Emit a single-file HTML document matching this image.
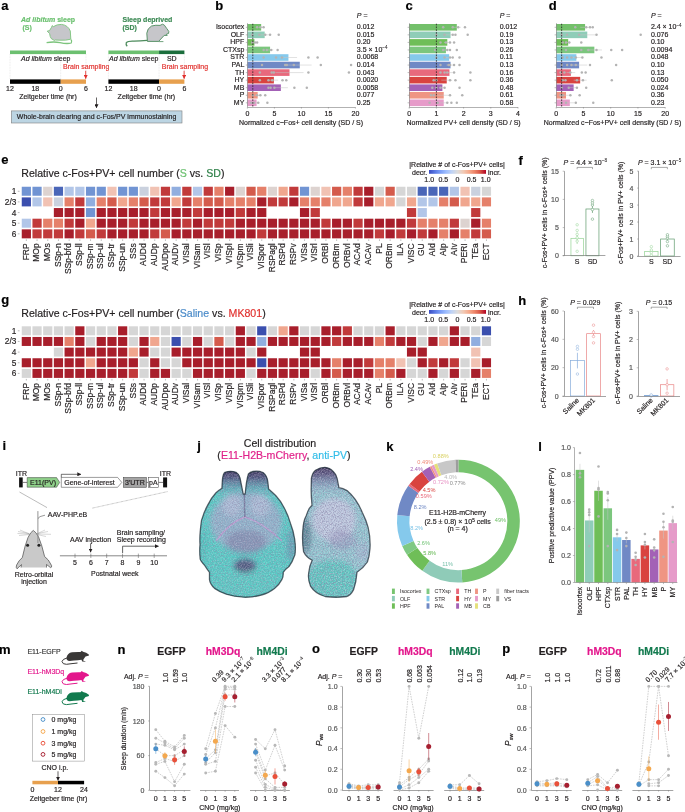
<!DOCTYPE html>
<html><head><meta charset="utf-8"><title>Figure</title>
<style>
html,body{margin:0;padding:0;background:#fff;}
body{width:685px;height:812px;overflow:hidden;}
svg{display:block;font-family:"Liberation Sans", sans-serif;font-size:7px;fill:#231f20;will-change:transform;}
text{stroke-width:0.18px;}
</style></head><body>
<svg width="685" height="812" viewBox="0 0 685 812">
<defs>
<marker id="arr" viewBox="0 0 6 6" refX="5.5" refY="3" markerUnits="userSpaceOnUse" markerWidth="4" markerHeight="4" orient="auto"><path d="M0,0 L6,3 L0,6 z" fill="#231f20"/></marker>
<marker id="arrR" viewBox="0 0 6 6" refX="5.5" refY="3" markerUnits="userSpaceOnUse" markerWidth="4" markerHeight="4" orient="auto"><path d="M0,0 L6,3 L0,6 z" fill="#e1312e"/></marker>
<linearGradient id="cw" x1="0" x2="1" y1="0" y2="0"><stop offset="0.00" stop-color="#3a4cc0"/><stop offset="0.10" stop-color="#5876e2"/><stop offset="0.20" stop-color="#7b9ef8"/><stop offset="0.30" stop-color="#9dbdfe"/><stop offset="0.40" stop-color="#c0d3f5"/><stop offset="0.50" stop-color="#dddcdb"/><stop offset="0.60" stop-color="#f1cab6"/><stop offset="0.70" stop-color="#f6ab8d"/><stop offset="0.80" stop-color="#ed8467"/><stop offset="0.90" stop-color="#d65243"/><stop offset="1.00" stop-color="#b30326"/></linearGradient>
<clipPath id="cb1"><path d="M221.9,488.4 L222.4,480 Q223,473.5 225,472.3 Q230.7,470.3 236,472.3 Q239,474 240,478 L243.2,494 L245.2,494 Q246.4,480 248.4,474 Q250,472.3 253,471.5 Q258.4,470.5 263,472.5 Q267.5,476 267.9,482.5 L268.6,489 Q272,492 275.9,495.7 Q281,501 284.7,508.8 Q288,515 290.5,523.4 Q293.5,531 294.6,538.8 Q296,548 294.9,554.8 Q292.5,562 289,566.5 Q285,569.5 283.2,572.3 Q283.6,576 281.8,579.6 Q279,585 274.5,588.4 Q268,593.5 261.3,595 Q252,597.5 243.8,597.2 Q234,596.5 226.3,594.2 Q219,591.5 214.6,588.4 Q210,584 209.5,579.6 L209.5,572.3 Q206.5,568.5 204.4,565 Q200.6,561 200.2,559.2 Q199.4,552 200,544.6 Q199.6,537 200.3,530.7 Q200.8,525 201.5,520.5 Q204,512 207.3,505.9 Q211,498 216,492.7 Q219,490 221.9,488.4 Z"/></clipPath>
<clipPath id="cb2"><path d="M311.4,478.4 Q312.5,472.5 315.5,470.2 Q320,467.3 324.9,467.3 Q330,467.8 333,471.3 Q336.4,474.5 337.1,478.4 L338.9,487.7 Q343,488.3 347,490.6 Q351.5,494.5 355.2,499.4 Q359.5,505.5 362.2,512.2 Q366,519.5 368.1,527.4 Q370.6,538 370,548.2 Q369.5,556 367.4,562 Q363,568.5 357,572.3 Q356.3,582 353.6,589.6 Q350.5,595.5 346.7,596.5 Q336,598 325.2,596.5 Q315,593.5 310.5,586.1 Q307.6,579 308.8,572.3 Q309.5,565.5 312.2,560.3 Q306,557 303.6,551.7 Q302,541 302.8,531 Q303.2,521 306.2,515.7 Q307.8,511 309.1,508.7 L312,505.2 Q311,495 311.2,488 Z"/></clipPath>
<filter id="spk" x="0" y="0" width="1" height="1"><feTurbulence type="fractalNoise" baseFrequency="0.75" numOctaves="2" seed="5"/><feColorMatrix values="0 0 0 0 0.80  0 0 0 0 0.78  0 0 0 0 0.90  0 0 0 2.2 -0.85"/><feGaussianBlur stdDeviation="0.35"/></filter>
<filter id="spd" x="0" y="0" width="1" height="1"><feTurbulence type="fractalNoise" baseFrequency="0.9" numOctaves="2" seed="11"/><feColorMatrix values="0 0 0 0 0.25  0 0 0 0 0.22  0 0 0 0 0.38  0 0 0 3.0 -1.3"/><feGaussianBlur stdDeviation="0.3"/></filter>
<filter id="bl2"><feGaussianBlur stdDeviation="2.4"/></filter>
<filter id="bl1"><feGaussianBlur stdDeviation="0.7"/></filter>
<linearGradient id="bulbg" x1="0" x2="0" y1="0" y2="1"><stop offset="0" stop-color="#33254a"/><stop offset="0.3" stop-color="#4a3c6c" stop-opacity="0.85"/><stop offset="0.75" stop-color="#7a78a8" stop-opacity="0.25"/><stop offset="1" stop-color="#8a8ab0" stop-opacity="0"/></linearGradient>
</defs>
<text x="1.3" y="10.4" font-weight="bold" fill="#000" stroke="#000" font-size="13">a</text>
<text x="21" y="22" font-weight="bold" fill="#6cc070" stroke="#6cc070"><tspan font-style="italic">Ad libitum</tspan> sleep</text>
<text x="22.5" y="29.5" font-weight="bold" fill="#6cc070" stroke="#6cc070">(S)</text>
<text x="122.5" y="22" font-weight="bold" fill="#3d8a55" stroke="#3d8a55">Sleep deprived</text>
<text x="122.5" y="29.5" font-weight="bold" fill="#3d8a55" stroke="#3d8a55">(SD)</text>
<path d="M47.2,31.2 L49.5,30.6 L51.6,27.2 L52.2,25.6 L53.4,26.6 Q57,24.2 61.5,24.4 Q68,25.2 70.3,31 L70.8,39.2 Q66,40.6 60,40.2 L55.2,40 Q54.2,41.2 53.3,39.8 Q50.8,39 50.2,36.5 L49.6,33.5 Z" fill="#c6c6ca" stroke="#7cc47c" stroke-width="0.9"/>
<path d="M46.6,42.6 Q54,41.4 60,42.6 Q67,44.2 71.2,43 Q72.2,41.6 71.2,39.6" fill="none" stroke="#7cc47c" stroke-width="1.3"/>
<path d="M147.4,41.4 L146.8,33.2 Q147.2,28.5 151.5,26 Q156,24.8 160,25.4 L162.6,24.2 L164.4,25.2 Q166.8,28.6 168.8,31.4 L168.6,33.4 L166.2,34.4 L167.2,35.4 L164.2,35.4 L158.6,41.4 Z" fill="#c6c6ca" stroke="#4c8b5c" stroke-width="0.9"/>
<line x1="158.6" y1="41.6" x2="163.4" y2="41.6" stroke="#4c8b5c" stroke-width="0.8"/>
<path d="M147.2,40.4 Q140,40.9 134,41.2 Q128,40.9 126.3,42.6 Q125.6,44.6 127.2,46.3" fill="none" stroke="#4c8b5c" stroke-width="1.3"/>
<rect x="10" y="50.5" width="76" height="3.6" fill="#6cc070"/>
<line x1="10" y1="54.1" x2="10" y2="79.4" stroke="#c8c8c8" stroke-width="0.4" stroke-dasharray="0.8,0.8"/>
<line x1="60.67" y1="54.1" x2="60.67" y2="79.4" stroke="#c8c8c8" stroke-width="0.4" stroke-dasharray="0.8,0.8"/>
<line x1="86" y1="54.1" x2="86" y2="79.4" stroke="#c8c8c8" stroke-width="0.4" stroke-dasharray="0.8,0.8"/>
<rect x="10" y="79.4" width="50.67" height="4.4" fill="#000"/>
<rect x="60.67" y="79.4" width="25.33" height="4.4" fill="#e7a04e"/>
<text stroke="#231f20" x="21" y="61.3"><tspan font-style="italic">Ad libitum</tspan> sleep</text>
<text x="63" y="69" fill="#e1312e" stroke="#e1312e">Brain sampling</text>
<line x1="85.7" y1="70.8" x2="85.7" y2="78.6" stroke="#e1312e" stroke-width="0.85" marker-end="url(#arrR)"/>
<text stroke="#231f20" x="10" y="91.3" text-anchor="middle">12</text>
<text stroke="#231f20" x="35.33" y="91.3" text-anchor="middle">18</text>
<text stroke="#231f20" x="60.67" y="91.3" text-anchor="middle">0</text>
<text stroke="#231f20" x="86" y="91.3" text-anchor="middle">6</text>
<text stroke="#231f20" x="48" y="99.3" text-anchor="middle">Zeitgeber time (hr)</text>
<rect x="108.4" y="50.5" width="50.67" height="3.6" fill="#6cc070"/>
<rect x="159.07" y="50.5" width="25.33" height="3.6" fill="#1b6e3c"/>
<line x1="108.4" y1="54.1" x2="108.4" y2="79.4" stroke="#c8c8c8" stroke-width="0.4" stroke-dasharray="0.8,0.8"/>
<line x1="159.07" y1="54.1" x2="159.07" y2="79.4" stroke="#c8c8c8" stroke-width="0.4" stroke-dasharray="0.8,0.8"/>
<line x1="184.4" y1="54.1" x2="184.4" y2="79.4" stroke="#c8c8c8" stroke-width="0.4" stroke-dasharray="0.8,0.8"/>
<rect x="108.4" y="79.4" width="50.67" height="4.4" fill="#000"/>
<rect x="159.07" y="79.4" width="25.33" height="4.4" fill="#e7a04e"/>
<text stroke="#231f20" x="109" y="61.3"><tspan font-style="italic">Ad libitum</tspan> sleep</text>
<text stroke="#231f20" x="171.77" y="61.3" text-anchor="middle">SD</text>
<text x="184.9" y="69" text-anchor="middle" fill="#e1312e" stroke="#e1312e">Brain sampling</text>
<line x1="184.1" y1="70.8" x2="184.1" y2="78.6" stroke="#e1312e" stroke-width="0.85" marker-end="url(#arrR)"/>
<text stroke="#231f20" x="108.4" y="91.3" text-anchor="middle">12</text>
<text stroke="#231f20" x="133.73" y="91.3" text-anchor="middle">18</text>
<text stroke="#231f20" x="159.07" y="91.3" text-anchor="middle">0</text>
<text stroke="#231f20" x="184.4" y="91.3" text-anchor="middle">6</text>
<text stroke="#231f20" x="146.4" y="99.3" text-anchor="middle">Zeitgeber time (hr)</text>
<line x1="96.5" y1="97.5" x2="96.5" y2="107.8" stroke="#231f20" stroke-width="0.7" marker-end="url(#arr)"/>
<rect x="11.3" y="110.9" width="170.7" height="12.1" fill="#bcd5e3" stroke="#7f7f7f" stroke-width="0.6"/>
<text stroke="#231f20" x="96.6" y="119.4" text-anchor="middle">Whole-brain clearing and c-Fos/PV immunostaining</text>
<text x="215.2" y="10.4" font-weight="bold" fill="#000" stroke="#000" font-size="13">b</text>
<rect x="247.4" y="24" width="13.77" height="6.6" fill="#73c06a"/>
<line x1="259.01" y1="27.3" x2="263.33" y2="27.3" stroke="#c4c4c4" stroke-width="0.5"/>
<circle cx="257.12" cy="27.3" r="1.25" fill="#b3b3b3"/>
<circle cx="260.36" cy="27.3" r="1.25" fill="#b3b3b3"/>
<circle cx="263.6" cy="27.3" r="1.25" fill="#b3b3b3"/>
<line x1="245.8" y1="27.3" x2="247.4" y2="27.3" stroke="#7d7d7d" stroke-width="0.5"/>
<text stroke="#231f20" x="244.3" y="29.2" text-anchor="end">Isocortex</text>
<text stroke="#231f20" x="356.8" y="29.2">0.012</text>
<rect x="247.4" y="31.55" width="17.28" height="6.6" fill="#8fcdb8"/>
<line x1="259.82" y1="34.85" x2="269.54" y2="34.85" stroke="#c4c4c4" stroke-width="0.5"/>
<circle cx="252.26" cy="34.85" r="1.25" fill="#b3b3b3"/>
<circle cx="259.28" cy="34.85" r="1.25" fill="#b3b3b3"/>
<circle cx="265.22" cy="34.85" r="1.25" fill="#b3b3b3"/>
<circle cx="270.08" cy="34.85" r="1.25" fill="#b3b3b3"/>
<circle cx="278.72" cy="34.85" r="1.25" fill="#b3b3b3"/>
<line x1="245.8" y1="34.85" x2="247.4" y2="34.85" stroke="#7d7d7d" stroke-width="0.5"/>
<text stroke="#231f20" x="244.3" y="36.75" text-anchor="end">OLF</text>
<text stroke="#231f20" x="356.8" y="36.75">0.015</text>
<rect x="247.4" y="39.1" width="7.02" height="6.6" fill="#6fbe58"/>
<line x1="252.8" y1="42.4" x2="256.04" y2="42.4" stroke="#c4c4c4" stroke-width="0.5"/>
<circle cx="252.26" cy="42.4" r="1.25" fill="#b3b3b3"/>
<circle cx="254.96" cy="42.4" r="1.25" fill="#b3b3b3"/>
<circle cx="257.12" cy="42.4" r="1.25" fill="#b3b3b3"/>
<line x1="245.8" y1="42.4" x2="247.4" y2="42.4" stroke="#7d7d7d" stroke-width="0.5"/>
<text stroke="#231f20" x="244.3" y="44.3" text-anchor="end">HPF</text>
<text stroke="#231f20" x="356.8" y="44.3">0.20</text>
<rect x="247.4" y="46.65" width="22.68" height="6.6" fill="#7cc67e"/>
<line x1="266.84" y1="49.95" x2="273.32" y2="49.95" stroke="#c4c4c4" stroke-width="0.5"/>
<circle cx="263.6" cy="49.95" r="1.25" fill="#b3b3b3"/>
<circle cx="266.84" cy="49.95" r="1.25" fill="#b3b3b3"/>
<circle cx="271.16" cy="49.95" r="1.25" fill="#b3b3b3"/>
<circle cx="277.64" cy="49.95" r="1.25" fill="#b3b3b3"/>
<line x1="245.8" y1="49.95" x2="247.4" y2="49.95" stroke="#7d7d7d" stroke-width="0.5"/>
<text stroke="#231f20" x="244.3" y="51.85" text-anchor="end">CTXsp</text>
<text stroke="#231f20" x="356.8" y="51.85">3.5 × 10<tspan dy="-2.6" font-size="4.6" style="stroke-width:0.06px">−4</tspan></text>
<rect x="247.4" y="54.2" width="41.04" height="6.6" fill="#85c9ec"/>
<line x1="279.8" y1="57.5" x2="297.08" y2="57.5" stroke="#c4c4c4" stroke-width="0.5"/>
<circle cx="263.6" cy="57.5" r="1.25" fill="#b3b3b3"/>
<circle cx="276.02" cy="57.5" r="1.25" fill="#b3b3b3"/>
<circle cx="281.96" cy="57.5" r="1.25" fill="#b3b3b3"/>
<circle cx="308.42" cy="57.5" r="1.25" fill="#b3b3b3"/>
<circle cx="317.6" cy="57.5" r="1.25" fill="#b3b3b3"/>
<line x1="245.8" y1="57.5" x2="247.4" y2="57.5" stroke="#7d7d7d" stroke-width="0.5"/>
<text stroke="#231f20" x="244.3" y="59.4" text-anchor="end">STR</text>
<text stroke="#231f20" x="356.8" y="59.4">0.0068</text>
<rect x="247.4" y="61.75" width="52.38" height="6.6" fill="#7089c5"/>
<line x1="287.9" y1="65.05" x2="311.66" y2="65.05" stroke="#c4c4c4" stroke-width="0.5"/>
<circle cx="261.98" cy="65.05" r="1.25" fill="#b3b3b3"/>
<circle cx="285.2" cy="65.05" r="1.25" fill="#b3b3b3"/>
<circle cx="286.82" cy="65.05" r="1.25" fill="#b3b3b3"/>
<circle cx="293.84" cy="65.05" r="1.25" fill="#b3b3b3"/>
<circle cx="320.84" cy="65.05" r="1.25" fill="#b3b3b3"/>
<circle cx="351.08" cy="65.05" r="1.25" fill="#b3b3b3"/>
<line x1="245.8" y1="65.05" x2="247.4" y2="65.05" stroke="#7d7d7d" stroke-width="0.5"/>
<text stroke="#231f20" x="244.3" y="66.95" text-anchor="end">PAL</text>
<text stroke="#231f20" x="356.8" y="66.95">0.014</text>
<rect x="247.4" y="69.3" width="42.12" height="6.6" fill="#e8697c"/>
<line x1="275.48" y1="72.6" x2="303.56" y2="72.6" stroke="#c4c4c4" stroke-width="0.5"/>
<circle cx="259.82" cy="72.6" r="1.25" fill="#b3b3b3"/>
<circle cx="271.7" cy="72.6" r="1.25" fill="#b3b3b3"/>
<circle cx="273.86" cy="72.6" r="1.25" fill="#b3b3b3"/>
<circle cx="308.42" cy="72.6" r="1.25" fill="#b3b3b3"/>
<circle cx="348.92" cy="72.6" r="1.25" fill="#b3b3b3"/>
<line x1="245.8" y1="72.6" x2="247.4" y2="72.6" stroke="#7d7d7d" stroke-width="0.5"/>
<text stroke="#231f20" x="244.3" y="74.5" text-anchor="end">TH</text>
<text stroke="#231f20" x="356.8" y="74.5">0.043</text>
<rect x="247.4" y="76.85" width="26.46" height="6.6" fill="#d9433f"/>
<line x1="269.54" y1="80.15" x2="278.18" y2="80.15" stroke="#c4c4c4" stroke-width="0.5"/>
<circle cx="259.82" cy="80.15" r="1.25" fill="#b3b3b3"/>
<circle cx="268.46" cy="80.15" r="1.25" fill="#b3b3b3"/>
<circle cx="272.24" cy="80.15" r="1.25" fill="#b3b3b3"/>
<circle cx="282.5" cy="80.15" r="1.25" fill="#b3b3b3"/>
<circle cx="286.28" cy="80.15" r="1.25" fill="#b3b3b3"/>
<line x1="245.8" y1="80.15" x2="247.4" y2="80.15" stroke="#7d7d7d" stroke-width="0.5"/>
<text stroke="#231f20" x="244.3" y="82.05" text-anchor="end">HY</text>
<text stroke="#231f20" x="356.8" y="82.05">0.0020</text>
<rect x="247.4" y="84.4" width="33.48" height="6.6" fill="#a361b6"/>
<line x1="273.86" y1="87.7" x2="287.9" y2="87.7" stroke="#c4c4c4" stroke-width="0.5"/>
<circle cx="268.46" cy="87.7" r="1.25" fill="#b3b3b3"/>
<circle cx="270.62" cy="87.7" r="1.25" fill="#b3b3b3"/>
<circle cx="274.4" cy="87.7" r="1.25" fill="#b3b3b3"/>
<circle cx="294.38" cy="87.7" r="1.25" fill="#b3b3b3"/>
<circle cx="306.8" cy="87.7" r="1.25" fill="#b3b3b3"/>
<line x1="245.8" y1="87.7" x2="247.4" y2="87.7" stroke="#7d7d7d" stroke-width="0.5"/>
<text stroke="#231f20" x="244.3" y="89.6" text-anchor="end">MB</text>
<text stroke="#231f20" x="356.8" y="89.6">0.0058</text>
<rect x="247.4" y="91.95" width="10.26" height="6.6" fill="#ef9583"/>
<line x1="254.96" y1="95.25" x2="260.36" y2="95.25" stroke="#c4c4c4" stroke-width="0.5"/>
<circle cx="252.8" cy="95.25" r="1.25" fill="#b3b3b3"/>
<circle cx="257.12" cy="95.25" r="1.25" fill="#b3b3b3"/>
<circle cx="260.36" cy="95.25" r="1.25" fill="#b3b3b3"/>
<circle cx="265.22" cy="95.25" r="1.25" fill="#b3b3b3"/>
<line x1="245.8" y1="95.25" x2="247.4" y2="95.25" stroke="#7d7d7d" stroke-width="0.5"/>
<text stroke="#231f20" x="244.3" y="97.15" text-anchor="end">P</text>
<text stroke="#231f20" x="356.8" y="97.15">0.077</text>
<rect x="247.4" y="99.5" width="9.18" height="6.6" fill="#e69bc9"/>
<line x1="253.34" y1="102.8" x2="259.82" y2="102.8" stroke="#c4c4c4" stroke-width="0.5"/>
<circle cx="251.18" cy="102.8" r="1.25" fill="#b3b3b3"/>
<circle cx="253.88" cy="102.8" r="1.25" fill="#b3b3b3"/>
<circle cx="258.2" cy="102.8" r="1.25" fill="#b3b3b3"/>
<circle cx="267.38" cy="102.8" r="1.25" fill="#b3b3b3"/>
<line x1="245.8" y1="102.8" x2="247.4" y2="102.8" stroke="#7d7d7d" stroke-width="0.5"/>
<text stroke="#231f20" x="244.3" y="104.7" text-anchor="end">MY</text>
<text stroke="#231f20" x="356.8" y="104.7">0.25</text>
<line x1="252.8" y1="23.73" x2="252.8" y2="107" stroke="#231f20" stroke-width="0.8" stroke-dasharray="1.6,1.2"/>
<line x1="247.5" y1="23.23" x2="247.5" y2="107" stroke="#7d7d7d" stroke-width="0.6"/>
<line x1="247.4" y1="107.5" x2="355.4" y2="107.5" stroke="#7d7d7d" stroke-width="0.6"/>
<line x1="247.4" y1="107" x2="247.4" y2="108.6" stroke="#7d7d7d" stroke-width="0.5"/>
<text stroke="#231f20" x="247.4" y="115.8" text-anchor="middle">0</text>
<line x1="274.4" y1="107" x2="274.4" y2="108.6" stroke="#7d7d7d" stroke-width="0.5"/>
<text stroke="#231f20" x="274.4" y="115.8" text-anchor="middle">5</text>
<line x1="301.4" y1="107" x2="301.4" y2="108.6" stroke="#7d7d7d" stroke-width="0.5"/>
<text stroke="#231f20" x="301.4" y="115.8" text-anchor="middle">10</text>
<line x1="328.4" y1="107" x2="328.4" y2="108.6" stroke="#7d7d7d" stroke-width="0.5"/>
<text stroke="#231f20" x="328.4" y="115.8" text-anchor="middle">15</text>
<line x1="355.4" y1="107" x2="355.4" y2="108.6" stroke="#7d7d7d" stroke-width="0.5"/>
<text stroke="#231f20" x="355.4" y="115.8" text-anchor="middle">20</text>
<text stroke="#231f20" x="356.8" y="18"><tspan font-style="italic">P</tspan> =</text>
<text stroke="#231f20" x="301" y="124.8" text-anchor="middle">Normalized c−Fos+ cell density (SD / S)</text>
<text x="405.6" y="10.4" font-weight="bold" fill="#000" stroke="#000" font-size="13">c</text>
<rect x="409.2" y="24" width="47.6" height="6.6" fill="#73c06a"/>
<line x1="452.72" y1="27.3" x2="460.88" y2="27.3" stroke="#c4c4c4" stroke-width="0.5"/>
<circle cx="443.2" cy="27.3" r="1.25" fill="#b3b3b3"/>
<circle cx="452.72" cy="27.3" r="1.25" fill="#b3b3b3"/>
<circle cx="458.16" cy="27.3" r="1.25" fill="#b3b3b3"/>
<circle cx="464.96" cy="27.3" r="1.25" fill="#b3b3b3"/>
<line x1="407.6" y1="27.3" x2="409.2" y2="27.3" stroke="#7d7d7d" stroke-width="0.5"/>
<text stroke="#231f20" x="499.7" y="29.2">0.012</text>
<rect x="409.2" y="31.55" width="41.34" height="6.6" fill="#8fcdb8"/>
<line x1="445.1" y1="34.85" x2="455.98" y2="34.85" stroke="#c4c4c4" stroke-width="0.5"/>
<circle cx="436.4" cy="34.85" r="1.25" fill="#b3b3b3"/>
<circle cx="444.56" cy="34.85" r="1.25" fill="#b3b3b3"/>
<circle cx="452.72" cy="34.85" r="1.25" fill="#b3b3b3"/>
<circle cx="455.44" cy="34.85" r="1.25" fill="#b3b3b3"/>
<circle cx="467.68" cy="34.85" r="1.25" fill="#b3b3b3"/>
<line x1="407.6" y1="34.85" x2="409.2" y2="34.85" stroke="#7d7d7d" stroke-width="0.5"/>
<text stroke="#231f20" x="499.7" y="36.75">0.19</text>
<rect x="409.2" y="39.1" width="38.08" height="6.6" fill="#6fbe58"/>
<line x1="444.02" y1="42.4" x2="450.54" y2="42.4" stroke="#c4c4c4" stroke-width="0.5"/>
<circle cx="440.48" cy="42.4" r="1.25" fill="#b3b3b3"/>
<circle cx="445.92" cy="42.4" r="1.25" fill="#b3b3b3"/>
<circle cx="450" cy="42.4" r="1.25" fill="#b3b3b3"/>
<circle cx="454.08" cy="42.4" r="1.25" fill="#b3b3b3"/>
<line x1="407.6" y1="42.4" x2="409.2" y2="42.4" stroke="#7d7d7d" stroke-width="0.5"/>
<text stroke="#231f20" x="499.7" y="44.3">0.13</text>
<rect x="409.2" y="46.65" width="36.72" height="6.6" fill="#7cc67e"/>
<line x1="442.66" y1="49.95" x2="449.18" y2="49.95" stroke="#c4c4c4" stroke-width="0.5"/>
<circle cx="435.04" cy="49.95" r="1.25" fill="#b3b3b3"/>
<circle cx="443.2" cy="49.95" r="1.25" fill="#b3b3b3"/>
<circle cx="447.28" cy="49.95" r="1.25" fill="#b3b3b3"/>
<circle cx="450" cy="49.95" r="1.25" fill="#b3b3b3"/>
<circle cx="456.8" cy="49.95" r="1.25" fill="#b3b3b3"/>
<line x1="407.6" y1="49.95" x2="409.2" y2="49.95" stroke="#7d7d7d" stroke-width="0.5"/>
<text stroke="#231f20" x="499.7" y="51.85">0.26</text>
<rect x="409.2" y="54.2" width="39.98" height="6.6" fill="#85c9ec"/>
<line x1="445.1" y1="57.5" x2="453.26" y2="57.5" stroke="#c4c4c4" stroke-width="0.5"/>
<circle cx="436.4" cy="57.5" r="1.25" fill="#b3b3b3"/>
<circle cx="444.56" cy="57.5" r="1.25" fill="#b3b3b3"/>
<circle cx="450" cy="57.5" r="1.25" fill="#b3b3b3"/>
<circle cx="452.72" cy="57.5" r="1.25" fill="#b3b3b3"/>
<circle cx="459.52" cy="57.5" r="1.25" fill="#b3b3b3"/>
<line x1="407.6" y1="57.5" x2="409.2" y2="57.5" stroke="#7d7d7d" stroke-width="0.5"/>
<text stroke="#231f20" x="499.7" y="59.4">0.11</text>
<rect x="409.2" y="61.75" width="41.34" height="6.6" fill="#7089c5"/>
<line x1="446.46" y1="65.05" x2="454.62" y2="65.05" stroke="#c4c4c4" stroke-width="0.5"/>
<circle cx="440.48" cy="65.05" r="1.25" fill="#b3b3b3"/>
<circle cx="448.64" cy="65.05" r="1.25" fill="#b3b3b3"/>
<circle cx="450" cy="65.05" r="1.25" fill="#b3b3b3"/>
<circle cx="454.08" cy="65.05" r="1.25" fill="#b3b3b3"/>
<circle cx="459.52" cy="65.05" r="1.25" fill="#b3b3b3"/>
<line x1="407.6" y1="65.05" x2="409.2" y2="65.05" stroke="#7d7d7d" stroke-width="0.5"/>
<text stroke="#231f20" x="499.7" y="66.95">0.13</text>
<rect x="409.2" y="69.3" width="40.26" height="6.6" fill="#e8697c"/>
<line x1="446.19" y1="72.6" x2="452.72" y2="72.6" stroke="#c4c4c4" stroke-width="0.5"/>
<circle cx="440.48" cy="72.6" r="1.25" fill="#b3b3b3"/>
<circle cx="444.56" cy="72.6" r="1.25" fill="#b3b3b3"/>
<circle cx="447.28" cy="72.6" r="1.25" fill="#b3b3b3"/>
<circle cx="454.08" cy="72.6" r="1.25" fill="#b3b3b3"/>
<circle cx="470.4" cy="72.6" r="1.25" fill="#b3b3b3"/>
<line x1="407.6" y1="72.6" x2="409.2" y2="72.6" stroke="#7d7d7d" stroke-width="0.5"/>
<text stroke="#231f20" x="499.7" y="74.5">0.16</text>
<rect x="409.2" y="76.85" width="37.54" height="6.6" fill="#d9433f"/>
<line x1="441.3" y1="80.15" x2="452.18" y2="80.15" stroke="#c4c4c4" stroke-width="0.5"/>
<circle cx="433.68" cy="80.15" r="1.25" fill="#b3b3b3"/>
<circle cx="436.4" cy="80.15" r="1.25" fill="#b3b3b3"/>
<circle cx="450" cy="80.15" r="1.25" fill="#b3b3b3"/>
<circle cx="455.44" cy="80.15" r="1.25" fill="#b3b3b3"/>
<circle cx="470.4" cy="80.15" r="1.25" fill="#b3b3b3"/>
<line x1="407.6" y1="80.15" x2="409.2" y2="80.15" stroke="#7d7d7d" stroke-width="0.5"/>
<text stroke="#231f20" x="499.7" y="82.05">0.36</text>
<rect x="409.2" y="84.4" width="33.18" height="6.6" fill="#a361b6"/>
<line x1="439.66" y1="87.7" x2="445.1" y2="87.7" stroke="#c4c4c4" stroke-width="0.5"/>
<circle cx="432.32" cy="87.7" r="1.25" fill="#b3b3b3"/>
<circle cx="436.4" cy="87.7" r="1.25" fill="#b3b3b3"/>
<circle cx="440.48" cy="87.7" r="1.25" fill="#b3b3b3"/>
<circle cx="444.56" cy="87.7" r="1.25" fill="#b3b3b3"/>
<circle cx="459.52" cy="87.7" r="1.25" fill="#b3b3b3"/>
<line x1="407.6" y1="87.7" x2="409.2" y2="87.7" stroke="#7d7d7d" stroke-width="0.5"/>
<text stroke="#231f20" x="499.7" y="89.6">0.48</text>
<rect x="409.2" y="91.95" width="34.54" height="6.6" fill="#ef9583"/>
<line x1="436.94" y1="95.25" x2="450.54" y2="95.25" stroke="#c4c4c4" stroke-width="0.5"/>
<circle cx="430.96" cy="95.25" r="1.25" fill="#b3b3b3"/>
<circle cx="433.68" cy="95.25" r="1.25" fill="#b3b3b3"/>
<circle cx="450" cy="95.25" r="1.25" fill="#b3b3b3"/>
<circle cx="462.24" cy="95.25" r="1.25" fill="#b3b3b3"/>
<line x1="407.6" y1="95.25" x2="409.2" y2="95.25" stroke="#7d7d7d" stroke-width="0.5"/>
<text stroke="#231f20" x="499.7" y="97.15">0.61</text>
<rect x="409.2" y="99.5" width="34.54" height="6.6" fill="#e69bc9"/>
<line x1="439.66" y1="102.8" x2="447.82" y2="102.8" stroke="#c4c4c4" stroke-width="0.5"/>
<circle cx="429.6" cy="102.8" r="1.25" fill="#b3b3b3"/>
<circle cx="437.76" cy="102.8" r="1.25" fill="#b3b3b3"/>
<circle cx="447.28" cy="102.8" r="1.25" fill="#b3b3b3"/>
<circle cx="451.36" cy="102.8" r="1.25" fill="#b3b3b3"/>
<circle cx="456.8" cy="102.8" r="1.25" fill="#b3b3b3"/>
<line x1="407.6" y1="102.8" x2="409.2" y2="102.8" stroke="#7d7d7d" stroke-width="0.5"/>
<text stroke="#231f20" x="499.7" y="104.7">0.58</text>
<line x1="436.4" y1="23.73" x2="436.4" y2="107" stroke="#231f20" stroke-width="0.8" stroke-dasharray="1.6,1.2"/>
<line x1="409.5" y1="23.23" x2="409.5" y2="107" stroke="#7d7d7d" stroke-width="0.6"/>
<line x1="409.2" y1="107.5" x2="518" y2="107.5" stroke="#7d7d7d" stroke-width="0.6"/>
<line x1="409.2" y1="107" x2="409.2" y2="108.6" stroke="#7d7d7d" stroke-width="0.5"/>
<text stroke="#231f20" x="409.2" y="115.8" text-anchor="middle">0</text>
<line x1="436.4" y1="107" x2="436.4" y2="108.6" stroke="#7d7d7d" stroke-width="0.5"/>
<text stroke="#231f20" x="436.4" y="115.8" text-anchor="middle">1</text>
<line x1="463.6" y1="107" x2="463.6" y2="108.6" stroke="#7d7d7d" stroke-width="0.5"/>
<text stroke="#231f20" x="463.6" y="115.8" text-anchor="middle">2</text>
<line x1="490.8" y1="107" x2="490.8" y2="108.6" stroke="#7d7d7d" stroke-width="0.5"/>
<text stroke="#231f20" x="490.8" y="115.8" text-anchor="middle">3</text>
<line x1="518" y1="107" x2="518" y2="108.6" stroke="#7d7d7d" stroke-width="0.5"/>
<text stroke="#231f20" x="518" y="115.8" text-anchor="middle">4</text>
<text stroke="#231f20" x="499.7" y="18"><tspan font-style="italic">P</tspan> =</text>
<text stroke="#231f20" x="463.6" y="124.8" text-anchor="middle">Normalized PV+ cell density (SD / S)</text>
<text x="548.8" y="10.4" font-weight="bold" fill="#000" stroke="#000" font-size="13">d</text>
<rect x="556.2" y="24" width="28.89" height="6.6" fill="#73c06a"/>
<line x1="580.18" y1="27.3" x2="589.99" y2="27.3" stroke="#c4c4c4" stroke-width="0.5"/>
<circle cx="575.28" cy="27.3" r="1.25" fill="#b3b3b3"/>
<circle cx="586.18" cy="27.3" r="1.25" fill="#b3b3b3"/>
<circle cx="589.99" cy="27.3" r="1.25" fill="#b3b3b3"/>
<circle cx="592.72" cy="27.3" r="1.25" fill="#b3b3b3"/>
<line x1="554.6" y1="27.3" x2="556.2" y2="27.3" stroke="#7d7d7d" stroke-width="0.5"/>
<text stroke="#231f20" x="650.9" y="29.2">2.4 × 10<tspan dy="-2.6" font-size="4.6" style="stroke-width:0.06px">−4</tspan></text>
<rect x="556.2" y="31.55" width="31.07" height="6.6" fill="#8fcdb8"/>
<line x1="578.55" y1="34.85" x2="595.99" y2="34.85" stroke="#c4c4c4" stroke-width="0.5"/>
<circle cx="561.65" cy="34.85" r="1.25" fill="#b3b3b3"/>
<circle cx="567.1" cy="34.85" r="1.25" fill="#b3b3b3"/>
<circle cx="579.09" cy="34.85" r="1.25" fill="#b3b3b3"/>
<circle cx="596.53" cy="34.85" r="1.25" fill="#b3b3b3"/>
<circle cx="640.68" cy="34.85" r="1.25" fill="#b3b3b3"/>
<line x1="554.6" y1="34.85" x2="556.2" y2="34.85" stroke="#7d7d7d" stroke-width="0.5"/>
<text stroke="#231f20" x="650.9" y="36.75">0.076</text>
<rect x="556.2" y="39.1" width="11.99" height="6.6" fill="#6fbe58"/>
<line x1="566.01" y1="42.4" x2="570.37" y2="42.4" stroke="#c4c4c4" stroke-width="0.5"/>
<circle cx="562.74" cy="42.4" r="1.25" fill="#b3b3b3"/>
<circle cx="566.01" cy="42.4" r="1.25" fill="#b3b3b3"/>
<circle cx="569.28" cy="42.4" r="1.25" fill="#b3b3b3"/>
<circle cx="581.27" cy="42.4" r="1.25" fill="#b3b3b3"/>
<line x1="554.6" y1="42.4" x2="556.2" y2="42.4" stroke="#7d7d7d" stroke-width="0.5"/>
<text stroke="#231f20" x="650.9" y="44.3">0.10</text>
<rect x="556.2" y="46.65" width="38.15" height="6.6" fill="#7cc67e"/>
<line x1="586.72" y1="49.95" x2="601.98" y2="49.95" stroke="#c4c4c4" stroke-width="0.5"/>
<circle cx="566.01" cy="49.95" r="1.25" fill="#b3b3b3"/>
<circle cx="581.27" cy="49.95" r="1.25" fill="#b3b3b3"/>
<circle cx="588.36" cy="49.95" r="1.25" fill="#b3b3b3"/>
<circle cx="596.53" cy="49.95" r="1.25" fill="#b3b3b3"/>
<circle cx="611.25" cy="49.95" r="1.25" fill="#b3b3b3"/>
<circle cx="622.14" cy="49.95" r="1.25" fill="#b3b3b3"/>
<line x1="554.6" y1="49.95" x2="556.2" y2="49.95" stroke="#7d7d7d" stroke-width="0.5"/>
<text stroke="#231f20" x="650.9" y="51.85">0.0094</text>
<rect x="556.2" y="54.2" width="20.17" height="6.6" fill="#85c9ec"/>
<line x1="571.46" y1="57.5" x2="581.27" y2="57.5" stroke="#c4c4c4" stroke-width="0.5"/>
<circle cx="562.74" cy="57.5" r="1.25" fill="#b3b3b3"/>
<circle cx="567.1" cy="57.5" r="1.25" fill="#b3b3b3"/>
<circle cx="571.46" cy="57.5" r="1.25" fill="#b3b3b3"/>
<circle cx="575.82" cy="57.5" r="1.25" fill="#b3b3b3"/>
<circle cx="582.36" cy="57.5" r="1.25" fill="#b3b3b3"/>
<circle cx="601.44" cy="57.5" r="1.25" fill="#b3b3b3"/>
<line x1="554.6" y1="57.5" x2="556.2" y2="57.5" stroke="#7d7d7d" stroke-width="0.5"/>
<text stroke="#231f20" x="650.9" y="59.4">0.048</text>
<rect x="556.2" y="61.75" width="22.89" height="6.6" fill="#7089c5"/>
<line x1="570.92" y1="65.05" x2="587.27" y2="65.05" stroke="#c4c4c4" stroke-width="0.5"/>
<circle cx="561.65" cy="65.05" r="1.25" fill="#b3b3b3"/>
<circle cx="567.1" cy="65.05" r="1.25" fill="#b3b3b3"/>
<circle cx="571.46" cy="65.05" r="1.25" fill="#b3b3b3"/>
<circle cx="575.82" cy="65.05" r="1.25" fill="#b3b3b3"/>
<circle cx="589.99" cy="65.05" r="1.25" fill="#b3b3b3"/>
<circle cx="616.15" cy="65.05" r="1.25" fill="#b3b3b3"/>
<line x1="554.6" y1="65.05" x2="556.2" y2="65.05" stroke="#7d7d7d" stroke-width="0.5"/>
<text stroke="#231f20" x="650.9" y="66.95">0.10</text>
<rect x="556.2" y="69.3" width="14.72" height="6.6" fill="#e8697c"/>
<line x1="566.56" y1="72.6" x2="575.28" y2="72.6" stroke="#c4c4c4" stroke-width="0.5"/>
<circle cx="560.56" cy="72.6" r="1.25" fill="#b3b3b3"/>
<circle cx="564.38" cy="72.6" r="1.25" fill="#b3b3b3"/>
<circle cx="570.37" cy="72.6" r="1.25" fill="#b3b3b3"/>
<circle cx="581.82" cy="72.6" r="1.25" fill="#b3b3b3"/>
<circle cx="585.63" cy="72.6" r="1.25" fill="#b3b3b3"/>
<line x1="554.6" y1="72.6" x2="556.2" y2="72.6" stroke="#7d7d7d" stroke-width="0.5"/>
<text stroke="#231f20" x="650.9" y="74.5">0.13</text>
<rect x="556.2" y="76.85" width="23.98" height="6.6" fill="#d9433f"/>
<line x1="573.64" y1="80.15" x2="586.72" y2="80.15" stroke="#c4c4c4" stroke-width="0.5"/>
<circle cx="562.74" cy="80.15" r="1.25" fill="#b3b3b3"/>
<circle cx="565.47" cy="80.15" r="1.25" fill="#b3b3b3"/>
<circle cx="576.91" cy="80.15" r="1.25" fill="#b3b3b3"/>
<circle cx="582.91" cy="80.15" r="1.25" fill="#b3b3b3"/>
<circle cx="611.79" cy="80.15" r="1.25" fill="#b3b3b3"/>
<line x1="554.6" y1="80.15" x2="556.2" y2="80.15" stroke="#7d7d7d" stroke-width="0.5"/>
<text stroke="#231f20" x="650.9" y="82.05">0.050</text>
<rect x="556.2" y="84.4" width="17.44" height="6.6" fill="#a361b6"/>
<line x1="569.83" y1="87.7" x2="577.46" y2="87.7" stroke="#c4c4c4" stroke-width="0.5"/>
<circle cx="561.65" cy="87.7" r="1.25" fill="#b3b3b3"/>
<circle cx="568.74" cy="87.7" r="1.25" fill="#b3b3b3"/>
<circle cx="576.91" cy="87.7" r="1.25" fill="#b3b3b3"/>
<circle cx="586.18" cy="87.7" r="1.25" fill="#b3b3b3"/>
<line x1="554.6" y1="87.7" x2="556.2" y2="87.7" stroke="#7d7d7d" stroke-width="0.5"/>
<text stroke="#231f20" x="650.9" y="89.6">0.024</text>
<rect x="556.2" y="91.95" width="9.81" height="6.6" fill="#ef9583"/>
<line x1="561.65" y1="95.25" x2="570.37" y2="95.25" stroke="#c4c4c4" stroke-width="0.5"/>
<circle cx="560.56" cy="95.25" r="1.25" fill="#b3b3b3"/>
<circle cx="562.74" cy="95.25" r="1.25" fill="#b3b3b3"/>
<circle cx="570.37" cy="95.25" r="1.25" fill="#b3b3b3"/>
<circle cx="579.63" cy="95.25" r="1.25" fill="#b3b3b3"/>
<line x1="554.6" y1="95.25" x2="556.2" y2="95.25" stroke="#7d7d7d" stroke-width="0.5"/>
<text stroke="#231f20" x="650.9" y="97.15">0.36</text>
<rect x="556.2" y="99.5" width="13.62" height="6.6" fill="#e69bc9"/>
<line x1="564.92" y1="102.8" x2="574.73" y2="102.8" stroke="#c4c4c4" stroke-width="0.5"/>
<circle cx="561.65" cy="102.8" r="1.25" fill="#b3b3b3"/>
<circle cx="566.01" cy="102.8" r="1.25" fill="#b3b3b3"/>
<circle cx="575.82" cy="102.8" r="1.25" fill="#b3b3b3"/>
<circle cx="593.26" cy="102.8" r="1.25" fill="#b3b3b3"/>
<line x1="554.6" y1="102.8" x2="556.2" y2="102.8" stroke="#7d7d7d" stroke-width="0.5"/>
<text stroke="#231f20" x="650.9" y="104.7">0.23</text>
<line x1="561.65" y1="23.73" x2="561.65" y2="107" stroke="#231f20" stroke-width="0.8" stroke-dasharray="1.6,1.2"/>
<line x1="556.5" y1="23.23" x2="556.5" y2="107" stroke="#7d7d7d" stroke-width="0.6"/>
<line x1="556.2" y1="107.5" x2="665.2" y2="107.5" stroke="#7d7d7d" stroke-width="0.6"/>
<line x1="556.2" y1="107" x2="556.2" y2="108.6" stroke="#7d7d7d" stroke-width="0.5"/>
<text stroke="#231f20" x="556.2" y="115.8" text-anchor="middle">0</text>
<line x1="583.45" y1="107" x2="583.45" y2="108.6" stroke="#7d7d7d" stroke-width="0.5"/>
<text stroke="#231f20" x="583.45" y="115.8" text-anchor="middle">5</text>
<line x1="610.7" y1="107" x2="610.7" y2="108.6" stroke="#7d7d7d" stroke-width="0.5"/>
<text stroke="#231f20" x="610.7" y="115.8" text-anchor="middle">10</text>
<line x1="637.95" y1="107" x2="637.95" y2="108.6" stroke="#7d7d7d" stroke-width="0.5"/>
<text stroke="#231f20" x="637.95" y="115.8" text-anchor="middle">15</text>
<line x1="665.2" y1="107" x2="665.2" y2="108.6" stroke="#7d7d7d" stroke-width="0.5"/>
<text stroke="#231f20" x="665.2" y="115.8" text-anchor="middle">20</text>
<text stroke="#231f20" x="650.9" y="18"><tspan font-style="italic">P</tspan> =</text>
<text stroke="#231f20" x="612.5" y="124.8" text-anchor="middle">Normalized c−Fos+PV+ cell density (SD / S)</text>
<text x="1.3" y="163.7" font-weight="bold" fill="#000" stroke="#000" font-size="13">e</text>
<text stroke="#231f20" x="21.3" y="176.8" font-size="10.6">Relative c-Fos+PV+ cell number (<tspan fill="#6cc070" stroke="#6cc070">S</tspan> vs. <tspan fill="#2e8048" stroke="#2e8048">SD</tspan>)</text>
<text stroke="#231f20" x="457" y="167" text-anchor="middle">|Relative # of c-Fos+PV+ cells|</text>
<text stroke="#231f20" x="427.2" y="174.8" text-anchor="end">decr.</text>
<text stroke="#231f20" x="488" y="174.8">incr.</text>
<rect x="429" y="170" width="57" height="3.8" fill="url(#cw)"/>
<text stroke="#231f20" x="429.2" y="181.6" text-anchor="middle">1.0</text>
<text stroke="#231f20" x="443.3" y="181.6" text-anchor="middle">0.5</text>
<text stroke="#231f20" x="457.4" y="181.6" text-anchor="middle">0</text>
<text stroke="#231f20" x="471.6" y="181.6" text-anchor="middle">0.5</text>
<text stroke="#231f20" x="485.7" y="181.6" text-anchor="middle">1.0</text>
<rect x="21.75" y="186.75" width="9.2" height="9" fill="#7194d3"/>
<rect x="32.45" y="186.75" width="9.2" height="9" fill="#7194d3"/>
<rect x="43.15" y="186.75" width="9.2" height="9" fill="#ddd3d0"/>
<rect x="53.85" y="186.75" width="9.2" height="9" fill="#4a66b8"/>
<rect x="64.55" y="186.75" width="9.2" height="9" fill="#b2c6e8"/>
<rect x="75.25" y="186.75" width="9.2" height="9" fill="#b2c6e8"/>
<rect x="85.95" y="186.75" width="9.2" height="9" fill="#7194d3"/>
<rect x="96.65" y="186.75" width="9.2" height="9" fill="#7194d3"/>
<rect x="107.35" y="186.75" width="9.2" height="9" fill="#f1c2b3"/>
<rect x="118.05" y="186.75" width="9.2" height="9" fill="#7194d3"/>
<rect x="128.75" y="186.75" width="9.2" height="9" fill="#7194d3"/>
<rect x="139.45" y="186.75" width="9.2" height="9" fill="#cad1de"/>
<rect x="150.15" y="186.75" width="9.2" height="9" fill="#f1c2b3"/>
<rect x="160.85" y="186.75" width="9.2" height="9" fill="#c13a3b"/>
<rect x="171.55" y="186.75" width="9.2" height="9" fill="#91aedf"/>
<rect x="182.25" y="186.75" width="9.2" height="9" fill="#c13a3b"/>
<rect x="192.95" y="186.75" width="9.2" height="9" fill="#b2c6e8"/>
<rect x="203.65" y="186.75" width="9.2" height="9" fill="#c13a3b"/>
<rect x="214.35" y="186.75" width="9.2" height="9" fill="#e5806a"/>
<rect x="225.05" y="186.75" width="9.2" height="9" fill="#a81e2b"/>
<rect x="235.75" y="186.75" width="9.2" height="9" fill="#ddd3d0"/>
<rect x="246.45" y="186.75" width="9.2" height="9" fill="#d45b4c"/>
<rect x="257.15" y="186.75" width="9.2" height="9" fill="#e5806a"/>
<rect x="267.85" y="186.75" width="9.2" height="9" fill="#ddd3d0"/>
<rect x="278.55" y="186.75" width="9.2" height="9" fill="#f0a68e"/>
<rect x="289.25" y="186.75" width="9.2" height="9" fill="#c13a3b"/>
<rect x="299.95" y="186.75" width="9.2" height="9" fill="#7194d3"/>
<rect x="310.65" y="186.75" width="9.2" height="9" fill="#ddd3d0"/>
<rect x="321.35" y="186.75" width="9.2" height="9" fill="#f1c2b3"/>
<rect x="332.05" y="186.75" width="9.2" height="9" fill="#d45b4c"/>
<rect x="342.75" y="186.75" width="9.2" height="9" fill="#e5806a"/>
<rect x="353.45" y="186.75" width="9.2" height="9" fill="#c13a3b"/>
<rect x="364.15" y="186.75" width="9.2" height="9" fill="#a81e2b"/>
<rect x="374.85" y="186.75" width="9.2" height="9" fill="#d6d6d6"/>
<rect x="385.55" y="186.75" width="9.2" height="9" fill="#d45b4c"/>
<rect x="396.25" y="186.75" width="9.2" height="9" fill="#d6d6d6"/>
<rect x="406.95" y="186.75" width="9.2" height="9" fill="#d6d6d6"/>
<rect x="417.65" y="186.75" width="9.2" height="9" fill="#4a66b8"/>
<rect x="428.35" y="186.75" width="9.2" height="9" fill="#4a66b8"/>
<rect x="439.05" y="186.75" width="9.2" height="9" fill="#4a66b8"/>
<rect x="449.75" y="186.75" width="9.2" height="9" fill="#b2c6e8"/>
<rect x="460.45" y="186.75" width="9.2" height="9" fill="#f1c2b3"/>
<rect x="471.15" y="186.75" width="9.2" height="9" fill="#cad1de"/>
<rect x="481.85" y="186.75" width="9.2" height="9" fill="#d6d6d6"/>
<text stroke="#231f20" x="16.4" y="194.25" text-anchor="end" font-size="8.3">1</text>
<line x1="17.8" y1="191.25" x2="19.6" y2="191.25" stroke="#555" stroke-width="0.4"/>
<rect x="21.75" y="197.4" width="9.2" height="9" fill="#3b4fae"/>
<rect x="32.45" y="197.4" width="9.2" height="9" fill="#b2c6e8"/>
<rect x="43.15" y="197.4" width="9.2" height="9" fill="#f1c2b3"/>
<rect x="53.85" y="197.4" width="9.2" height="9" fill="#cad1de"/>
<rect x="64.55" y="197.4" width="9.2" height="9" fill="#e5806a"/>
<rect x="75.25" y="197.4" width="9.2" height="9" fill="#c13a3b"/>
<rect x="85.95" y="197.4" width="9.2" height="9" fill="#91aedf"/>
<rect x="96.65" y="197.4" width="9.2" height="9" fill="#e5806a"/>
<rect x="107.35" y="197.4" width="9.2" height="9" fill="#d45b4c"/>
<rect x="118.05" y="197.4" width="9.2" height="9" fill="#f0a68e"/>
<rect x="128.75" y="197.4" width="9.2" height="9" fill="#e5806a"/>
<rect x="139.45" y="197.4" width="9.2" height="9" fill="#d45b4c"/>
<rect x="150.15" y="197.4" width="9.2" height="9" fill="#c13a3b"/>
<rect x="160.85" y="197.4" width="9.2" height="9" fill="#c13a3b"/>
<rect x="171.55" y="197.4" width="9.2" height="9" fill="#f0a68e"/>
<rect x="182.25" y="197.4" width="9.2" height="9" fill="#c13a3b"/>
<rect x="192.95" y="197.4" width="9.2" height="9" fill="#e5806a"/>
<rect x="203.65" y="197.4" width="9.2" height="9" fill="#d45b4c"/>
<rect x="214.35" y="197.4" width="9.2" height="9" fill="#d45b4c"/>
<rect x="225.05" y="197.4" width="9.2" height="9" fill="#e5806a"/>
<rect x="235.75" y="197.4" width="9.2" height="9" fill="#e5806a"/>
<rect x="246.45" y="197.4" width="9.2" height="9" fill="#e5806a"/>
<rect x="257.15" y="197.4" width="9.2" height="9" fill="#a81e2b"/>
<rect x="267.85" y="197.4" width="9.2" height="9" fill="#c13a3b"/>
<rect x="278.55" y="197.4" width="9.2" height="9" fill="#c13a3b"/>
<rect x="289.25" y="197.4" width="9.2" height="9" fill="#a81e2b"/>
<rect x="299.95" y="197.4" width="9.2" height="9" fill="#e5806a"/>
<rect x="310.65" y="197.4" width="9.2" height="9" fill="#e5806a"/>
<rect x="321.35" y="197.4" width="9.2" height="9" fill="#e5806a"/>
<rect x="332.05" y="197.4" width="9.2" height="9" fill="#f0a68e"/>
<rect x="342.75" y="197.4" width="9.2" height="9" fill="#f0a68e"/>
<rect x="353.45" y="197.4" width="9.2" height="9" fill="#c13a3b"/>
<rect x="364.15" y="197.4" width="9.2" height="9" fill="#a81e2b"/>
<rect x="374.85" y="197.4" width="9.2" height="9" fill="#f0a68e"/>
<rect x="385.55" y="197.4" width="9.2" height="9" fill="#f0a68e"/>
<rect x="396.25" y="197.4" width="9.2" height="9" fill="#d6d6d6"/>
<rect x="406.95" y="197.4" width="9.2" height="9" fill="#f0a68e"/>
<rect x="417.65" y="197.4" width="9.2" height="9" fill="#b2c6e8"/>
<rect x="428.35" y="197.4" width="9.2" height="9" fill="#b2c6e8"/>
<rect x="439.05" y="197.4" width="9.2" height="9" fill="#e5806a"/>
<rect x="449.75" y="197.4" width="9.2" height="9" fill="#d45b4c"/>
<rect x="460.45" y="197.4" width="9.2" height="9" fill="#f0a68e"/>
<rect x="471.15" y="197.4" width="9.2" height="9" fill="#f0a68e"/>
<rect x="481.85" y="197.4" width="9.2" height="9" fill="#e5806a"/>
<text stroke="#231f20" x="16.4" y="204.9" text-anchor="end" font-size="8.3">2/3</text>
<line x1="17.8" y1="201.9" x2="19.6" y2="201.9" stroke="#555" stroke-width="0.4"/>
<rect x="53.85" y="208.05" width="9.2" height="9" fill="#a81e2b"/>
<rect x="64.55" y="208.05" width="9.2" height="9" fill="#a81e2b"/>
<rect x="75.25" y="208.05" width="9.2" height="9" fill="#a81e2b"/>
<rect x="85.95" y="208.05" width="9.2" height="9" fill="#7194d3"/>
<rect x="96.65" y="208.05" width="9.2" height="9" fill="#a81e2b"/>
<rect x="107.35" y="208.05" width="9.2" height="9" fill="#a81e2b"/>
<rect x="118.05" y="208.05" width="9.2" height="9" fill="#a81e2b"/>
<rect x="128.75" y="208.05" width="9.2" height="9" fill="#a81e2b"/>
<rect x="139.45" y="208.05" width="9.2" height="9" fill="#a81e2b"/>
<rect x="150.15" y="208.05" width="9.2" height="9" fill="#c13a3b"/>
<rect x="160.85" y="208.05" width="9.2" height="9" fill="#a81e2b"/>
<rect x="171.55" y="208.05" width="9.2" height="9" fill="#a81e2b"/>
<rect x="182.25" y="208.05" width="9.2" height="9" fill="#a81e2b"/>
<rect x="192.95" y="208.05" width="9.2" height="9" fill="#c13a3b"/>
<rect x="203.65" y="208.05" width="9.2" height="9" fill="#a81e2b"/>
<rect x="214.35" y="208.05" width="9.2" height="9" fill="#a81e2b"/>
<rect x="225.05" y="208.05" width="9.2" height="9" fill="#a81e2b"/>
<rect x="235.75" y="208.05" width="9.2" height="9" fill="#c13a3b"/>
<rect x="246.45" y="208.05" width="9.2" height="9" fill="#a81e2b"/>
<rect x="257.15" y="208.05" width="9.2" height="9" fill="#a81e2b"/>
<rect x="299.95" y="208.05" width="9.2" height="9" fill="#a81e2b"/>
<rect x="310.65" y="208.05" width="9.2" height="9" fill="#c13a3b"/>
<rect x="406.95" y="208.05" width="9.2" height="9" fill="#c13a3b"/>
<rect x="417.65" y="208.05" width="9.2" height="9" fill="#b2c6e8"/>
<rect x="471.15" y="208.05" width="9.2" height="9" fill="#c13a3b"/>
<text stroke="#231f20" x="16.4" y="215.55" text-anchor="end" font-size="8.3">4</text>
<line x1="17.8" y1="212.55" x2="19.6" y2="212.55" stroke="#555" stroke-width="0.4"/>
<rect x="21.75" y="218.7" width="9.2" height="9" fill="#b2c6e8"/>
<rect x="32.45" y="218.7" width="9.2" height="9" fill="#c13a3b"/>
<rect x="43.15" y="218.7" width="9.2" height="9" fill="#e5806a"/>
<rect x="53.85" y="218.7" width="9.2" height="9" fill="#e5806a"/>
<rect x="64.55" y="218.7" width="9.2" height="9" fill="#c13a3b"/>
<rect x="75.25" y="218.7" width="9.2" height="9" fill="#a81e2b"/>
<rect x="85.95" y="218.7" width="9.2" height="9" fill="#f0a68e"/>
<rect x="96.65" y="218.7" width="9.2" height="9" fill="#a81e2b"/>
<rect x="107.35" y="218.7" width="9.2" height="9" fill="#a81e2b"/>
<rect x="118.05" y="218.7" width="9.2" height="9" fill="#a81e2b"/>
<rect x="128.75" y="218.7" width="9.2" height="9" fill="#c13a3b"/>
<rect x="139.45" y="218.7" width="9.2" height="9" fill="#a81e2b"/>
<rect x="150.15" y="218.7" width="9.2" height="9" fill="#a81e2b"/>
<rect x="160.85" y="218.7" width="9.2" height="9" fill="#a81e2b"/>
<rect x="171.55" y="218.7" width="9.2" height="9" fill="#a81e2b"/>
<rect x="182.25" y="218.7" width="9.2" height="9" fill="#c13a3b"/>
<rect x="192.95" y="218.7" width="9.2" height="9" fill="#a81e2b"/>
<rect x="203.65" y="218.7" width="9.2" height="9" fill="#c13a3b"/>
<rect x="214.35" y="218.7" width="9.2" height="9" fill="#c13a3b"/>
<rect x="225.05" y="218.7" width="9.2" height="9" fill="#c13a3b"/>
<rect x="235.75" y="218.7" width="9.2" height="9" fill="#a81e2b"/>
<rect x="246.45" y="218.7" width="9.2" height="9" fill="#a81e2b"/>
<rect x="257.15" y="218.7" width="9.2" height="9" fill="#a81e2b"/>
<rect x="267.85" y="218.7" width="9.2" height="9" fill="#a81e2b"/>
<rect x="278.55" y="218.7" width="9.2" height="9" fill="#a81e2b"/>
<rect x="289.25" y="218.7" width="9.2" height="9" fill="#a81e2b"/>
<rect x="299.95" y="218.7" width="9.2" height="9" fill="#a81e2b"/>
<rect x="310.65" y="218.7" width="9.2" height="9" fill="#a81e2b"/>
<rect x="321.35" y="218.7" width="9.2" height="9" fill="#c13a3b"/>
<rect x="332.05" y="218.7" width="9.2" height="9" fill="#a81e2b"/>
<rect x="342.75" y="218.7" width="9.2" height="9" fill="#a81e2b"/>
<rect x="353.45" y="218.7" width="9.2" height="9" fill="#c13a3b"/>
<rect x="364.15" y="218.7" width="9.2" height="9" fill="#a81e2b"/>
<rect x="374.85" y="218.7" width="9.2" height="9" fill="#a81e2b"/>
<rect x="385.55" y="218.7" width="9.2" height="9" fill="#a81e2b"/>
<rect x="396.25" y="218.7" width="9.2" height="9" fill="#a81e2b"/>
<rect x="406.95" y="218.7" width="9.2" height="9" fill="#c13a3b"/>
<rect x="417.65" y="218.7" width="9.2" height="9" fill="#e5806a"/>
<rect x="428.35" y="218.7" width="9.2" height="9" fill="#e5806a"/>
<rect x="439.05" y="218.7" width="9.2" height="9" fill="#e5806a"/>
<rect x="449.75" y="218.7" width="9.2" height="9" fill="#c13a3b"/>
<rect x="460.45" y="218.7" width="9.2" height="9" fill="#ddd3d0"/>
<rect x="471.15" y="218.7" width="9.2" height="9" fill="#a81e2b"/>
<rect x="481.85" y="218.7" width="9.2" height="9" fill="#e5806a"/>
<text stroke="#231f20" x="16.4" y="226.2" text-anchor="end" font-size="8.3">5</text>
<line x1="17.8" y1="223.2" x2="19.6" y2="223.2" stroke="#555" stroke-width="0.4"/>
<rect x="21.75" y="229.35" width="9.2" height="9" fill="#a81e2b"/>
<rect x="32.45" y="229.35" width="9.2" height="9" fill="#c13a3b"/>
<rect x="43.15" y="229.35" width="9.2" height="9" fill="#c13a3b"/>
<rect x="53.85" y="229.35" width="9.2" height="9" fill="#c13a3b"/>
<rect x="64.55" y="229.35" width="9.2" height="9" fill="#a81e2b"/>
<rect x="75.25" y="229.35" width="9.2" height="9" fill="#c13a3b"/>
<rect x="85.95" y="229.35" width="9.2" height="9" fill="#d45b4c"/>
<rect x="96.65" y="229.35" width="9.2" height="9" fill="#c13a3b"/>
<rect x="107.35" y="229.35" width="9.2" height="9" fill="#a81e2b"/>
<rect x="118.05" y="229.35" width="9.2" height="9" fill="#a81e2b"/>
<rect x="128.75" y="229.35" width="9.2" height="9" fill="#a81e2b"/>
<rect x="139.45" y="229.35" width="9.2" height="9" fill="#a81e2b"/>
<rect x="150.15" y="229.35" width="9.2" height="9" fill="#c13a3b"/>
<rect x="160.85" y="229.35" width="9.2" height="9" fill="#d45b4c"/>
<rect x="171.55" y="229.35" width="9.2" height="9" fill="#a81e2b"/>
<rect x="182.25" y="229.35" width="9.2" height="9" fill="#a81e2b"/>
<rect x="192.95" y="229.35" width="9.2" height="9" fill="#a81e2b"/>
<rect x="203.65" y="229.35" width="9.2" height="9" fill="#a81e2b"/>
<rect x="214.35" y="229.35" width="9.2" height="9" fill="#a81e2b"/>
<rect x="225.05" y="229.35" width="9.2" height="9" fill="#a81e2b"/>
<rect x="235.75" y="229.35" width="9.2" height="9" fill="#a81e2b"/>
<rect x="246.45" y="229.35" width="9.2" height="9" fill="#a81e2b"/>
<rect x="257.15" y="229.35" width="9.2" height="9" fill="#c13a3b"/>
<rect x="267.85" y="229.35" width="9.2" height="9" fill="#a81e2b"/>
<rect x="278.55" y="229.35" width="9.2" height="9" fill="#a81e2b"/>
<rect x="289.25" y="229.35" width="9.2" height="9" fill="#a81e2b"/>
<rect x="299.95" y="229.35" width="9.2" height="9" fill="#a81e2b"/>
<rect x="310.65" y="229.35" width="9.2" height="9" fill="#a81e2b"/>
<rect x="321.35" y="229.35" width="9.2" height="9" fill="#a81e2b"/>
<rect x="332.05" y="229.35" width="9.2" height="9" fill="#a81e2b"/>
<rect x="342.75" y="229.35" width="9.2" height="9" fill="#a81e2b"/>
<rect x="353.45" y="229.35" width="9.2" height="9" fill="#a81e2b"/>
<rect x="364.15" y="229.35" width="9.2" height="9" fill="#a81e2b"/>
<rect x="374.85" y="229.35" width="9.2" height="9" fill="#c13a3b"/>
<rect x="385.55" y="229.35" width="9.2" height="9" fill="#a81e2b"/>
<rect x="396.25" y="229.35" width="9.2" height="9" fill="#c13a3b"/>
<rect x="406.95" y="229.35" width="9.2" height="9" fill="#a81e2b"/>
<rect x="417.65" y="229.35" width="9.2" height="9" fill="#c13a3b"/>
<rect x="428.35" y="229.35" width="9.2" height="9" fill="#a81e2b"/>
<rect x="439.05" y="229.35" width="9.2" height="9" fill="#e5806a"/>
<rect x="449.75" y="229.35" width="9.2" height="9" fill="#a81e2b"/>
<rect x="460.45" y="229.35" width="9.2" height="9" fill="#e5806a"/>
<rect x="471.15" y="229.35" width="9.2" height="9" fill="#c13a3b"/>
<rect x="481.85" y="229.35" width="9.2" height="9" fill="#d45b4c"/>
<text stroke="#231f20" x="16.4" y="236.85" text-anchor="end" font-size="8.3">6</text>
<line x1="17.8" y1="233.85" x2="19.6" y2="233.85" stroke="#555" stroke-width="0.4"/>
<line x1="26.35" y1="239.35" x2="26.35" y2="240.95" stroke="#555" stroke-width="0.4"/>
<text stroke="#231f20" x="28.55" y="243.35" text-anchor="end" font-size="8.5" transform="rotate(-90 28.55 243.35)">FRP</text>
<line x1="37.05" y1="239.35" x2="37.05" y2="240.95" stroke="#555" stroke-width="0.4"/>
<text stroke="#231f20" x="39.25" y="243.35" text-anchor="end" font-size="8.5" transform="rotate(-90 39.25 243.35)">MOp</text>
<line x1="47.75" y1="239.35" x2="47.75" y2="240.95" stroke="#555" stroke-width="0.4"/>
<text stroke="#231f20" x="49.95" y="243.35" text-anchor="end" font-size="8.5" transform="rotate(-90 49.95 243.35)">MOs</text>
<line x1="58.45" y1="239.35" x2="58.45" y2="240.95" stroke="#555" stroke-width="0.4"/>
<text stroke="#231f20" x="60.65" y="243.35" text-anchor="end" font-size="8.5" transform="rotate(-90 60.65 243.35)">SSp-n</text>
<line x1="69.15" y1="239.35" x2="69.15" y2="240.95" stroke="#555" stroke-width="0.4"/>
<text stroke="#231f20" x="71.35" y="243.35" text-anchor="end" font-size="8.5" transform="rotate(-90 71.35 243.35)">SSp-bfd</text>
<line x1="79.85" y1="239.35" x2="79.85" y2="240.95" stroke="#555" stroke-width="0.4"/>
<text stroke="#231f20" x="82.05" y="243.35" text-anchor="end" font-size="8.5" transform="rotate(-90 82.05 243.35)">SSp-ll</text>
<line x1="90.55" y1="239.35" x2="90.55" y2="240.95" stroke="#555" stroke-width="0.4"/>
<text stroke="#231f20" x="92.75" y="243.35" text-anchor="end" font-size="8.5" transform="rotate(-90 92.75 243.35)">SSp-m</text>
<line x1="101.25" y1="239.35" x2="101.25" y2="240.95" stroke="#555" stroke-width="0.4"/>
<text stroke="#231f20" x="103.45" y="243.35" text-anchor="end" font-size="8.5" transform="rotate(-90 103.45 243.35)">SSp-ul</text>
<line x1="111.95" y1="239.35" x2="111.95" y2="240.95" stroke="#555" stroke-width="0.4"/>
<text stroke="#231f20" x="114.15" y="243.35" text-anchor="end" font-size="8.5" transform="rotate(-90 114.15 243.35)">SSp-tr</text>
<line x1="122.65" y1="239.35" x2="122.65" y2="240.95" stroke="#555" stroke-width="0.4"/>
<text stroke="#231f20" x="124.85" y="243.35" text-anchor="end" font-size="8.5" transform="rotate(-90 124.85 243.35)">SSp-un</text>
<line x1="133.35" y1="239.35" x2="133.35" y2="240.95" stroke="#555" stroke-width="0.4"/>
<text stroke="#231f20" x="135.55" y="243.35" text-anchor="end" font-size="8.5" transform="rotate(-90 135.55 243.35)">SSs</text>
<line x1="144.05" y1="239.35" x2="144.05" y2="240.95" stroke="#555" stroke-width="0.4"/>
<text stroke="#231f20" x="146.25" y="243.35" text-anchor="end" font-size="8.5" transform="rotate(-90 146.25 243.35)">AUDd</text>
<line x1="154.75" y1="239.35" x2="154.75" y2="240.95" stroke="#555" stroke-width="0.4"/>
<text stroke="#231f20" x="156.95" y="243.35" text-anchor="end" font-size="8.5" transform="rotate(-90 156.95 243.35)">AUDp</text>
<line x1="165.45" y1="239.35" x2="165.45" y2="240.95" stroke="#555" stroke-width="0.4"/>
<text stroke="#231f20" x="167.65" y="243.35" text-anchor="end" font-size="8.5" transform="rotate(-90 167.65 243.35)">AUDpo</text>
<line x1="176.15" y1="239.35" x2="176.15" y2="240.95" stroke="#555" stroke-width="0.4"/>
<text stroke="#231f20" x="178.35" y="243.35" text-anchor="end" font-size="8.5" transform="rotate(-90 178.35 243.35)">AUDv</text>
<line x1="186.85" y1="239.35" x2="186.85" y2="240.95" stroke="#555" stroke-width="0.4"/>
<text stroke="#231f20" x="189.05" y="243.35" text-anchor="end" font-size="8.5" transform="rotate(-90 189.05 243.35)">VISal</text>
<line x1="197.55" y1="239.35" x2="197.55" y2="240.95" stroke="#555" stroke-width="0.4"/>
<text stroke="#231f20" x="199.75" y="243.35" text-anchor="end" font-size="8.5" transform="rotate(-90 199.75 243.35)">VISam</text>
<line x1="208.25" y1="239.35" x2="208.25" y2="240.95" stroke="#555" stroke-width="0.4"/>
<text stroke="#231f20" x="210.45" y="243.35" text-anchor="end" font-size="8.5" transform="rotate(-90 210.45 243.35)">VISl</text>
<line x1="218.95" y1="239.35" x2="218.95" y2="240.95" stroke="#555" stroke-width="0.4"/>
<text stroke="#231f20" x="221.15" y="243.35" text-anchor="end" font-size="8.5" transform="rotate(-90 221.15 243.35)">VISp</text>
<line x1="229.65" y1="239.35" x2="229.65" y2="240.95" stroke="#555" stroke-width="0.4"/>
<text stroke="#231f20" x="231.85" y="243.35" text-anchor="end" font-size="8.5" transform="rotate(-90 231.85 243.35)">VISpl</text>
<line x1="240.35" y1="239.35" x2="240.35" y2="240.95" stroke="#555" stroke-width="0.4"/>
<text stroke="#231f20" x="242.55" y="243.35" text-anchor="end" font-size="8.5" transform="rotate(-90 242.55 243.35)">VISpm</text>
<line x1="251.05" y1="239.35" x2="251.05" y2="240.95" stroke="#555" stroke-width="0.4"/>
<text stroke="#231f20" x="253.25" y="243.35" text-anchor="end" font-size="8.5" transform="rotate(-90 253.25 243.35)">VISli</text>
<line x1="261.75" y1="239.35" x2="261.75" y2="240.95" stroke="#555" stroke-width="0.4"/>
<text stroke="#231f20" x="263.95" y="243.35" text-anchor="end" font-size="8.5" transform="rotate(-90 263.95 243.35)">VISpor</text>
<line x1="272.45" y1="239.35" x2="272.45" y2="240.95" stroke="#555" stroke-width="0.4"/>
<text stroke="#231f20" x="274.65" y="243.35" text-anchor="end" font-size="8.5" transform="rotate(-90 274.65 243.35)">RSPagl</text>
<line x1="283.15" y1="239.35" x2="283.15" y2="240.95" stroke="#555" stroke-width="0.4"/>
<text stroke="#231f20" x="285.35" y="243.35" text-anchor="end" font-size="8.5" transform="rotate(-90 285.35 243.35)">RSPd</text>
<line x1="293.85" y1="239.35" x2="293.85" y2="240.95" stroke="#555" stroke-width="0.4"/>
<text stroke="#231f20" x="296.05" y="243.35" text-anchor="end" font-size="8.5" transform="rotate(-90 296.05 243.35)">RSPv</text>
<line x1="304.55" y1="239.35" x2="304.55" y2="240.95" stroke="#555" stroke-width="0.4"/>
<text stroke="#231f20" x="306.75" y="243.35" text-anchor="end" font-size="8.5" transform="rotate(-90 306.75 243.35)">VISa</text>
<line x1="315.25" y1="239.35" x2="315.25" y2="240.95" stroke="#555" stroke-width="0.4"/>
<text stroke="#231f20" x="317.45" y="243.35" text-anchor="end" font-size="8.5" transform="rotate(-90 317.45 243.35)">VISrl</text>
<line x1="325.95" y1="239.35" x2="325.95" y2="240.95" stroke="#555" stroke-width="0.4"/>
<text stroke="#231f20" x="328.15" y="243.35" text-anchor="end" font-size="8.5" transform="rotate(-90 328.15 243.35)">ORBl</text>
<line x1="336.65" y1="239.35" x2="336.65" y2="240.95" stroke="#555" stroke-width="0.4"/>
<text stroke="#231f20" x="338.85" y="243.35" text-anchor="end" font-size="8.5" transform="rotate(-90 338.85 243.35)">ORBm</text>
<line x1="347.35" y1="239.35" x2="347.35" y2="240.95" stroke="#555" stroke-width="0.4"/>
<text stroke="#231f20" x="349.55" y="243.35" text-anchor="end" font-size="8.5" transform="rotate(-90 349.55 243.35)">ORBvl</text>
<line x1="358.05" y1="239.35" x2="358.05" y2="240.95" stroke="#555" stroke-width="0.4"/>
<text stroke="#231f20" x="360.25" y="243.35" text-anchor="end" font-size="8.5" transform="rotate(-90 360.25 243.35)">ACAd</text>
<line x1="368.75" y1="239.35" x2="368.75" y2="240.95" stroke="#555" stroke-width="0.4"/>
<text stroke="#231f20" x="370.95" y="243.35" text-anchor="end" font-size="8.5" transform="rotate(-90 370.95 243.35)">ACAv</text>
<line x1="379.45" y1="239.35" x2="379.45" y2="240.95" stroke="#555" stroke-width="0.4"/>
<text stroke="#231f20" x="381.65" y="243.35" text-anchor="end" font-size="8.5" transform="rotate(-90 381.65 243.35)">PL</text>
<line x1="390.15" y1="239.35" x2="390.15" y2="240.95" stroke="#555" stroke-width="0.4"/>
<text stroke="#231f20" x="392.35" y="243.35" text-anchor="end" font-size="8.5" transform="rotate(-90 392.35 243.35)">ORBm</text>
<line x1="400.85" y1="239.35" x2="400.85" y2="240.95" stroke="#555" stroke-width="0.4"/>
<text stroke="#231f20" x="403.05" y="243.35" text-anchor="end" font-size="8.5" transform="rotate(-90 403.05 243.35)">ILA</text>
<line x1="411.55" y1="239.35" x2="411.55" y2="240.95" stroke="#555" stroke-width="0.4"/>
<text stroke="#231f20" x="413.75" y="243.35" text-anchor="end" font-size="8.5" transform="rotate(-90 413.75 243.35)">VISC</text>
<line x1="422.25" y1="239.35" x2="422.25" y2="240.95" stroke="#555" stroke-width="0.4"/>
<text stroke="#231f20" x="424.45" y="243.35" text-anchor="end" font-size="8.5" transform="rotate(-90 424.45 243.35)">GU</text>
<line x1="432.95" y1="239.35" x2="432.95" y2="240.95" stroke="#555" stroke-width="0.4"/>
<text stroke="#231f20" x="435.15" y="243.35" text-anchor="end" font-size="8.5" transform="rotate(-90 435.15 243.35)">AId</text>
<line x1="443.65" y1="239.35" x2="443.65" y2="240.95" stroke="#555" stroke-width="0.4"/>
<text stroke="#231f20" x="445.85" y="243.35" text-anchor="end" font-size="8.5" transform="rotate(-90 445.85 243.35)">AIp</text>
<line x1="454.35" y1="239.35" x2="454.35" y2="240.95" stroke="#555" stroke-width="0.4"/>
<text stroke="#231f20" x="456.55" y="243.35" text-anchor="end" font-size="8.5" transform="rotate(-90 456.55 243.35)">AIv</text>
<line x1="465.05" y1="239.35" x2="465.05" y2="240.95" stroke="#555" stroke-width="0.4"/>
<text stroke="#231f20" x="467.25" y="243.35" text-anchor="end" font-size="8.5" transform="rotate(-90 467.25 243.35)">PERI</text>
<line x1="475.75" y1="239.35" x2="475.75" y2="240.95" stroke="#555" stroke-width="0.4"/>
<text stroke="#231f20" x="477.95" y="243.35" text-anchor="end" font-size="8.5" transform="rotate(-90 477.95 243.35)">TEa</text>
<line x1="486.45" y1="239.35" x2="486.45" y2="240.95" stroke="#555" stroke-width="0.4"/>
<text stroke="#231f20" x="488.65" y="243.35" text-anchor="end" font-size="8.5" transform="rotate(-90 488.65 243.35)">ECT</text>
<text x="1.3" y="303.6" font-weight="bold" fill="#000" stroke="#000" font-size="13">g</text>
<text stroke="#231f20" x="21.3" y="316.6" font-size="10.6">Relative c-Fos+PV+ cell number (<tspan fill="#4a8ac8" stroke="#4a8ac8">Saline</tspan> vs. <tspan fill="#e0302e" stroke="#e0302e">MK801</tspan>)</text>
<text stroke="#231f20" x="457" y="307" text-anchor="middle">|Relative # of c-Fos+PV+ cells|</text>
<text stroke="#231f20" x="427.2" y="314.8" text-anchor="end">decr.</text>
<text stroke="#231f20" x="488" y="314.8">incr.</text>
<rect x="429" y="310" width="57" height="3.8" fill="url(#cw)"/>
<text stroke="#231f20" x="429.2" y="321.6" text-anchor="middle">1.0</text>
<text stroke="#231f20" x="443.3" y="321.6" text-anchor="middle">0.5</text>
<text stroke="#231f20" x="457.4" y="321.6" text-anchor="middle">0</text>
<text stroke="#231f20" x="471.6" y="321.6" text-anchor="middle">0.5</text>
<text stroke="#231f20" x="485.7" y="321.6" text-anchor="middle">1.0</text>
<rect x="21.75" y="326.3" width="9.2" height="9" fill="#d6d6d6"/>
<rect x="32.45" y="326.3" width="9.2" height="9" fill="#d6d6d6"/>
<rect x="43.15" y="326.3" width="9.2" height="9" fill="#d6d6d6"/>
<rect x="53.85" y="326.3" width="9.2" height="9" fill="#d6d6d6"/>
<rect x="64.55" y="326.3" width="9.2" height="9" fill="#d6d6d6"/>
<rect x="75.25" y="326.3" width="9.2" height="9" fill="#a81e2b"/>
<rect x="85.95" y="326.3" width="9.2" height="9" fill="#d6d6d6"/>
<rect x="96.65" y="326.3" width="9.2" height="9" fill="#d6d6d6"/>
<rect x="107.35" y="326.3" width="9.2" height="9" fill="#d6d6d6"/>
<rect x="118.05" y="326.3" width="9.2" height="9" fill="#a81e2b"/>
<rect x="128.75" y="326.3" width="9.2" height="9" fill="#d6d6d6"/>
<rect x="139.45" y="326.3" width="9.2" height="9" fill="#d6d6d6"/>
<rect x="150.15" y="326.3" width="9.2" height="9" fill="#d6d6d6"/>
<rect x="160.85" y="326.3" width="9.2" height="9" fill="#d6d6d6"/>
<rect x="171.55" y="326.3" width="9.2" height="9" fill="#d6d6d6"/>
<rect x="182.25" y="326.3" width="9.2" height="9" fill="#d6d6d6"/>
<rect x="192.95" y="326.3" width="9.2" height="9" fill="#d6d6d6"/>
<rect x="203.65" y="326.3" width="9.2" height="9" fill="#d6d6d6"/>
<rect x="214.35" y="326.3" width="9.2" height="9" fill="#d6d6d6"/>
<rect x="225.05" y="326.3" width="9.2" height="9" fill="#d6d6d6"/>
<rect x="235.75" y="326.3" width="9.2" height="9" fill="#a81e2b"/>
<rect x="246.45" y="326.3" width="9.2" height="9" fill="#d6d6d6"/>
<rect x="257.15" y="326.3" width="9.2" height="9" fill="#3b4fae"/>
<rect x="267.85" y="326.3" width="9.2" height="9" fill="#d6d6d6"/>
<rect x="278.55" y="326.3" width="9.2" height="9" fill="#f0a68e"/>
<rect x="289.25" y="326.3" width="9.2" height="9" fill="#a81e2b"/>
<rect x="299.95" y="326.3" width="9.2" height="9" fill="#d6d6d6"/>
<rect x="310.65" y="326.3" width="9.2" height="9" fill="#d6d6d6"/>
<rect x="321.35" y="326.3" width="9.2" height="9" fill="#a81e2b"/>
<rect x="332.05" y="326.3" width="9.2" height="9" fill="#a81e2b"/>
<rect x="342.75" y="326.3" width="9.2" height="9" fill="#c13a3b"/>
<rect x="353.45" y="326.3" width="9.2" height="9" fill="#d6d6d6"/>
<rect x="364.15" y="326.3" width="9.2" height="9" fill="#d6d6d6"/>
<rect x="374.85" y="326.3" width="9.2" height="9" fill="#d6d6d6"/>
<rect x="385.55" y="326.3" width="9.2" height="9" fill="#a81e2b"/>
<rect x="396.25" y="326.3" width="9.2" height="9" fill="#d6d6d6"/>
<rect x="406.95" y="326.3" width="9.2" height="9" fill="#d6d6d6"/>
<rect x="417.65" y="326.3" width="9.2" height="9" fill="#d6d6d6"/>
<rect x="428.35" y="326.3" width="9.2" height="9" fill="#d6d6d6"/>
<rect x="439.05" y="326.3" width="9.2" height="9" fill="#d6d6d6"/>
<rect x="449.75" y="326.3" width="9.2" height="9" fill="#a81e2b"/>
<rect x="460.45" y="326.3" width="9.2" height="9" fill="#d6d6d6"/>
<rect x="471.15" y="326.3" width="9.2" height="9" fill="#d6d6d6"/>
<rect x="481.85" y="326.3" width="9.2" height="9" fill="#3b4fae"/>
<text stroke="#231f20" x="16.4" y="333.8" text-anchor="end" font-size="8.3">1</text>
<line x1="17.8" y1="330.8" x2="19.6" y2="330.8" stroke="#555" stroke-width="0.4"/>
<rect x="21.75" y="336.95" width="9.2" height="9" fill="#a81e2b"/>
<rect x="32.45" y="336.95" width="9.2" height="9" fill="#a81e2b"/>
<rect x="43.15" y="336.95" width="9.2" height="9" fill="#a81e2b"/>
<rect x="53.85" y="336.95" width="9.2" height="9" fill="#a81e2b"/>
<rect x="64.55" y="336.95" width="9.2" height="9" fill="#e5806a"/>
<rect x="75.25" y="336.95" width="9.2" height="9" fill="#a81e2b"/>
<rect x="85.95" y="336.95" width="9.2" height="9" fill="#d6d6d6"/>
<rect x="96.65" y="336.95" width="9.2" height="9" fill="#a81e2b"/>
<rect x="107.35" y="336.95" width="9.2" height="9" fill="#a81e2b"/>
<rect x="118.05" y="336.95" width="9.2" height="9" fill="#a81e2b"/>
<rect x="128.75" y="336.95" width="9.2" height="9" fill="#d6d6d6"/>
<rect x="139.45" y="336.95" width="9.2" height="9" fill="#a81e2b"/>
<rect x="150.15" y="336.95" width="9.2" height="9" fill="#f0a68e"/>
<rect x="160.85" y="336.95" width="9.2" height="9" fill="#d6d6d6"/>
<rect x="171.55" y="336.95" width="9.2" height="9" fill="#3b4fae"/>
<rect x="182.25" y="336.95" width="9.2" height="9" fill="#d6d6d6"/>
<rect x="192.95" y="336.95" width="9.2" height="9" fill="#a81e2b"/>
<rect x="203.65" y="336.95" width="9.2" height="9" fill="#d6d6d6"/>
<rect x="214.35" y="336.95" width="9.2" height="9" fill="#d45b4c"/>
<rect x="225.05" y="336.95" width="9.2" height="9" fill="#d6d6d6"/>
<rect x="235.75" y="336.95" width="9.2" height="9" fill="#a81e2b"/>
<rect x="246.45" y="336.95" width="9.2" height="9" fill="#a81e2b"/>
<rect x="257.15" y="336.95" width="9.2" height="9" fill="#91aedf"/>
<rect x="267.85" y="336.95" width="9.2" height="9" fill="#a81e2b"/>
<rect x="278.55" y="336.95" width="9.2" height="9" fill="#a81e2b"/>
<rect x="289.25" y="336.95" width="9.2" height="9" fill="#a81e2b"/>
<rect x="299.95" y="336.95" width="9.2" height="9" fill="#a81e2b"/>
<rect x="310.65" y="336.95" width="9.2" height="9" fill="#a81e2b"/>
<rect x="321.35" y="336.95" width="9.2" height="9" fill="#a81e2b"/>
<rect x="332.05" y="336.95" width="9.2" height="9" fill="#c13a3b"/>
<rect x="342.75" y="336.95" width="9.2" height="9" fill="#a81e2b"/>
<rect x="353.45" y="336.95" width="9.2" height="9" fill="#a81e2b"/>
<rect x="364.15" y="336.95" width="9.2" height="9" fill="#a81e2b"/>
<rect x="374.85" y="336.95" width="9.2" height="9" fill="#e5806a"/>
<rect x="385.55" y="336.95" width="9.2" height="9" fill="#c13a3b"/>
<rect x="396.25" y="336.95" width="9.2" height="9" fill="#a81e2b"/>
<rect x="406.95" y="336.95" width="9.2" height="9" fill="#a81e2b"/>
<rect x="417.65" y="336.95" width="9.2" height="9" fill="#d6d6d6"/>
<rect x="428.35" y="336.95" width="9.2" height="9" fill="#a81e2b"/>
<rect x="439.05" y="336.95" width="9.2" height="9" fill="#f0a68e"/>
<rect x="449.75" y="336.95" width="9.2" height="9" fill="#a81e2b"/>
<rect x="460.45" y="336.95" width="9.2" height="9" fill="#a81e2b"/>
<rect x="471.15" y="336.95" width="9.2" height="9" fill="#91aedf"/>
<rect x="481.85" y="336.95" width="9.2" height="9" fill="#d6d6d6"/>
<text stroke="#231f20" x="16.4" y="344.45" text-anchor="end" font-size="8.3">2/3</text>
<line x1="17.8" y1="341.45" x2="19.6" y2="341.45" stroke="#555" stroke-width="0.4"/>
<rect x="53.85" y="347.6" width="9.2" height="9" fill="#d6d6d6"/>
<rect x="64.55" y="347.6" width="9.2" height="9" fill="#a81e2b"/>
<rect x="75.25" y="347.6" width="9.2" height="9" fill="#a81e2b"/>
<rect x="85.95" y="347.6" width="9.2" height="9" fill="#a81e2b"/>
<rect x="96.65" y="347.6" width="9.2" height="9" fill="#a81e2b"/>
<rect x="107.35" y="347.6" width="9.2" height="9" fill="#a81e2b"/>
<rect x="118.05" y="347.6" width="9.2" height="9" fill="#a81e2b"/>
<rect x="128.75" y="347.6" width="9.2" height="9" fill="#f0a68e"/>
<rect x="139.45" y="347.6" width="9.2" height="9" fill="#a81e2b"/>
<rect x="150.15" y="347.6" width="9.2" height="9" fill="#d6d6d6"/>
<rect x="160.85" y="347.6" width="9.2" height="9" fill="#d6d6d6"/>
<rect x="171.55" y="347.6" width="9.2" height="9" fill="#a81e2b"/>
<rect x="182.25" y="347.6" width="9.2" height="9" fill="#a81e2b"/>
<rect x="192.95" y="347.6" width="9.2" height="9" fill="#a81e2b"/>
<rect x="203.65" y="347.6" width="9.2" height="9" fill="#a81e2b"/>
<rect x="214.35" y="347.6" width="9.2" height="9" fill="#a81e2b"/>
<rect x="225.05" y="347.6" width="9.2" height="9" fill="#a81e2b"/>
<rect x="235.75" y="347.6" width="9.2" height="9" fill="#a81e2b"/>
<rect x="246.45" y="347.6" width="9.2" height="9" fill="#d6d6d6"/>
<rect x="257.15" y="347.6" width="9.2" height="9" fill="#a81e2b"/>
<rect x="299.95" y="347.6" width="9.2" height="9" fill="#a81e2b"/>
<rect x="310.65" y="347.6" width="9.2" height="9" fill="#a81e2b"/>
<rect x="406.95" y="347.6" width="9.2" height="9" fill="#a81e2b"/>
<rect x="417.65" y="347.6" width="9.2" height="9" fill="#a81e2b"/>
<rect x="471.15" y="347.6" width="9.2" height="9" fill="#f1c2b3"/>
<text stroke="#231f20" x="16.4" y="355.1" text-anchor="end" font-size="8.3">4</text>
<line x1="17.8" y1="352.1" x2="19.6" y2="352.1" stroke="#555" stroke-width="0.4"/>
<rect x="21.75" y="358.25" width="9.2" height="9" fill="#a81e2b"/>
<rect x="32.45" y="358.25" width="9.2" height="9" fill="#a81e2b"/>
<rect x="43.15" y="358.25" width="9.2" height="9" fill="#a81e2b"/>
<rect x="53.85" y="358.25" width="9.2" height="9" fill="#a81e2b"/>
<rect x="64.55" y="358.25" width="9.2" height="9" fill="#a81e2b"/>
<rect x="75.25" y="358.25" width="9.2" height="9" fill="#a81e2b"/>
<rect x="85.95" y="358.25" width="9.2" height="9" fill="#f0a68e"/>
<rect x="96.65" y="358.25" width="9.2" height="9" fill="#a81e2b"/>
<rect x="107.35" y="358.25" width="9.2" height="9" fill="#a81e2b"/>
<rect x="118.05" y="358.25" width="9.2" height="9" fill="#a81e2b"/>
<rect x="128.75" y="358.25" width="9.2" height="9" fill="#a81e2b"/>
<rect x="139.45" y="358.25" width="9.2" height="9" fill="#d6d6d6"/>
<rect x="150.15" y="358.25" width="9.2" height="9" fill="#a81e2b"/>
<rect x="160.85" y="358.25" width="9.2" height="9" fill="#d6d6d6"/>
<rect x="171.55" y="358.25" width="9.2" height="9" fill="#d6d6d6"/>
<rect x="182.25" y="358.25" width="9.2" height="9" fill="#a81e2b"/>
<rect x="192.95" y="358.25" width="9.2" height="9" fill="#a81e2b"/>
<rect x="203.65" y="358.25" width="9.2" height="9" fill="#a81e2b"/>
<rect x="214.35" y="358.25" width="9.2" height="9" fill="#a81e2b"/>
<rect x="225.05" y="358.25" width="9.2" height="9" fill="#a81e2b"/>
<rect x="235.75" y="358.25" width="9.2" height="9" fill="#a81e2b"/>
<rect x="246.45" y="358.25" width="9.2" height="9" fill="#a81e2b"/>
<rect x="257.15" y="358.25" width="9.2" height="9" fill="#3b4fae"/>
<rect x="267.85" y="358.25" width="9.2" height="9" fill="#a81e2b"/>
<rect x="278.55" y="358.25" width="9.2" height="9" fill="#a81e2b"/>
<rect x="289.25" y="358.25" width="9.2" height="9" fill="#a81e2b"/>
<rect x="299.95" y="358.25" width="9.2" height="9" fill="#a81e2b"/>
<rect x="310.65" y="358.25" width="9.2" height="9" fill="#a81e2b"/>
<rect x="321.35" y="358.25" width="9.2" height="9" fill="#a81e2b"/>
<rect x="332.05" y="358.25" width="9.2" height="9" fill="#e5806a"/>
<rect x="342.75" y="358.25" width="9.2" height="9" fill="#a81e2b"/>
<rect x="353.45" y="358.25" width="9.2" height="9" fill="#a81e2b"/>
<rect x="364.15" y="358.25" width="9.2" height="9" fill="#c13a3b"/>
<rect x="374.85" y="358.25" width="9.2" height="9" fill="#e5806a"/>
<rect x="385.55" y="358.25" width="9.2" height="9" fill="#e5806a"/>
<rect x="396.25" y="358.25" width="9.2" height="9" fill="#f1c2b3"/>
<rect x="406.95" y="358.25" width="9.2" height="9" fill="#d6d6d6"/>
<rect x="417.65" y="358.25" width="9.2" height="9" fill="#a81e2b"/>
<rect x="428.35" y="358.25" width="9.2" height="9" fill="#c13a3b"/>
<rect x="439.05" y="358.25" width="9.2" height="9" fill="#a81e2b"/>
<rect x="449.75" y="358.25" width="9.2" height="9" fill="#c13a3b"/>
<rect x="460.45" y="358.25" width="9.2" height="9" fill="#d6d6d6"/>
<rect x="471.15" y="358.25" width="9.2" height="9" fill="#f1c2b3"/>
<rect x="481.85" y="358.25" width="9.2" height="9" fill="#a81e2b"/>
<text stroke="#231f20" x="16.4" y="365.75" text-anchor="end" font-size="8.3">5</text>
<line x1="17.8" y1="362.75" x2="19.6" y2="362.75" stroke="#555" stroke-width="0.4"/>
<rect x="21.75" y="368.9" width="9.2" height="9" fill="#d6d6d6"/>
<rect x="32.45" y="368.9" width="9.2" height="9" fill="#a81e2b"/>
<rect x="43.15" y="368.9" width="9.2" height="9" fill="#a81e2b"/>
<rect x="53.85" y="368.9" width="9.2" height="9" fill="#a81e2b"/>
<rect x="64.55" y="368.9" width="9.2" height="9" fill="#a81e2b"/>
<rect x="75.25" y="368.9" width="9.2" height="9" fill="#a81e2b"/>
<rect x="85.95" y="368.9" width="9.2" height="9" fill="#a81e2b"/>
<rect x="96.65" y="368.9" width="9.2" height="9" fill="#a81e2b"/>
<rect x="107.35" y="368.9" width="9.2" height="9" fill="#a81e2b"/>
<rect x="118.05" y="368.9" width="9.2" height="9" fill="#a81e2b"/>
<rect x="128.75" y="368.9" width="9.2" height="9" fill="#c13a3b"/>
<rect x="139.45" y="368.9" width="9.2" height="9" fill="#d6d6d6"/>
<rect x="150.15" y="368.9" width="9.2" height="9" fill="#a81e2b"/>
<rect x="160.85" y="368.9" width="9.2" height="9" fill="#a81e2b"/>
<rect x="171.55" y="368.9" width="9.2" height="9" fill="#d6d6d6"/>
<rect x="182.25" y="368.9" width="9.2" height="9" fill="#d6d6d6"/>
<rect x="192.95" y="368.9" width="9.2" height="9" fill="#a81e2b"/>
<rect x="203.65" y="368.9" width="9.2" height="9" fill="#a81e2b"/>
<rect x="214.35" y="368.9" width="9.2" height="9" fill="#a81e2b"/>
<rect x="225.05" y="368.9" width="9.2" height="9" fill="#a81e2b"/>
<rect x="235.75" y="368.9" width="9.2" height="9" fill="#a81e2b"/>
<rect x="246.45" y="368.9" width="9.2" height="9" fill="#d6d6d6"/>
<rect x="257.15" y="368.9" width="9.2" height="9" fill="#a81e2b"/>
<rect x="267.85" y="368.9" width="9.2" height="9" fill="#a81e2b"/>
<rect x="278.55" y="368.9" width="9.2" height="9" fill="#a81e2b"/>
<rect x="289.25" y="368.9" width="9.2" height="9" fill="#a81e2b"/>
<rect x="299.95" y="368.9" width="9.2" height="9" fill="#a81e2b"/>
<rect x="310.65" y="368.9" width="9.2" height="9" fill="#d6d6d6"/>
<rect x="321.35" y="368.9" width="9.2" height="9" fill="#a81e2b"/>
<rect x="332.05" y="368.9" width="9.2" height="9" fill="#d45b4c"/>
<rect x="342.75" y="368.9" width="9.2" height="9" fill="#a81e2b"/>
<rect x="353.45" y="368.9" width="9.2" height="9" fill="#a81e2b"/>
<rect x="364.15" y="368.9" width="9.2" height="9" fill="#a81e2b"/>
<rect x="374.85" y="368.9" width="9.2" height="9" fill="#e5806a"/>
<rect x="385.55" y="368.9" width="9.2" height="9" fill="#d45b4c"/>
<rect x="396.25" y="368.9" width="9.2" height="9" fill="#a81e2b"/>
<rect x="406.95" y="368.9" width="9.2" height="9" fill="#d6d6d6"/>
<rect x="417.65" y="368.9" width="9.2" height="9" fill="#d6d6d6"/>
<rect x="428.35" y="368.9" width="9.2" height="9" fill="#a81e2b"/>
<rect x="439.05" y="368.9" width="9.2" height="9" fill="#d6d6d6"/>
<rect x="449.75" y="368.9" width="9.2" height="9" fill="#a81e2b"/>
<rect x="460.45" y="368.9" width="9.2" height="9" fill="#d6d6d6"/>
<rect x="471.15" y="368.9" width="9.2" height="9" fill="#a81e2b"/>
<rect x="481.85" y="368.9" width="9.2" height="9" fill="#e5806a"/>
<text stroke="#231f20" x="16.4" y="376.4" text-anchor="end" font-size="8.3">6</text>
<line x1="17.8" y1="373.4" x2="19.6" y2="373.4" stroke="#555" stroke-width="0.4"/>
<line x1="26.35" y1="378.9" x2="26.35" y2="380.5" stroke="#555" stroke-width="0.4"/>
<text stroke="#231f20" x="28.55" y="382.9" text-anchor="end" font-size="8.5" transform="rotate(-90 28.55 382.9)">FRP</text>
<line x1="37.05" y1="378.9" x2="37.05" y2="380.5" stroke="#555" stroke-width="0.4"/>
<text stroke="#231f20" x="39.25" y="382.9" text-anchor="end" font-size="8.5" transform="rotate(-90 39.25 382.9)">MOp</text>
<line x1="47.75" y1="378.9" x2="47.75" y2="380.5" stroke="#555" stroke-width="0.4"/>
<text stroke="#231f20" x="49.95" y="382.9" text-anchor="end" font-size="8.5" transform="rotate(-90 49.95 382.9)">MOs</text>
<line x1="58.45" y1="378.9" x2="58.45" y2="380.5" stroke="#555" stroke-width="0.4"/>
<text stroke="#231f20" x="60.65" y="382.9" text-anchor="end" font-size="8.5" transform="rotate(-90 60.65 382.9)">SSp-n</text>
<line x1="69.15" y1="378.9" x2="69.15" y2="380.5" stroke="#555" stroke-width="0.4"/>
<text stroke="#231f20" x="71.35" y="382.9" text-anchor="end" font-size="8.5" transform="rotate(-90 71.35 382.9)">SSp-bfd</text>
<line x1="79.85" y1="378.9" x2="79.85" y2="380.5" stroke="#555" stroke-width="0.4"/>
<text stroke="#231f20" x="82.05" y="382.9" text-anchor="end" font-size="8.5" transform="rotate(-90 82.05 382.9)">SSp-ll</text>
<line x1="90.55" y1="378.9" x2="90.55" y2="380.5" stroke="#555" stroke-width="0.4"/>
<text stroke="#231f20" x="92.75" y="382.9" text-anchor="end" font-size="8.5" transform="rotate(-90 92.75 382.9)">SSp-m</text>
<line x1="101.25" y1="378.9" x2="101.25" y2="380.5" stroke="#555" stroke-width="0.4"/>
<text stroke="#231f20" x="103.45" y="382.9" text-anchor="end" font-size="8.5" transform="rotate(-90 103.45 382.9)">SSp-ul</text>
<line x1="111.95" y1="378.9" x2="111.95" y2="380.5" stroke="#555" stroke-width="0.4"/>
<text stroke="#231f20" x="114.15" y="382.9" text-anchor="end" font-size="8.5" transform="rotate(-90 114.15 382.9)">SSp-tr</text>
<line x1="122.65" y1="378.9" x2="122.65" y2="380.5" stroke="#555" stroke-width="0.4"/>
<text stroke="#231f20" x="124.85" y="382.9" text-anchor="end" font-size="8.5" transform="rotate(-90 124.85 382.9)">SSp-un</text>
<line x1="133.35" y1="378.9" x2="133.35" y2="380.5" stroke="#555" stroke-width="0.4"/>
<text stroke="#231f20" x="135.55" y="382.9" text-anchor="end" font-size="8.5" transform="rotate(-90 135.55 382.9)">SSs</text>
<line x1="144.05" y1="378.9" x2="144.05" y2="380.5" stroke="#555" stroke-width="0.4"/>
<text stroke="#231f20" x="146.25" y="382.9" text-anchor="end" font-size="8.5" transform="rotate(-90 146.25 382.9)">AUDd</text>
<line x1="154.75" y1="378.9" x2="154.75" y2="380.5" stroke="#555" stroke-width="0.4"/>
<text stroke="#231f20" x="156.95" y="382.9" text-anchor="end" font-size="8.5" transform="rotate(-90 156.95 382.9)">AUDp</text>
<line x1="165.45" y1="378.9" x2="165.45" y2="380.5" stroke="#555" stroke-width="0.4"/>
<text stroke="#231f20" x="167.65" y="382.9" text-anchor="end" font-size="8.5" transform="rotate(-90 167.65 382.9)">AUDpo</text>
<line x1="176.15" y1="378.9" x2="176.15" y2="380.5" stroke="#555" stroke-width="0.4"/>
<text stroke="#231f20" x="178.35" y="382.9" text-anchor="end" font-size="8.5" transform="rotate(-90 178.35 382.9)">AUDv</text>
<line x1="186.85" y1="378.9" x2="186.85" y2="380.5" stroke="#555" stroke-width="0.4"/>
<text stroke="#231f20" x="189.05" y="382.9" text-anchor="end" font-size="8.5" transform="rotate(-90 189.05 382.9)">VISal</text>
<line x1="197.55" y1="378.9" x2="197.55" y2="380.5" stroke="#555" stroke-width="0.4"/>
<text stroke="#231f20" x="199.75" y="382.9" text-anchor="end" font-size="8.5" transform="rotate(-90 199.75 382.9)">VISam</text>
<line x1="208.25" y1="378.9" x2="208.25" y2="380.5" stroke="#555" stroke-width="0.4"/>
<text stroke="#231f20" x="210.45" y="382.9" text-anchor="end" font-size="8.5" transform="rotate(-90 210.45 382.9)">VISl</text>
<line x1="218.95" y1="378.9" x2="218.95" y2="380.5" stroke="#555" stroke-width="0.4"/>
<text stroke="#231f20" x="221.15" y="382.9" text-anchor="end" font-size="8.5" transform="rotate(-90 221.15 382.9)">VISp</text>
<line x1="229.65" y1="378.9" x2="229.65" y2="380.5" stroke="#555" stroke-width="0.4"/>
<text stroke="#231f20" x="231.85" y="382.9" text-anchor="end" font-size="8.5" transform="rotate(-90 231.85 382.9)">VISpl</text>
<line x1="240.35" y1="378.9" x2="240.35" y2="380.5" stroke="#555" stroke-width="0.4"/>
<text stroke="#231f20" x="242.55" y="382.9" text-anchor="end" font-size="8.5" transform="rotate(-90 242.55 382.9)">VISpm</text>
<line x1="251.05" y1="378.9" x2="251.05" y2="380.5" stroke="#555" stroke-width="0.4"/>
<text stroke="#231f20" x="253.25" y="382.9" text-anchor="end" font-size="8.5" transform="rotate(-90 253.25 382.9)">VISli</text>
<line x1="261.75" y1="378.9" x2="261.75" y2="380.5" stroke="#555" stroke-width="0.4"/>
<text stroke="#231f20" x="263.95" y="382.9" text-anchor="end" font-size="8.5" transform="rotate(-90 263.95 382.9)">VISpor</text>
<line x1="272.45" y1="378.9" x2="272.45" y2="380.5" stroke="#555" stroke-width="0.4"/>
<text stroke="#231f20" x="274.65" y="382.9" text-anchor="end" font-size="8.5" transform="rotate(-90 274.65 382.9)">RSPagl</text>
<line x1="283.15" y1="378.9" x2="283.15" y2="380.5" stroke="#555" stroke-width="0.4"/>
<text stroke="#231f20" x="285.35" y="382.9" text-anchor="end" font-size="8.5" transform="rotate(-90 285.35 382.9)">RSPd</text>
<line x1="293.85" y1="378.9" x2="293.85" y2="380.5" stroke="#555" stroke-width="0.4"/>
<text stroke="#231f20" x="296.05" y="382.9" text-anchor="end" font-size="8.5" transform="rotate(-90 296.05 382.9)">RSPv</text>
<line x1="304.55" y1="378.9" x2="304.55" y2="380.5" stroke="#555" stroke-width="0.4"/>
<text stroke="#231f20" x="306.75" y="382.9" text-anchor="end" font-size="8.5" transform="rotate(-90 306.75 382.9)">VISa</text>
<line x1="315.25" y1="378.9" x2="315.25" y2="380.5" stroke="#555" stroke-width="0.4"/>
<text stroke="#231f20" x="317.45" y="382.9" text-anchor="end" font-size="8.5" transform="rotate(-90 317.45 382.9)">VISrl</text>
<line x1="325.95" y1="378.9" x2="325.95" y2="380.5" stroke="#555" stroke-width="0.4"/>
<text stroke="#231f20" x="328.15" y="382.9" text-anchor="end" font-size="8.5" transform="rotate(-90 328.15 382.9)">ORBl</text>
<line x1="336.65" y1="378.9" x2="336.65" y2="380.5" stroke="#555" stroke-width="0.4"/>
<text stroke="#231f20" x="338.85" y="382.9" text-anchor="end" font-size="8.5" transform="rotate(-90 338.85 382.9)">ORBm</text>
<line x1="347.35" y1="378.9" x2="347.35" y2="380.5" stroke="#555" stroke-width="0.4"/>
<text stroke="#231f20" x="349.55" y="382.9" text-anchor="end" font-size="8.5" transform="rotate(-90 349.55 382.9)">ORBvl</text>
<line x1="358.05" y1="378.9" x2="358.05" y2="380.5" stroke="#555" stroke-width="0.4"/>
<text stroke="#231f20" x="360.25" y="382.9" text-anchor="end" font-size="8.5" transform="rotate(-90 360.25 382.9)">ACAd</text>
<line x1="368.75" y1="378.9" x2="368.75" y2="380.5" stroke="#555" stroke-width="0.4"/>
<text stroke="#231f20" x="370.95" y="382.9" text-anchor="end" font-size="8.5" transform="rotate(-90 370.95 382.9)">ACAv</text>
<line x1="379.45" y1="378.9" x2="379.45" y2="380.5" stroke="#555" stroke-width="0.4"/>
<text stroke="#231f20" x="381.65" y="382.9" text-anchor="end" font-size="8.5" transform="rotate(-90 381.65 382.9)">PL</text>
<line x1="390.15" y1="378.9" x2="390.15" y2="380.5" stroke="#555" stroke-width="0.4"/>
<text stroke="#231f20" x="392.35" y="382.9" text-anchor="end" font-size="8.5" transform="rotate(-90 392.35 382.9)">ORBm</text>
<line x1="400.85" y1="378.9" x2="400.85" y2="380.5" stroke="#555" stroke-width="0.4"/>
<text stroke="#231f20" x="403.05" y="382.9" text-anchor="end" font-size="8.5" transform="rotate(-90 403.05 382.9)">ILA</text>
<line x1="411.55" y1="378.9" x2="411.55" y2="380.5" stroke="#555" stroke-width="0.4"/>
<text stroke="#231f20" x="413.75" y="382.9" text-anchor="end" font-size="8.5" transform="rotate(-90 413.75 382.9)">VISC</text>
<line x1="422.25" y1="378.9" x2="422.25" y2="380.5" stroke="#555" stroke-width="0.4"/>
<text stroke="#231f20" x="424.45" y="382.9" text-anchor="end" font-size="8.5" transform="rotate(-90 424.45 382.9)">GU</text>
<line x1="432.95" y1="378.9" x2="432.95" y2="380.5" stroke="#555" stroke-width="0.4"/>
<text stroke="#231f20" x="435.15" y="382.9" text-anchor="end" font-size="8.5" transform="rotate(-90 435.15 382.9)">AId</text>
<line x1="443.65" y1="378.9" x2="443.65" y2="380.5" stroke="#555" stroke-width="0.4"/>
<text stroke="#231f20" x="445.85" y="382.9" text-anchor="end" font-size="8.5" transform="rotate(-90 445.85 382.9)">AIp</text>
<line x1="454.35" y1="378.9" x2="454.35" y2="380.5" stroke="#555" stroke-width="0.4"/>
<text stroke="#231f20" x="456.55" y="382.9" text-anchor="end" font-size="8.5" transform="rotate(-90 456.55 382.9)">AIv</text>
<line x1="465.05" y1="378.9" x2="465.05" y2="380.5" stroke="#555" stroke-width="0.4"/>
<text stroke="#231f20" x="467.25" y="382.9" text-anchor="end" font-size="8.5" transform="rotate(-90 467.25 382.9)">PERI</text>
<line x1="475.75" y1="378.9" x2="475.75" y2="380.5" stroke="#555" stroke-width="0.4"/>
<text stroke="#231f20" x="477.95" y="382.9" text-anchor="end" font-size="8.5" transform="rotate(-90 477.95 382.9)">TEa</text>
<line x1="486.45" y1="378.9" x2="486.45" y2="380.5" stroke="#555" stroke-width="0.4"/>
<text stroke="#231f20" x="488.65" y="382.9" text-anchor="end" font-size="8.5" transform="rotate(-90 488.65 382.9)">ECT</text>
<text x="518.6" y="164.6" font-weight="bold" fill="#000" stroke="#000" font-size="13">f</text>
<rect x="570.95" y="238.32" width="12.4" height="17.48" fill="none" stroke="#93d293" stroke-width="0.7"/>
<line x1="577.15" y1="243.96" x2="577.15" y2="232.68" stroke="#93d293" stroke-width="0.7"/>
<circle cx="577.15" cy="251.29" r="1.25" fill="#fff" stroke="#93d293" stroke-width="0.5"/>
<circle cx="577.15" cy="241.14" r="1.25" fill="#fff" stroke="#93d293" stroke-width="0.5"/>
<circle cx="577.15" cy="237.75" r="1.25" fill="#fff" stroke="#93d293" stroke-width="0.5"/>
<circle cx="577.15" cy="234.37" r="1.25" fill="#fff" stroke="#93d293" stroke-width="0.5"/>
<circle cx="577.15" cy="230.42" r="1.25" fill="#fff" stroke="#93d293" stroke-width="0.5"/>
<circle cx="577.15" cy="224.78" r="1.25" fill="#fff" stroke="#93d293" stroke-width="0.5"/>
<rect x="585.95" y="208.99" width="13" height="46.81" fill="none" stroke="#5e9a6c" stroke-width="0.7"/>
<line x1="592.45" y1="212.94" x2="592.45" y2="205.04" stroke="#5e9a6c" stroke-width="0.7"/>
<circle cx="592.45" cy="219.14" r="1.25" fill="#fff" stroke="#5e9a6c" stroke-width="0.5"/>
<circle cx="592.45" cy="209.55" r="1.25" fill="#fff" stroke="#5e9a6c" stroke-width="0.5"/>
<circle cx="592.45" cy="205.04" r="1.25" fill="#fff" stroke="#5e9a6c" stroke-width="0.5"/>
<circle cx="592.45" cy="202.78" r="1.25" fill="#fff" stroke="#5e9a6c" stroke-width="0.5"/>
<circle cx="592.45" cy="200.53" r="1.25" fill="#fff" stroke="#5e9a6c" stroke-width="0.5"/>
<line x1="564.5" y1="171.2" x2="564.5" y2="255.8" stroke="#7d7d7d" stroke-width="0.7"/>
<line x1="562.7" y1="255.5" x2="605.4" y2="255.5" stroke="#7d7d7d" stroke-width="0.7"/>
<line x1="562.7" y1="255.8" x2="564.3" y2="255.8" stroke="#7d7d7d" stroke-width="0.5"/>
<text x="558.9" y="258.3" text-anchor="end" fill="#555555" stroke="#555555">0</text>
<line x1="562.7" y1="227.6" x2="564.3" y2="227.6" stroke="#7d7d7d" stroke-width="0.5"/>
<text x="558.9" y="230.1" text-anchor="end" fill="#555555" stroke="#555555">5</text>
<line x1="562.7" y1="199.4" x2="564.3" y2="199.4" stroke="#7d7d7d" stroke-width="0.5"/>
<text x="558.9" y="201.9" text-anchor="end" fill="#555555" stroke="#555555">10</text>
<line x1="562.7" y1="171.2" x2="564.3" y2="171.2" stroke="#7d7d7d" stroke-width="0.5"/>
<text x="558.9" y="173.7" text-anchor="end" fill="#555555" stroke="#555555">15</text>
<text stroke="#231f20" x="546.8" y="212.8" text-anchor="middle" transform="rotate(-90 546.8 212.8)">c-Fos+PV+ cells in c-Fos+ cells (%)</text>
<text stroke="#231f20" x="585.3" y="164.8" text-anchor="middle"><tspan font-style="italic">P</tspan> = 4.4 × 10<tspan dy="-2.6" font-size="4.6" style="stroke-width:0.06px">−8</tspan></text>
<path d="M577.1,169.2 V167.4 H592.5 V169.2" fill="none" stroke="#555" stroke-width="0.5"/>
<text stroke="#231f20" x="577.1" y="263.8" text-anchor="middle">S</text>
<text stroke="#231f20" x="592.5" y="263.8" text-anchor="middle">SD</text>
<rect x="644.65" y="251.42" width="13.4" height="4.58" fill="none" stroke="#93d293" stroke-width="0.7"/>
<line x1="651.35" y1="253.45" x2="651.35" y2="249.38" stroke="#93d293" stroke-width="0.7"/>
<circle cx="651.35" cy="255.15" r="1.25" fill="#fff" stroke="#93d293" stroke-width="0.5"/>
<circle cx="651.35" cy="252.6" r="1.25" fill="#fff" stroke="#93d293" stroke-width="0.5"/>
<circle cx="651.35" cy="250.06" r="1.25" fill="#fff" stroke="#93d293" stroke-width="0.5"/>
<circle cx="651.35" cy="246.66" r="1.25" fill="#fff" stroke="#93d293" stroke-width="0.5"/>
<rect x="660.65" y="239.02" width="13.6" height="16.98" fill="none" stroke="#5e9a6c" stroke-width="0.7"/>
<line x1="667.45" y1="241.57" x2="667.45" y2="236.47" stroke="#5e9a6c" stroke-width="0.7"/>
<circle cx="667.45" cy="245.81" r="1.25" fill="#fff" stroke="#5e9a6c" stroke-width="0.5"/>
<circle cx="667.45" cy="241.57" r="1.25" fill="#fff" stroke="#5e9a6c" stroke-width="0.5"/>
<circle cx="667.45" cy="238.17" r="1.25" fill="#fff" stroke="#5e9a6c" stroke-width="0.5"/>
<circle cx="667.45" cy="236.47" r="1.25" fill="#fff" stroke="#5e9a6c" stroke-width="0.5"/>
<circle cx="667.45" cy="234.78" r="1.25" fill="#fff" stroke="#5e9a6c" stroke-width="0.5"/>
<line x1="638.5" y1="171.1" x2="638.5" y2="256" stroke="#7d7d7d" stroke-width="0.7"/>
<line x1="637.1" y1="256.5" x2="680.6" y2="256.5" stroke="#7d7d7d" stroke-width="0.7"/>
<line x1="637.1" y1="256" x2="638.7" y2="256" stroke="#7d7d7d" stroke-width="0.5"/>
<text x="633.3" y="258.5" text-anchor="end" fill="#555555" stroke="#555555">0</text>
<line x1="637.1" y1="239.02" x2="638.7" y2="239.02" stroke="#7d7d7d" stroke-width="0.5"/>
<text x="633.3" y="241.52" text-anchor="end" fill="#555555" stroke="#555555">1</text>
<line x1="637.1" y1="222.04" x2="638.7" y2="222.04" stroke="#7d7d7d" stroke-width="0.5"/>
<text x="633.3" y="224.54" text-anchor="end" fill="#555555" stroke="#555555">2</text>
<line x1="637.1" y1="205.06" x2="638.7" y2="205.06" stroke="#7d7d7d" stroke-width="0.5"/>
<text x="633.3" y="207.56" text-anchor="end" fill="#555555" stroke="#555555">3</text>
<line x1="637.1" y1="188.08" x2="638.7" y2="188.08" stroke="#7d7d7d" stroke-width="0.5"/>
<text x="633.3" y="190.58" text-anchor="end" fill="#555555" stroke="#555555">4</text>
<line x1="637.1" y1="171.1" x2="638.7" y2="171.1" stroke="#7d7d7d" stroke-width="0.5"/>
<text x="633.3" y="173.6" text-anchor="end" fill="#555555" stroke="#555555">5</text>
<text stroke="#231f20" x="623.2" y="212.85" text-anchor="middle" transform="rotate(-90 623.2 212.85)">c-Fos+PV+ cells in PV+ cells (%)</text>
<text stroke="#231f20" x="659.6" y="164.8" text-anchor="middle"><tspan font-style="italic">P</tspan> = 3.1 × 10<tspan dy="-2.6" font-size="4.6" style="stroke-width:0.06px">−5</tspan></text>
<path d="M651.3,169.2 V167.4 H667.4 V169.2" fill="none" stroke="#555" stroke-width="0.5"/>
<text stroke="#231f20" x="651.3" y="264" text-anchor="middle">S</text>
<text stroke="#231f20" x="667.4" y="264" text-anchor="middle">SD</text>
<text x="518.2" y="304.6" font-weight="bold" fill="#000" stroke="#000" font-size="13">h</text>
<rect x="570.35" y="360.58" width="14.2" height="35.42" fill="none" stroke="#86acdb" stroke-width="0.7"/>
<line x1="577.45" y1="368.38" x2="577.45" y2="352.79" stroke="#86acdb" stroke-width="0.7"/>
<circle cx="577.45" cy="374.04" r="1.25" fill="#fff" stroke="#86acdb" stroke-width="0.5"/>
<circle cx="577.45" cy="349.25" r="1.25" fill="#fff" stroke="#86acdb" stroke-width="0.5"/>
<circle cx="577.45" cy="346.42" r="1.25" fill="#fff" stroke="#86acdb" stroke-width="0.5"/>
<rect x="586.65" y="333.67" width="13.7" height="62.33" fill="none" stroke="#e98585" stroke-width="0.7"/>
<line x1="593.5" y1="337.21" x2="593.5" y2="330.12" stroke="#e98585" stroke-width="0.7"/>
<circle cx="593.5" cy="342.88" r="1.25" fill="#fff" stroke="#e98585" stroke-width="0.5"/>
<circle cx="593.5" cy="336.5" r="1.25" fill="#fff" stroke="#e98585" stroke-width="0.5"/>
<circle cx="593.5" cy="332.25" r="1.25" fill="#fff" stroke="#e98585" stroke-width="0.5"/>
<circle cx="593.5" cy="325.17" r="1.25" fill="#fff" stroke="#e98585" stroke-width="0.5"/>
<line x1="564.5" y1="311" x2="564.5" y2="396" stroke="#7d7d7d" stroke-width="0.7"/>
<line x1="562.5" y1="396.5" x2="606" y2="396.5" stroke="#7d7d7d" stroke-width="0.7"/>
<line x1="562.5" y1="396" x2="564.1" y2="396" stroke="#7d7d7d" stroke-width="0.5"/>
<text x="558.7" y="398.5" text-anchor="end" fill="#555555" stroke="#555555">0</text>
<line x1="562.5" y1="367.67" x2="564.1" y2="367.67" stroke="#7d7d7d" stroke-width="0.5"/>
<text x="558.7" y="370.17" text-anchor="end" fill="#555555" stroke="#555555">20</text>
<line x1="562.5" y1="339.33" x2="564.1" y2="339.33" stroke="#7d7d7d" stroke-width="0.5"/>
<text x="558.7" y="341.83" text-anchor="end" fill="#555555" stroke="#555555">40</text>
<line x1="562.5" y1="311" x2="564.1" y2="311" stroke="#7d7d7d" stroke-width="0.5"/>
<text x="558.7" y="313.5" text-anchor="end" fill="#555555" stroke="#555555">60</text>
<text stroke="#231f20" x="546.2" y="352.8" text-anchor="middle" transform="rotate(-90 546.2 352.8)">c-Fos+PV+ cells in c-Fos+ cells (%)</text>
<text stroke="#231f20" x="585.3" y="304.6" text-anchor="middle"><tspan font-style="italic">P</tspan> = 0.029</text>
<path d="M577.4,309 V307.2 H593.5 V309" fill="none" stroke="#555" stroke-width="0.5"/>
<text stroke="#231f20" x="579.4" y="400.8" text-anchor="end" transform="rotate(-45 579.4 400.8)">Saline</text>
<text stroke="#231f20" x="595.5" y="400.8" text-anchor="end" transform="rotate(-45 595.5 400.8)">MK801</text>
<rect x="644.35" y="395.44" width="13.7" height="0.56" fill="none" stroke="#86acdb" stroke-width="0.7"/>
<circle cx="651.2" cy="396" r="1.25" fill="#fff" stroke="#86acdb" stroke-width="0.5"/>
<circle cx="651.2" cy="395.44" r="1.25" fill="#fff" stroke="#86acdb" stroke-width="0.5"/>
<circle cx="651.2" cy="394.87" r="1.25" fill="#fff" stroke="#86acdb" stroke-width="0.5"/>
<rect x="660.35" y="384.71" width="13.5" height="11.29" fill="none" stroke="#e98585" stroke-width="0.7"/>
<line x1="667.1" y1="390.35" x2="667.1" y2="379.06" stroke="#e98585" stroke-width="0.7"/>
<circle cx="667.1" cy="393.18" r="1.25" fill="#fff" stroke="#e98585" stroke-width="0.5"/>
<circle cx="667.1" cy="384.71" r="1.25" fill="#fff" stroke="#e98585" stroke-width="0.5"/>
<circle cx="667.1" cy="368.9" r="1.25" fill="#fff" stroke="#e98585" stroke-width="0.5"/>
<line x1="638.5" y1="311.3" x2="638.5" y2="396" stroke="#7d7d7d" stroke-width="0.7"/>
<line x1="636.7" y1="396.5" x2="680" y2="396.5" stroke="#7d7d7d" stroke-width="0.7"/>
<line x1="636.7" y1="396" x2="638.3" y2="396" stroke="#7d7d7d" stroke-width="0.5"/>
<text x="632.9" y="398.5" text-anchor="end" fill="#555555" stroke="#555555">0</text>
<line x1="636.7" y1="367.77" x2="638.3" y2="367.77" stroke="#7d7d7d" stroke-width="0.5"/>
<text x="632.9" y="370.27" text-anchor="end" fill="#555555" stroke="#555555">1</text>
<line x1="636.7" y1="339.53" x2="638.3" y2="339.53" stroke="#7d7d7d" stroke-width="0.5"/>
<text x="632.9" y="342.03" text-anchor="end" fill="#555555" stroke="#555555">2</text>
<line x1="636.7" y1="311.3" x2="638.3" y2="311.3" stroke="#7d7d7d" stroke-width="0.5"/>
<text x="632.9" y="313.8" text-anchor="end" fill="#555555" stroke="#555555">3</text>
<text stroke="#231f20" x="620" y="352.95" text-anchor="middle" transform="rotate(-90 620 352.95)">c-Fos+PV+ cells in PV+ cells (%)</text>
<text stroke="#231f20" x="659" y="304.6" text-anchor="middle"><tspan font-style="italic">P</tspan> = 0.15</text>
<path d="M651.2,309 V307.2 H667.1 V309" fill="none" stroke="#555" stroke-width="0.5"/>
<text stroke="#231f20" x="653.2" y="400.8" text-anchor="end" transform="rotate(-45 653.2 400.8)">Saline</text>
<text stroke="#231f20" x="669.1" y="400.8" text-anchor="end" transform="rotate(-45 669.1 400.8)">MK801</text>
<text x="2.6" y="450.2" font-weight="bold" fill="#000" stroke="#000" font-size="13">i</text>
<text stroke="#231f20" x="21.4" y="476.1" text-anchor="middle">ITR</text>
<text stroke="#231f20" x="165.4" y="476.1" text-anchor="middle">ITR</text>
<rect x="19.1" y="477.4" width="3.6" height="10" fill="#111"/>
<rect x="163.1" y="477.4" width="4" height="10" fill="#111"/>
<line x1="22.7" y1="482.4" x2="27.2" y2="482.4" stroke="#231f20" stroke-width="0.6"/>
<line x1="146.4" y1="482.4" x2="148.3" y2="482.4" stroke="#231f20" stroke-width="0.6"/>
<line x1="158.4" y1="482.4" x2="163.1" y2="482.4" stroke="#231f20" stroke-width="0.6"/>
<path d="M27.2,477.6 H56.6 L59.7,482.4 L56.6,487.2 H27.2 Z" fill="#8fd08a" stroke="#3a3a3a" stroke-width="0.5"/>
<text stroke="#231f20" x="43" y="485.1" text-anchor="middle">E11(PV)</text>
<path d="M61.3,477.4 H117.6 L121.8,482.4 L117.6,487.3 H61.3 Z" fill="#fff" stroke="#3a3a3a" stroke-width="0.5"/>
<text stroke="#231f20" x="89.5" y="485.1" text-anchor="middle">Gene-of-interest</text>
<rect x="123.4" y="477.5" width="23" height="9.8" fill="#a4a4a4" stroke="#3a3a3a" stroke-width="0.5"/>
<text stroke="#231f20" x="134.9" y="485.1" text-anchor="middle">3'UTR</text>
<rect x="148.3" y="477.5" width="10.1" height="9.8" fill="#fff" stroke="#3a3a3a" stroke-width="0.5"/>
<text stroke="#231f20" x="153.4" y="485.1" text-anchor="middle">pA</text>
<path d="M61.3,477.4 V474.3 H81" fill="none" stroke="#111" stroke-width="0.6" marker-end="url(#arr)"/>
<line x1="19.5" y1="492" x2="47" y2="507.6" stroke="#555" stroke-width="0.4"/>
<line x1="167.5" y1="491.6" x2="92" y2="508.2" stroke="#555" stroke-width="0.4" stroke-dasharray="0.8,0.5"/>
<text stroke="#231f20" x="47.8" y="517.3">AAV-PHP.eB</text>
<path d="M33.3,530.4 Q36,532 38.6,537 Q42,545 44.6,556.5 Q48.5,559 51.6,565.6 Q52,567.6 50.5,567.6 L46.5,564.5 L46.5,567.5 L21,567.5 L21.5,564.6 L17,568.8 Q15.6,567.6 16.6,565 Q19,560 22.3,557.6 Q25,545 28,537.5 Q30.5,532 33.3,530.4 Z" fill="#c9c9c9"/>
<path d="M46.5,567.5 L46.5,564.5 L50.5,567.6 Q52,567.6 51.6,565.6 Q48.5,559 44.6,556.5 Q42,545 38.6,537 Q36,532 33.3,530.4 Q30.5,532 28,537.5 Q25,545 22.3,557.6 Q19,560 16.6,565 Q15.6,567.6 17,568.8 L21.5,564.6 L21,567.5" fill="none" stroke="#333" stroke-width="0.6"/>
<circle cx="27.6" cy="545.3" r="1.5" fill="#222"/>
<circle cx="38.9" cy="545.3" r="1.5" fill="#222"/>
<line x1="29" y1="533.5" x2="18" y2="531.5" stroke="#777" stroke-width="0.3"/>
<line x1="29" y1="534" x2="17.5" y2="533.5" stroke="#777" stroke-width="0.3"/>
<line x1="29.5" y1="534.5" x2="19" y2="535.5" stroke="#777" stroke-width="0.3"/>
<line x1="29.5" y1="534" x2="20" y2="530" stroke="#777" stroke-width="0.3"/>
<line x1="37.5" y1="533.5" x2="48" y2="531.5" stroke="#777" stroke-width="0.3"/>
<line x1="37.5" y1="534" x2="51" y2="534.3" stroke="#777" stroke-width="0.3"/>
<line x1="37" y1="534.5" x2="46" y2="536.5" stroke="#777" stroke-width="0.3"/>
<line x1="37" y1="533.8" x2="45" y2="530" stroke="#777" stroke-width="0.3"/>
<line x1="37.9" y1="511.1" x2="37.9" y2="543" stroke="#888" stroke-width="0.9"/>
<path d="M37.9,518.6 L40,516.6 L45,515.2" fill="none" stroke="#333" stroke-width="0.5"/>
<text stroke="#231f20" x="34" y="576.9" text-anchor="middle">Retro-orbital</text>
<text stroke="#231f20" x="34" y="584.2" text-anchor="middle">injection</text>
<line x1="59.9" y1="555.8" x2="167" y2="555.8" stroke="#555" stroke-width="0.7"/>
<line x1="75" y1="553.6" x2="75" y2="558" stroke="#555" stroke-width="0.5"/>
<text stroke="#231f20" x="75" y="565.3" text-anchor="middle">5</text>
<line x1="90.84" y1="553.6" x2="90.84" y2="558" stroke="#555" stroke-width="0.5"/>
<text stroke="#231f20" x="90.84" y="565.3" text-anchor="middle">6</text>
<line x1="106.68" y1="553.6" x2="106.68" y2="558" stroke="#555" stroke-width="0.5"/>
<text stroke="#231f20" x="106.68" y="565.3" text-anchor="middle">7</text>
<line x1="122.52" y1="553.6" x2="122.52" y2="558" stroke="#555" stroke-width="0.5"/>
<text stroke="#231f20" x="122.52" y="565.3" text-anchor="middle">8</text>
<line x1="138.36" y1="553.6" x2="138.36" y2="558" stroke="#555" stroke-width="0.5"/>
<text stroke="#231f20" x="138.36" y="565.3" text-anchor="middle">9</text>
<line x1="154.2" y1="553.6" x2="154.2" y2="558" stroke="#555" stroke-width="0.5"/>
<text stroke="#231f20" x="154.2" y="565.3" text-anchor="middle">10</text>
<text stroke="#231f20" x="114.8" y="575.5" text-anchor="middle">Postnatal week</text>
<text stroke="#231f20" x="90.6" y="542.2" text-anchor="middle">AAV injection</text>
<line x1="90.6" y1="543.6" x2="90.6" y2="552.2" stroke="#231f20" stroke-width="0.7" marker-end="url(#arr)"/>
<text stroke="#231f20" x="116.8" y="534.9">Brain sampling/</text>
<text stroke="#231f20" x="116.8" y="542.2">Sleep recording</text>
<path d="M122.6,553 V546.2 H158.5" fill="none" stroke="#111" stroke-width="0.65" marker-end="url(#arr)"/>
<text x="197.2" y="450.2" font-weight="bold" fill="#000" stroke="#000" font-size="13">j</text>
<text stroke="#231f20" x="280" y="447" text-anchor="middle" font-size="10.6">Cell distribution</text>
<text stroke="#231f20" x="284" y="459.2" text-anchor="middle" font-size="10.6">(<tspan fill="#e0218a" stroke="#e0218a">E11-H2B-mCherry</tspan>, <tspan fill="#33bde8" stroke="#33bde8">anti-PV</tspan>)</text>
<g clip-path="url(#cb1)">
<rect x="198" y="468" width="100" height="133" fill="#55cbc4"/>
<g filter="url(#bl2)">
<ellipse cx="246" cy="522" rx="36" ry="30" fill="#a3abcc" opacity="0.75"/>
<ellipse cx="232" cy="505" rx="10" ry="12" fill="#b9c2dc" opacity="0.6"/>
<ellipse cx="260" cy="505" rx="10" ry="12" fill="#b9c2dc" opacity="0.6"/>
<ellipse cx="246" cy="542" rx="20" ry="12" fill="#7a7aa2" opacity="0.55"/>
<ellipse cx="247" cy="585" rx="34" ry="14" fill="#58cac3" opacity="0.95"/>
<ellipse cx="245" cy="566" rx="11" ry="7" fill="#4a3c6c" opacity="0.8"/>
<ellipse cx="203" cy="545" rx="4" ry="16" fill="#4fc0bc" opacity="0.8"/>
<ellipse cx="291" cy="545" rx="4" ry="16" fill="#6a82a8" opacity="0.6"/>
</g>
<rect x="218" y="468" width="54" height="30" fill="url(#bulbg)"/>
<path d="M216,541 Q230,522 245,517 Q262,522 282,541" fill="none" stroke="#c496d2" stroke-width="1.4" opacity="0.8"/>
<path d="M244.3,492 L244.8,517" fill="none" stroke="#5a4a78" stroke-width="1.4" opacity="0.55"/>
<rect x="198" y="468" width="100" height="133" fill="#fff" filter="url(#spk)" opacity="0.35"/>
<rect x="198" y="468" width="100" height="133" fill="#000" filter="url(#spd)" opacity="0.5"/>
</g>
<path d="M221.9,488.4 L222.4,480 Q223,473.5 225,472.3 Q230.7,470.3 236,472.3 Q239,474 240,478 L243.2,494 L245.2,494 Q246.4,480 248.4,474 Q250,472.3 253,471.5 Q258.4,470.5 263,472.5 Q267.5,476 267.9,482.5 L268.6,489 Q272,492 275.9,495.7 Q281,501 284.7,508.8 Q288,515 290.5,523.4 Q293.5,531 294.6,538.8 Q296,548 294.9,554.8 Q292.5,562 289,566.5 Q285,569.5 283.2,572.3 Q283.6,576 281.8,579.6 Q279,585 274.5,588.4 Q268,593.5 261.3,595 Q252,597.5 243.8,597.2 Q234,596.5 226.3,594.2 Q219,591.5 214.6,588.4 Q210,584 209.5,579.6 L209.5,572.3 Q206.5,568.5 204.4,565 Q200.6,561 200.2,559.2 Q199.4,552 200,544.6 Q199.6,537 200.3,530.7 Q200.8,525 201.5,520.5 Q204,512 207.3,505.9 Q211,498 216,492.7 Q219,490 221.9,488.4 Z" fill="none" stroke="#1c2833" stroke-width="1.3" opacity="0.7" filter="url(#bl1)"/>
<g clip-path="url(#cb2)">
<rect x="300" y="465" width="72" height="134" fill="#8fc6cf"/>
<g filter="url(#bl2)">
<ellipse cx="334" cy="520" rx="22" ry="22" fill="#c3c8e0" opacity="0.85"/>
<ellipse cx="342" cy="540" rx="14" ry="10" fill="#9696bc" opacity="0.6"/>
<ellipse cx="306" cy="535" rx="5" ry="18" fill="#3f6a7a" opacity="0.7"/>
<ellipse cx="332" cy="580" rx="26" ry="20" fill="#5cc6bf"/>
<ellipse cx="362" cy="552" rx="7" ry="10" fill="#9fb6cf" opacity="0.7"/>
</g>
<rect x="300" y="465" width="72" height="30" fill="url(#bulbg)"/>
<rect x="300" y="465" width="72" height="134" fill="#fff" filter="url(#spk)" opacity="0.5"/>
<rect x="300" y="465" width="72" height="134" fill="#000" filter="url(#spd)" opacity="0.6"/>
</g>
<path d="M311.4,478.4 Q312.5,472.5 315.5,470.2 Q320,467.3 324.9,467.3 Q330,467.8 333,471.3 Q336.4,474.5 337.1,478.4 L338.9,487.7 Q343,488.3 347,490.6 Q351.5,494.5 355.2,499.4 Q359.5,505.5 362.2,512.2 Q366,519.5 368.1,527.4 Q370.6,538 370,548.2 Q369.5,556 367.4,562 Q363,568.5 357,572.3 Q356.3,582 353.6,589.6 Q350.5,595.5 346.7,596.5 Q336,598 325.2,596.5 Q315,593.5 310.5,586.1 Q307.6,579 308.8,572.3 Q309.5,565.5 312.2,560.3 Q306,557 303.6,551.7 Q302,541 302.8,531 Q303.2,521 306.2,515.7 Q307.8,511 309.1,508.7 L312,505.2 Q311,495 311.2,488 Z" fill="none" stroke="#1c2833" stroke-width="1.3" opacity="0.7" filter="url(#bl1)"/>
<text x="386.3" y="450.5" font-weight="bold" fill="#000" stroke="#000" font-size="13">k</text>
<path d="M458.40,459.80 A61.40,61.40 0 0 1 462.26,582.48 L461.48,570.10 A49.00,49.00 0 0 0 458.40,472.20 Z" fill="#77c46f"/>
<path d="M462.26,582.48 A61.40,61.40 0 0 1 422.31,570.87 L429.60,560.84 A49.00,49.00 0 0 0 461.48,570.10 Z" fill="#8fcbb8"/>
<path d="M422.31,570.87 A61.40,61.40 0 0 1 406.98,554.75 L417.36,547.97 A49.00,49.00 0 0 0 429.60,560.84 Z" fill="#6fbe58"/>
<path d="M406.98,554.75 A61.40,61.40 0 0 1 402.20,545.94 L413.55,540.94 A49.00,49.00 0 0 0 417.36,547.97 Z" fill="#7fc983"/>
<path d="M402.20,545.94 A61.40,61.40 0 0 1 397.31,515.04 L409.65,516.28 A49.00,49.00 0 0 0 413.55,540.94 Z" fill="#85c9ec"/>
<path d="M397.31,515.04 A61.40,61.40 0 0 1 408.28,485.74 L418.40,492.90 A49.00,49.00 0 0 0 409.65,516.28 Z" fill="#7089c5"/>
<path d="M408.28,485.74 A61.40,61.40 0 0 1 409.63,483.90 L419.48,491.44 A49.00,49.00 0 0 0 418.40,492.90 Z" fill="#e8697c"/>
<path d="M409.63,483.90 A61.40,61.40 0 0 1 421.97,471.78 L429.33,481.76 A49.00,49.00 0 0 0 419.48,491.44 Z" fill="#d9433f"/>
<path d="M421.97,471.78 A61.40,61.40 0 0 1 429.81,466.86 L435.58,477.84 A49.00,49.00 0 0 0 429.33,481.76 Z" fill="#a361b6"/>
<path d="M429.81,466.86 A61.40,61.40 0 0 1 431.49,466.01 L436.93,477.16 A49.00,49.00 0 0 0 435.58,477.84 Z" fill="#ef9583"/>
<path d="M431.49,466.01 A61.40,61.40 0 0 1 434.02,464.85 L438.94,476.23 A49.00,49.00 0 0 0 436.93,477.16 Z" fill="#e69bc9"/>
<path d="M434.02,464.85 A61.40,61.40 0 0 1 437.17,463.59 L441.45,475.22 A49.00,49.00 0 0 0 438.94,476.23 Z" fill="#e5e07a"/>
<path d="M437.17,463.59 A61.40,61.40 0 0 1 455.43,459.87 L456.03,472.26 A49.00,49.00 0 0 0 441.45,475.22 Z" fill="#c8c8c8"/>
<path d="M455.43,459.87 A61.40,61.40 0 0 1 458.40,459.80 L458.40,472.20 A49.00,49.00 0 0 0 456.03,472.26 Z" fill="#9d9d9d"/>
<text stroke="#231f20" x="457.6" y="515.4" text-anchor="middle">E11-H2B-mCherry</text>
<text stroke="#231f20" x="457.6" y="524.4" text-anchor="middle">(2.5 ± 0.8) × 10<tspan dy="-2.6" font-size="4.6">5</tspan><tspan dy="2.6"> cells</tspan></text>
<text stroke="#231f20" x="457.6" y="531.1" text-anchor="middle">(n = 4)</text>
<text x="500.4" y="522" text-anchor="middle" fill="#6cbf64" stroke="#6cbf64" font-size="5.6" style="stroke-width:0">49%</text>
<text x="447.7" y="566" text-anchor="middle" fill="#79c1ab" stroke="#79c1ab" font-size="5.6" style="stroke-width:0">11%</text>
<text x="429.6" y="554.5" text-anchor="middle" fill="#5fb54c" stroke="#5fb54c" font-size="5.6" style="stroke-width:0">5.8%</text>
<text x="423.5" y="544.8" text-anchor="middle" fill="#6fc273" stroke="#6fc273" font-size="5.6" style="stroke-width:0">2.6%</text>
<text x="416.6" y="529.8" text-anchor="middle" fill="#79c2e6" stroke="#79c2e6" font-size="5.6" style="stroke-width:0">8.2%</text>
<text x="420.2" y="509" text-anchor="middle" fill="#6a84c2" stroke="#6a84c2" font-size="5.6" style="stroke-width:0">8.2%</text>
<text x="423.8" y="498.4" text-anchor="middle" fill="#e8697c" stroke="#e8697c" font-size="5.6" style="stroke-width:0">0.59%</text>
<text x="429" y="492" text-anchor="middle" fill="#d9433f" stroke="#d9433f" font-size="5.6" style="stroke-width:0">4.5%</text>
<text x="416.5" y="470.6" text-anchor="middle" fill="#a361b6" stroke="#a361b6" font-size="5.6" style="stroke-width:0">2.4%</text>
<text x="425.3" y="463.7" text-anchor="middle" fill="#ef8a78" stroke="#ef8a78" font-size="5.6" style="stroke-width:0">0.49%</text>
<text x="440.8" y="458.1" text-anchor="middle" fill="#d8d060" stroke="#d8d060" font-size="5.6" style="stroke-width:0">0.88%</text>
<text x="441" y="483.7" text-anchor="middle" fill="#e690c3" stroke="#e690c3" font-size="5.6" style="stroke-width:0">0.72%</text>
<text x="450.6" y="479" text-anchor="middle" fill="#b8b8b8" stroke="#b8b8b8" font-size="5.6" style="stroke-width:0">4.0%</text>
<text x="457.6" y="485.3" text-anchor="middle" fill="#8a8a8a" stroke="#8a8a8a" font-size="5.6" style="stroke-width:0">0.77%</text>
<rect x="391.95" y="588.6" width="2.9" height="5.4" fill="#77c46f"/>
<text stroke="#231f20" x="400" y="593.2" font-size="5.3" style="stroke-width:0">Isocortex</text>
<rect x="391.95" y="595.9" width="2.9" height="5.4" fill="#8fcbb8"/>
<text stroke="#231f20" x="400" y="600.5" font-size="5.3" style="stroke-width:0">OLF</text>
<rect x="391.95" y="603.3" width="2.9" height="5.4" fill="#6fbe58"/>
<text stroke="#231f20" x="400" y="607.9" font-size="5.3" style="stroke-width:0">HPF</text>
<rect x="426.55" y="588.6" width="2.9" height="5.4" fill="#7fc983"/>
<text stroke="#231f20" x="434.6" y="593.2" font-size="5.3" style="stroke-width:0">CTXsp</text>
<rect x="426.55" y="595.9" width="2.9" height="5.4" fill="#85c9ec"/>
<text stroke="#231f20" x="434.6" y="600.5" font-size="5.3" style="stroke-width:0">STR</text>
<rect x="426.55" y="603.3" width="2.9" height="5.4" fill="#7089c5"/>
<text stroke="#231f20" x="434.6" y="607.9" font-size="5.3" style="stroke-width:0">PAL</text>
<rect x="456.15" y="588.6" width="2.9" height="5.4" fill="#e8697c"/>
<text stroke="#231f20" x="464.2" y="593.2" font-size="5.3" style="stroke-width:0">TH</text>
<rect x="456.15" y="595.9" width="2.9" height="5.4" fill="#d9433f"/>
<text stroke="#231f20" x="464.2" y="600.5" font-size="5.3" style="stroke-width:0">HY</text>
<rect x="456.15" y="603.3" width="2.9" height="5.4" fill="#a361b6"/>
<text stroke="#231f20" x="464.2" y="607.9" font-size="5.3" style="stroke-width:0">MB</text>
<rect x="475.05" y="588.6" width="2.9" height="5.4" fill="#ef9583"/>
<text stroke="#231f20" x="483.1" y="593.2" font-size="5.3" style="stroke-width:0">P</text>
<rect x="475.05" y="595.9" width="2.9" height="5.4" fill="#e69bc9"/>
<text stroke="#231f20" x="483.1" y="600.5" font-size="5.3" style="stroke-width:0">MY</text>
<rect x="475.05" y="603.3" width="2.9" height="5.4" fill="#e5e07a"/>
<text stroke="#231f20" x="483.1" y="607.9" font-size="5.3" style="stroke-width:0">CB</text>
<rect x="496.25" y="588.6" width="2.9" height="5.4" fill="#c8c8c8"/>
<text stroke="#231f20" x="504.3" y="593.2" font-size="5.3" style="stroke-width:0">fiber tracts</text>
<rect x="496.25" y="595.9" width="2.9" height="5.4" fill="#9d9d9d"/>
<text stroke="#231f20" x="504.3" y="600.5" font-size="5.3" style="stroke-width:0">VS</text>
<text x="538.3" y="450.6" font-weight="bold" fill="#000" stroke="#000" font-size="13">l</text>
<rect x="575.7" y="469.86" width="8.5" height="112.64" fill="#73c06a"/>
<line x1="579.95" y1="475.93" x2="579.95" y2="463.79" stroke="#c4c4c4" stroke-width="0.5"/>
<circle cx="579.95" cy="453" r="1.3" fill="#b3b3b3"/>
<circle cx="579.95" cy="473.23" r="1.3" fill="#b3b3b3"/>
<circle cx="579.95" cy="477.28" r="1.3" fill="#b3b3b3"/>
<line x1="579.95" y1="582.5" x2="579.95" y2="584.1" stroke="#7d7d7d" stroke-width="0.5"/>
<text stroke="#231f20" x="582.45" y="586.9" text-anchor="end" transform="rotate(-90 582.45 586.9)">Isocortex</text>
<rect x="584.98" y="520.45" width="8.5" height="62.05" fill="#8fcdb8"/>
<line x1="589.23" y1="532.59" x2="589.23" y2="508.31" stroke="#c4c4c4" stroke-width="0.5"/>
<circle cx="589.23" cy="509.65" r="1.3" fill="#b3b3b3"/>
<circle cx="589.23" cy="512.35" r="1.3" fill="#b3b3b3"/>
<circle cx="589.23" cy="515.05" r="1.3" fill="#b3b3b3"/>
<circle cx="589.23" cy="546.08" r="1.3" fill="#b3b3b3"/>
<line x1="589.23" y1="582.5" x2="589.23" y2="584.1" stroke="#7d7d7d" stroke-width="0.5"/>
<text stroke="#231f20" x="591.73" y="586.9" text-anchor="end" transform="rotate(-90 591.73 586.9)">OLF</text>
<rect x="594.26" y="490.77" width="8.5" height="91.73" fill="#6fbe58"/>
<line x1="598.51" y1="500.89" x2="598.51" y2="480.65" stroke="#c4c4c4" stroke-width="0.5"/>
<circle cx="598.51" cy="466.49" r="1.3" fill="#b3b3b3"/>
<circle cx="598.51" cy="488.07" r="1.3" fill="#b3b3b3"/>
<circle cx="598.51" cy="489.42" r="1.3" fill="#b3b3b3"/>
<circle cx="598.51" cy="516.4" r="1.3" fill="#b3b3b3"/>
<line x1="598.51" y1="582.5" x2="598.51" y2="584.1" stroke="#7d7d7d" stroke-width="0.5"/>
<text stroke="#231f20" x="601.01" y="586.9" text-anchor="end" transform="rotate(-90 601.01 586.9)">HPF</text>
<rect x="603.54" y="508.31" width="8.5" height="74.2" fill="#7cc67e"/>
<line x1="607.79" y1="519.77" x2="607.79" y2="496.84" stroke="#c4c4c4" stroke-width="0.5"/>
<circle cx="607.79" cy="492.12" r="1.3" fill="#b3b3b3"/>
<circle cx="607.79" cy="493.47" r="1.3" fill="#b3b3b3"/>
<circle cx="607.79" cy="500.21" r="1.3" fill="#b3b3b3"/>
<circle cx="607.79" cy="546.08" r="1.3" fill="#b3b3b3"/>
<line x1="607.79" y1="582.5" x2="607.79" y2="584.1" stroke="#7d7d7d" stroke-width="0.5"/>
<text stroke="#231f20" x="610.29" y="586.9" text-anchor="end" transform="rotate(-90 610.29 586.9)">CTXsp</text>
<rect x="612.82" y="537.31" width="8.5" height="45.19" fill="#85c9ec"/>
<line x1="617.07" y1="541.36" x2="617.07" y2="533.26" stroke="#c4c4c4" stroke-width="0.5"/>
<circle cx="617.07" cy="529.89" r="1.3" fill="#b3b3b3"/>
<circle cx="617.07" cy="533.94" r="1.3" fill="#b3b3b3"/>
<circle cx="617.07" cy="550.12" r="1.3" fill="#b3b3b3"/>
<line x1="617.07" y1="582.5" x2="617.07" y2="584.1" stroke="#7d7d7d" stroke-width="0.5"/>
<text stroke="#231f20" x="619.57" y="586.9" text-anchor="end" transform="rotate(-90 619.57 586.9)">STR</text>
<rect x="622.1" y="540.01" width="8.5" height="42.49" fill="#7089c5"/>
<line x1="626.35" y1="543.38" x2="626.35" y2="536.63" stroke="#c4c4c4" stroke-width="0.5"/>
<circle cx="626.35" cy="532.59" r="1.3" fill="#b3b3b3"/>
<circle cx="626.35" cy="537.98" r="1.3" fill="#b3b3b3"/>
<circle cx="626.35" cy="546.08" r="1.3" fill="#b3b3b3"/>
<line x1="626.35" y1="582.5" x2="626.35" y2="584.1" stroke="#7d7d7d" stroke-width="0.5"/>
<text stroke="#231f20" x="628.85" y="586.9" text-anchor="end" transform="rotate(-90 628.85 586.9)">PAL</text>
<rect x="631.38" y="558.89" width="8.5" height="23.61" fill="#e8697c"/>
<line x1="635.63" y1="561.59" x2="635.63" y2="556.19" stroke="#c4c4c4" stroke-width="0.5"/>
<circle cx="635.63" cy="552.82" r="1.3" fill="#b3b3b3"/>
<circle cx="635.63" cy="556.87" r="1.3" fill="#b3b3b3"/>
<circle cx="635.63" cy="559.57" r="1.3" fill="#b3b3b3"/>
<circle cx="635.63" cy="564.96" r="1.3" fill="#b3b3b3"/>
<line x1="635.63" y1="582.5" x2="635.63" y2="584.1" stroke="#7d7d7d" stroke-width="0.5"/>
<text stroke="#231f20" x="638.13" y="586.9" text-anchor="end" transform="rotate(-90 638.13 586.9)">TH</text>
<rect x="640.66" y="545.4" width="8.5" height="37.1" fill="#d9433f"/>
<line x1="644.91" y1="549.45" x2="644.91" y2="541.36" stroke="#c4c4c4" stroke-width="0.5"/>
<circle cx="644.91" cy="533.94" r="1.3" fill="#b3b3b3"/>
<circle cx="644.91" cy="542.03" r="1.3" fill="#b3b3b3"/>
<circle cx="644.91" cy="544.73" r="1.3" fill="#b3b3b3"/>
<circle cx="644.91" cy="557.54" r="1.3" fill="#b3b3b3"/>
<line x1="644.91" y1="582.5" x2="644.91" y2="584.1" stroke="#7d7d7d" stroke-width="0.5"/>
<text stroke="#231f20" x="647.41" y="586.9" text-anchor="end" transform="rotate(-90 647.41 586.9)">HY</text>
<rect x="649.94" y="549.45" width="8.5" height="33.05" fill="#a361b6"/>
<line x1="654.19" y1="552.15" x2="654.19" y2="546.75" stroke="#c4c4c4" stroke-width="0.5"/>
<circle cx="654.19" cy="539.33" r="1.3" fill="#b3b3b3"/>
<circle cx="654.19" cy="547.43" r="1.3" fill="#b3b3b3"/>
<circle cx="654.19" cy="550.12" r="1.3" fill="#b3b3b3"/>
<circle cx="654.19" cy="557.54" r="1.3" fill="#b3b3b3"/>
<line x1="654.19" y1="582.5" x2="654.19" y2="584.1" stroke="#7d7d7d" stroke-width="0.5"/>
<text stroke="#231f20" x="656.69" y="586.9" text-anchor="end" transform="rotate(-90 656.69 586.9)">MB</text>
<rect x="659.22" y="530.56" width="8.5" height="51.94" fill="#ef9583"/>
<line x1="663.47" y1="538.66" x2="663.47" y2="522.47" stroke="#c4c4c4" stroke-width="0.5"/>
<circle cx="663.47" cy="513.7" r="1.3" fill="#b3b3b3"/>
<circle cx="663.47" cy="521.79" r="1.3" fill="#b3b3b3"/>
<circle cx="663.47" cy="527.19" r="1.3" fill="#b3b3b3"/>
<circle cx="663.47" cy="556.87" r="1.3" fill="#b3b3b3"/>
<line x1="663.47" y1="582.5" x2="663.47" y2="584.1" stroke="#7d7d7d" stroke-width="0.5"/>
<text stroke="#231f20" x="665.97" y="586.9" text-anchor="end" transform="rotate(-90 665.97 586.9)">P</text>
<rect x="668.5" y="523.14" width="8.5" height="59.36" fill="#e69bc9"/>
<line x1="672.75" y1="530.56" x2="672.75" y2="515.72" stroke="#c4c4c4" stroke-width="0.5"/>
<circle cx="672.75" cy="506.96" r="1.3" fill="#b3b3b3"/>
<circle cx="672.75" cy="520.45" r="1.3" fill="#b3b3b3"/>
<circle cx="672.75" cy="521.79" r="1.3" fill="#b3b3b3"/>
<circle cx="672.75" cy="542.03" r="1.3" fill="#b3b3b3"/>
<line x1="672.75" y1="582.5" x2="672.75" y2="584.1" stroke="#7d7d7d" stroke-width="0.5"/>
<text stroke="#231f20" x="675.25" y="586.9" text-anchor="end" transform="rotate(-90 675.25 586.9)">MY</text>
<line x1="574.5" y1="447.6" x2="574.5" y2="582.5" stroke="#7d7d7d" stroke-width="0.6"/>
<line x1="574.5" y1="582.5" x2="677.4" y2="582.5" stroke="#7d7d7d" stroke-width="0.6"/>
<line x1="572.9" y1="582.5" x2="574.5" y2="582.5" stroke="#7d7d7d" stroke-width="0.5"/>
<text x="570.9" y="585" text-anchor="end" fill="#555555" stroke="#555555">0.0</text>
<line x1="572.9" y1="555.52" x2="574.5" y2="555.52" stroke="#7d7d7d" stroke-width="0.5"/>
<text x="570.9" y="558.02" text-anchor="end" fill="#555555" stroke="#555555">0.2</text>
<line x1="572.9" y1="528.54" x2="574.5" y2="528.54" stroke="#7d7d7d" stroke-width="0.5"/>
<text x="570.9" y="531.04" text-anchor="end" fill="#555555" stroke="#555555">0.4</text>
<line x1="572.9" y1="501.56" x2="574.5" y2="501.56" stroke="#7d7d7d" stroke-width="0.5"/>
<text x="570.9" y="504.06" text-anchor="end" fill="#555555" stroke="#555555">0.6</text>
<line x1="572.9" y1="474.58" x2="574.5" y2="474.58" stroke="#7d7d7d" stroke-width="0.5"/>
<text x="570.9" y="477.08" text-anchor="end" fill="#555555" stroke="#555555">0.8</text>
<line x1="572.9" y1="447.6" x2="574.5" y2="447.6" stroke="#7d7d7d" stroke-width="0.5"/>
<text x="570.9" y="450.1" text-anchor="end" fill="#555555" stroke="#555555">1.0</text>
<text stroke="#231f20" x="553.6" y="515.4" text-anchor="middle" transform="rotate(-90 553.6 515.4)">Positive predictive value (PPV)</text>
<text x="-0.9" y="653.6" font-weight="bold" fill="#000" stroke="#000" font-size="13">m</text>
<text x="27.4" y="653.6" fill="#3a3a3a" stroke="#3a3a3a">E11-EGFP</text>
<text x="27.4" y="673.8" fill="#e3178c" stroke="#e3178c">E11-hM3Dq</text>
<text x="27.4" y="693.7" fill="#127a4e" stroke="#127a4e">E11-hM4Di</text>
<g transform="translate(0 0)">
<path d="M66.5,657.5 Q67.5,653 72,652.3 Q77,651.8 80.5,652 L81.8,650.8 L83,651.8 Q86.5,652.5 88.8,654.5 L89,655.6 Q87.5,656.3 85.5,656.6 L83.4,659.5 L83.5,661 L85.5,661.3 L85.2,661.8 L82.2,661.6 L81.5,659.8 Q78,660.5 74,660.5 Q70,661.2 68,660.8 Q66.2,659.8 66.5,657.5 Z" fill="#3a3837"/>
<path d="M67,658 Q62.5,659 62,661.5 Q62.5,664.5 66.5,664.3 Q72,663.6 77.5,663" fill="none" stroke="#3a3837" stroke-width="1"/>
</g>
<g transform="translate(0 20.2)">
<path d="M66.5,657.5 Q67.5,653 72,652.3 Q77,651.8 80.5,652 L81.8,650.8 L83,651.8 Q86.5,652.5 88.8,654.5 L89,655.6 Q87.5,656.3 85.5,656.6 L83.4,659.5 L83.5,661 L85.5,661.3 L85.2,661.8 L82.2,661.6 L81.5,659.8 Q78,660.5 74,660.5 Q70,661.2 68,660.8 Q66.2,659.8 66.5,657.5 Z" fill="#e3178c"/>
<path d="M67,658 Q62.5,659 62,661.5 Q62.5,664.5 66.5,664.3 Q72,663.6 77.5,663" fill="none" stroke="#e3178c" stroke-width="1"/>
</g>
<g transform="translate(0 40.3)">
<path d="M66.5,657.5 Q67.5,653 72,652.3 Q77,651.8 80.5,652 L81.8,650.8 L83,651.8 Q86.5,652.5 88.8,654.5 L89,655.6 Q87.5,656.3 85.5,656.6 L83.4,659.5 L83.5,661 L85.5,661.3 L85.2,661.8 L82.2,661.6 L81.5,659.8 Q78,660.5 74,660.5 Q70,661.2 68,660.8 Q66.2,659.8 66.5,657.5 Z" fill="#127a4e"/>
<path d="M67,658 Q62.5,659 62,661.5 Q62.5,664.5 66.5,664.3 Q72,663.6 77.5,663" fill="none" stroke="#127a4e" stroke-width="1"/>
</g>
<rect x="32.4" y="714.6" width="52.2" height="46.5" fill="#fff" stroke="#8a8a8a" stroke-width="0.5"/>
<circle cx="43" cy="719.5" r="1.9" fill="#fff" stroke="#4a8fc9" stroke-width="0.95"/>
<text stroke="#231f20" x="51.5" y="722">0 mg/kg</text>
<circle cx="43" cy="731.5" r="1.9" fill="#fff" stroke="#f4a84e" stroke-width="0.95"/>
<text stroke="#231f20" x="51.5" y="734">1 mg/kg</text>
<circle cx="43" cy="743.2" r="1.9" fill="#fff" stroke="#e9503a" stroke-width="0.95"/>
<text stroke="#231f20" x="51.5" y="745.7">3 mg/kg</text>
<circle cx="43" cy="754.4" r="1.9" fill="#fff" stroke="#a61f30" stroke-width="0.95"/>
<text stroke="#231f20" x="51.5" y="756.9">5 mg/kg</text>
<text stroke="#231f20" x="54.8" y="770.3" text-anchor="middle">CNO i.p.</text>
<line x1="58" y1="771.3" x2="58" y2="780.4" stroke="#231f20" stroke-width="0.7" marker-end="url(#arr)"/>
<rect x="32.4" y="780.8" width="25.6" height="3.5" fill="#e7a04e"/>
<rect x="58" y="780.8" width="26.1" height="3.5" fill="#000"/>
<text stroke="#231f20" x="32.4" y="791.7" text-anchor="middle">0</text>
<text stroke="#231f20" x="58" y="791.7" text-anchor="middle">12</text>
<text stroke="#231f20" x="84" y="791.7" text-anchor="middle">24</text>
<text stroke="#231f20" x="58.5" y="800.5" text-anchor="middle">Zeitgeber time (hr)</text>
<text x="117.4" y="653.6" font-weight="bold" fill="#000" stroke="#000" font-size="13">n</text>
<text stroke="#231f20" x="171.5" y="655.2" text-anchor="middle" font-weight="bold" font-size="10.4">EGFP</text>
<text x="223.1" y="655.2" text-anchor="middle" font-weight="bold" fill="#e3178c" stroke="#e3178c" font-size="10.4">hM3Dq</text>
<text x="272" y="655.2" text-anchor="middle" font-weight="bold" fill="#127a4e" stroke="#127a4e" font-size="10.4">hM4Di</text>
<text stroke="#231f20" x="123.9" y="678.8">Adj. <tspan font-style="italic">P</tspan> =</text>
<line x1="149.7" y1="790.5" x2="190.4" y2="790.5" stroke="#7d7d7d" stroke-width="0.7"/>
<line x1="155.8" y1="790.3" x2="155.8" y2="791.9" stroke="#7d7d7d" stroke-width="0.5"/>
<text stroke="#231f20" x="155.8" y="800.8" text-anchor="middle">0</text>
<line x1="164.9" y1="790.3" x2="164.9" y2="791.9" stroke="#7d7d7d" stroke-width="0.5"/>
<text stroke="#231f20" x="164.9" y="800.8" text-anchor="middle">1</text>
<line x1="174.6" y1="790.3" x2="174.6" y2="791.9" stroke="#7d7d7d" stroke-width="0.5"/>
<text stroke="#231f20" x="174.6" y="800.8" text-anchor="middle">3</text>
<line x1="184.3" y1="790.3" x2="184.3" y2="791.9" stroke="#7d7d7d" stroke-width="0.5"/>
<text stroke="#231f20" x="184.3" y="800.8" text-anchor="middle">5</text>
<path d="M155.80,729.63 L164.90,741.19 L174.60,746.97 L184.30,735.41" fill="none" stroke="#a9a9a9" stroke-width="0.55" stroke-dasharray="1.6,1"/>
<path d="M155.80,738.30 L164.90,742.92 L174.60,748.70 L184.30,738.30" fill="none" stroke="#a9a9a9" stroke-width="0.55" stroke-dasharray="1.6,1"/>
<path d="M155.80,744.08 L164.90,745.23 L174.60,749.86 L184.30,744.08" fill="none" stroke="#a9a9a9" stroke-width="0.55" stroke-dasharray="1.6,1"/>
<path d="M155.80,748.70 L164.90,755.63 L174.60,755.63 L184.30,749.86" fill="none" stroke="#a9a9a9" stroke-width="0.55" stroke-dasharray="1.6,1"/>
<path d="M155.80,762.57 L164.90,758.52 L174.60,761.41 L184.30,755.63" fill="none" stroke="#a9a9a9" stroke-width="0.55" stroke-dasharray="1.6,1"/>
<path d="M155.80,764.30 L164.90,761.41 L174.60,781.63 L184.30,764.30" fill="none" stroke="#a9a9a9" stroke-width="0.55" stroke-dasharray="1.6,1"/>
<path d="M155.80,771.23 L164.90,777.59 L174.60,785.68 L184.30,774.12" fill="none" stroke="#a9a9a9" stroke-width="0.55" stroke-dasharray="1.6,1"/>
<circle cx="155.8" cy="729.63" r="1.45" fill="#b8b8b8"/>
<circle cx="155.8" cy="738.3" r="1.45" fill="#b8b8b8"/>
<circle cx="155.8" cy="744.08" r="1.45" fill="#b8b8b8"/>
<circle cx="155.8" cy="748.7" r="1.45" fill="#b8b8b8"/>
<circle cx="155.8" cy="762.57" r="1.45" fill="#b8b8b8"/>
<circle cx="155.8" cy="764.3" r="1.45" fill="#b8b8b8"/>
<circle cx="155.8" cy="771.23" r="1.45" fill="#b8b8b8"/>
<circle cx="164.9" cy="741.19" r="1.45" fill="#b8b8b8"/>
<circle cx="164.9" cy="742.92" r="1.45" fill="#b8b8b8"/>
<circle cx="164.9" cy="745.23" r="1.45" fill="#b8b8b8"/>
<circle cx="164.9" cy="755.63" r="1.45" fill="#b8b8b8"/>
<circle cx="164.9" cy="758.52" r="1.45" fill="#b8b8b8"/>
<circle cx="164.9" cy="761.41" r="1.45" fill="#b8b8b8"/>
<circle cx="164.9" cy="777.59" r="1.45" fill="#b8b8b8"/>
<circle cx="174.6" cy="746.97" r="1.45" fill="#b8b8b8"/>
<circle cx="174.6" cy="748.7" r="1.45" fill="#b8b8b8"/>
<circle cx="174.6" cy="749.86" r="1.45" fill="#b8b8b8"/>
<circle cx="174.6" cy="755.63" r="1.45" fill="#b8b8b8"/>
<circle cx="174.6" cy="761.41" r="1.45" fill="#b8b8b8"/>
<circle cx="174.6" cy="781.63" r="1.45" fill="#b8b8b8"/>
<circle cx="174.6" cy="785.68" r="1.45" fill="#b8b8b8"/>
<circle cx="184.3" cy="735.41" r="1.45" fill="#b8b8b8"/>
<circle cx="184.3" cy="738.3" r="1.45" fill="#b8b8b8"/>
<circle cx="184.3" cy="744.08" r="1.45" fill="#b8b8b8"/>
<circle cx="184.3" cy="749.86" r="1.45" fill="#b8b8b8"/>
<circle cx="184.3" cy="755.63" r="1.45" fill="#b8b8b8"/>
<circle cx="184.3" cy="764.3" r="1.45" fill="#b8b8b8"/>
<circle cx="184.3" cy="774.12" r="1.45" fill="#b8b8b8"/>
<line x1="155.8" y1="753.9" x2="155.8" y2="743.5" stroke="#4a8fc9" stroke-width="0.8" opacity="0.65"/>
<circle cx="155.8" cy="748.7" r="2.5" fill="#4a8fc9"/>
<line x1="164.9" y1="759.1" x2="164.9" y2="752.17" stroke="#f4a84e" stroke-width="0.8" opacity="0.65"/>
<circle cx="164.9" cy="755.63" r="2.5" fill="#f4a84e"/>
<line x1="174.6" y1="764.88" x2="174.6" y2="754.48" stroke="#e9503a" stroke-width="0.8" opacity="0.65"/>
<circle cx="174.6" cy="759.68" r="2.5" fill="#e9503a"/>
<line x1="184.3" y1="756.79" x2="184.3" y2="746.39" stroke="#a61f30" stroke-width="0.8" opacity="0.65"/>
<circle cx="184.3" cy="751.59" r="2.5" fill="#a61f30"/>
<text stroke="#231f20" x="168" y="682.6" transform="rotate(-90 168 682.6)">1.0</text>
<text stroke="#231f20" x="177.7" y="682.6" transform="rotate(-90 177.7 682.6)">0.59</text>
<text stroke="#231f20" x="187.4" y="682.6" transform="rotate(-90 187.4 682.6)">1.0</text>
<line x1="200" y1="790.5" x2="239" y2="790.5" stroke="#7d7d7d" stroke-width="0.7"/>
<line x1="205.7" y1="790.3" x2="205.7" y2="791.9" stroke="#7d7d7d" stroke-width="0.5"/>
<text stroke="#231f20" x="205.7" y="800.8" text-anchor="middle">0</text>
<line x1="215.4" y1="790.3" x2="215.4" y2="791.9" stroke="#7d7d7d" stroke-width="0.5"/>
<text stroke="#231f20" x="215.4" y="800.8" text-anchor="middle">1</text>
<line x1="225.1" y1="790.3" x2="225.1" y2="791.9" stroke="#7d7d7d" stroke-width="0.5"/>
<text stroke="#231f20" x="225.1" y="800.8" text-anchor="middle">3</text>
<line x1="234.8" y1="790.3" x2="234.8" y2="791.9" stroke="#7d7d7d" stroke-width="0.5"/>
<text stroke="#231f20" x="234.8" y="800.8" text-anchor="middle">5</text>
<path d="M205.70,748.70 L215.40,713.46 L225.10,686.30 L234.80,686.30" fill="none" stroke="#a9a9a9" stroke-width="0.55" stroke-dasharray="1.6,1"/>
<path d="M205.70,754.48 L215.40,727.90 L225.10,687.46 L234.80,687.46" fill="none" stroke="#a9a9a9" stroke-width="0.55" stroke-dasharray="1.6,1"/>
<path d="M205.70,758.52 L215.40,749.86 L225.10,689.19 L234.80,689.19" fill="none" stroke="#a9a9a9" stroke-width="0.55" stroke-dasharray="1.6,1"/>
<path d="M205.70,762.57 L215.40,752.74 L225.10,694.97 L234.80,694.97" fill="none" stroke="#a9a9a9" stroke-width="0.55" stroke-dasharray="1.6,1"/>
<path d="M205.70,764.30 L215.40,761.41 L225.10,706.52 L234.80,706.52" fill="none" stroke="#a9a9a9" stroke-width="0.55" stroke-dasharray="1.6,1"/>
<path d="M205.70,772.97 L215.40,771.23 L225.10,725.59 L234.80,737.14" fill="none" stroke="#a9a9a9" stroke-width="0.55" stroke-dasharray="1.6,1"/>
<circle cx="205.7" cy="748.7" r="1.45" fill="#b8b8b8"/>
<circle cx="205.7" cy="754.48" r="1.45" fill="#b8b8b8"/>
<circle cx="205.7" cy="758.52" r="1.45" fill="#b8b8b8"/>
<circle cx="205.7" cy="762.57" r="1.45" fill="#b8b8b8"/>
<circle cx="205.7" cy="764.3" r="1.45" fill="#b8b8b8"/>
<circle cx="205.7" cy="772.97" r="1.45" fill="#b8b8b8"/>
<circle cx="215.4" cy="713.46" r="1.45" fill="#b8b8b8"/>
<circle cx="215.4" cy="727.9" r="1.45" fill="#b8b8b8"/>
<circle cx="215.4" cy="749.86" r="1.45" fill="#b8b8b8"/>
<circle cx="215.4" cy="752.74" r="1.45" fill="#b8b8b8"/>
<circle cx="215.4" cy="761.41" r="1.45" fill="#b8b8b8"/>
<circle cx="215.4" cy="771.23" r="1.45" fill="#b8b8b8"/>
<circle cx="225.1" cy="686.3" r="1.45" fill="#b8b8b8"/>
<circle cx="225.1" cy="687.46" r="1.45" fill="#b8b8b8"/>
<circle cx="225.1" cy="689.19" r="1.45" fill="#b8b8b8"/>
<circle cx="225.1" cy="694.97" r="1.45" fill="#b8b8b8"/>
<circle cx="225.1" cy="706.52" r="1.45" fill="#b8b8b8"/>
<circle cx="225.1" cy="725.59" r="1.45" fill="#b8b8b8"/>
<circle cx="234.8" cy="686.3" r="1.45" fill="#b8b8b8"/>
<circle cx="234.8" cy="687.46" r="1.45" fill="#b8b8b8"/>
<circle cx="234.8" cy="689.19" r="1.45" fill="#b8b8b8"/>
<circle cx="234.8" cy="694.97" r="1.45" fill="#b8b8b8"/>
<circle cx="234.8" cy="706.52" r="1.45" fill="#b8b8b8"/>
<circle cx="234.8" cy="737.14" r="1.45" fill="#b8b8b8"/>
<line x1="205.7" y1="762.57" x2="205.7" y2="755.63" stroke="#4a8fc9" stroke-width="0.8" opacity="0.65"/>
<circle cx="205.7" cy="759.1" r="2.5" fill="#4a8fc9"/>
<line x1="215.4" y1="752.74" x2="215.4" y2="729.63" stroke="#f4a84e" stroke-width="0.8" opacity="0.65"/>
<circle cx="215.4" cy="741.19" r="2.5" fill="#f4a84e"/>
<line x1="225.1" y1="700.74" x2="225.1" y2="692.66" stroke="#e9503a" stroke-width="0.8" opacity="0.65"/>
<circle cx="225.1" cy="696.7" r="2.5" fill="#e9503a"/>
<line x1="234.8" y1="702.48" x2="234.8" y2="690.92" stroke="#a61f30" stroke-width="0.8" opacity="0.65"/>
<circle cx="234.8" cy="696.7" r="2.5" fill="#a61f30"/>
<text stroke="#231f20" x="214.8" y="682.4" transform="rotate(-46 214.8 682.4)">0.39</text>
<text stroke="#231f20" x="224.5" y="682.4" transform="rotate(-46 224.5 682.4)">9.3 × 10<tspan dy="-2.6" font-size="4.6" style="stroke-width:0.06px">−7</tspan></text>
<text stroke="#231f20" x="234.2" y="682.4" transform="rotate(-46 234.2 682.4)">2.1 × 10<tspan dy="-2.6" font-size="4.6" style="stroke-width:0.06px">−8</tspan></text>
<line x1="250" y1="790.5" x2="289.8" y2="790.5" stroke="#7d7d7d" stroke-width="0.7"/>
<line x1="255.6" y1="790.3" x2="255.6" y2="791.9" stroke="#7d7d7d" stroke-width="0.5"/>
<text stroke="#231f20" x="255.6" y="800.8" text-anchor="middle">0</text>
<line x1="265.3" y1="790.3" x2="265.3" y2="791.9" stroke="#7d7d7d" stroke-width="0.5"/>
<text stroke="#231f20" x="265.3" y="800.8" text-anchor="middle">1</text>
<line x1="275" y1="790.3" x2="275" y2="791.9" stroke="#7d7d7d" stroke-width="0.5"/>
<text stroke="#231f20" x="275" y="800.8" text-anchor="middle">3</text>
<line x1="284.7" y1="790.3" x2="284.7" y2="791.9" stroke="#7d7d7d" stroke-width="0.5"/>
<text stroke="#231f20" x="284.7" y="800.8" text-anchor="middle">5</text>
<path d="M255.60,739.46 L265.30,748.70 L275.00,729.63 L284.70,766.03" fill="none" stroke="#a9a9a9" stroke-width="0.55" stroke-dasharray="1.6,1"/>
<path d="M255.60,744.08 L265.30,770.08 L275.00,745.23 L284.70,770.08" fill="none" stroke="#a9a9a9" stroke-width="0.55" stroke-dasharray="1.6,1"/>
<path d="M255.60,749.86 L265.30,775.86 L275.00,772.97 L284.70,784.52" fill="none" stroke="#a9a9a9" stroke-width="0.55" stroke-dasharray="1.6,1"/>
<path d="M255.60,752.74 L265.30,778.74 L275.00,787.41 L284.70,787.41" fill="none" stroke="#a9a9a9" stroke-width="0.55" stroke-dasharray="1.6,1"/>
<path d="M255.60,760.26 L265.30,784.52 L275.00,789.14 L284.70,790.30" fill="none" stroke="#a9a9a9" stroke-width="0.55" stroke-dasharray="1.6,1"/>
<path d="M255.60,767.19 L265.30,787.41 L275.00,790.30 L284.70,790.30" fill="none" stroke="#a9a9a9" stroke-width="0.55" stroke-dasharray="1.6,1"/>
<path d="M255.60,772.97 L265.30,790.30" fill="none" stroke="#a9a9a9" stroke-width="0.55" stroke-dasharray="1.6,1"/>
<circle cx="255.6" cy="739.46" r="1.45" fill="#b8b8b8"/>
<circle cx="255.6" cy="744.08" r="1.45" fill="#b8b8b8"/>
<circle cx="255.6" cy="749.86" r="1.45" fill="#b8b8b8"/>
<circle cx="255.6" cy="752.74" r="1.45" fill="#b8b8b8"/>
<circle cx="255.6" cy="760.26" r="1.45" fill="#b8b8b8"/>
<circle cx="255.6" cy="767.19" r="1.45" fill="#b8b8b8"/>
<circle cx="255.6" cy="772.97" r="1.45" fill="#b8b8b8"/>
<circle cx="265.3" cy="748.7" r="1.45" fill="#b8b8b8"/>
<circle cx="265.3" cy="770.08" r="1.45" fill="#b8b8b8"/>
<circle cx="265.3" cy="775.86" r="1.45" fill="#b8b8b8"/>
<circle cx="265.3" cy="778.74" r="1.45" fill="#b8b8b8"/>
<circle cx="265.3" cy="784.52" r="1.45" fill="#b8b8b8"/>
<circle cx="265.3" cy="787.41" r="1.45" fill="#b8b8b8"/>
<circle cx="265.3" cy="790.3" r="1.45" fill="#b8b8b8"/>
<circle cx="275" cy="729.63" r="1.45" fill="#b8b8b8"/>
<circle cx="275" cy="745.23" r="1.45" fill="#b8b8b8"/>
<circle cx="275" cy="772.97" r="1.45" fill="#b8b8b8"/>
<circle cx="275" cy="787.41" r="1.45" fill="#b8b8b8"/>
<circle cx="275" cy="789.14" r="1.45" fill="#b8b8b8"/>
<circle cx="275" cy="790.3" r="1.45" fill="#b8b8b8"/>
<circle cx="284.7" cy="766.03" r="1.45" fill="#b8b8b8"/>
<circle cx="284.7" cy="770.08" r="1.45" fill="#b8b8b8"/>
<circle cx="284.7" cy="784.52" r="1.45" fill="#b8b8b8"/>
<circle cx="284.7" cy="787.41" r="1.45" fill="#b8b8b8"/>
<circle cx="284.7" cy="790.3" r="1.45" fill="#b8b8b8"/>
<circle cx="284.7" cy="790.3" r="1.45" fill="#b8b8b8"/>
<line x1="255.6" y1="756.21" x2="255.6" y2="748.12" stroke="#4a8fc9" stroke-width="0.8" opacity="0.65"/>
<circle cx="255.6" cy="752.17" r="2.5" fill="#4a8fc9"/>
<line x1="265.3" y1="779.9" x2="265.3" y2="770.66" stroke="#f4a84e" stroke-width="0.8" opacity="0.65"/>
<circle cx="265.3" cy="775.28" r="2.5" fill="#f4a84e"/>
<line x1="275" y1="784.52" x2="275" y2="768.34" stroke="#e9503a" stroke-width="0.8" opacity="0.65"/>
<circle cx="275" cy="776.43" r="2.5" fill="#e9503a"/>
<line x1="284.7" y1="786.83" x2="284.7" y2="781.06" stroke="#a61f30" stroke-width="0.8" opacity="0.65"/>
<circle cx="284.7" cy="783.94" r="2.5" fill="#a61f30"/>
<text stroke="#231f20" x="264.7" y="682.4" transform="rotate(-46 264.7 682.4)">3.3 × 10<tspan dy="-2.6" font-size="4.6" style="stroke-width:0.06px">−3</tspan></text>
<text stroke="#231f20" x="274.4" y="682.4" transform="rotate(-46 274.4 682.4)">0.077</text>
<text stroke="#231f20" x="284.1" y="682.4" transform="rotate(-46 284.1 682.4)">8.1 × 10<tspan dy="-2.6" font-size="4.6" style="stroke-width:0.06px">−4</tspan></text>
<line x1="149.5" y1="686.3" x2="149.5" y2="790.3" stroke="#7d7d7d" stroke-width="0.7"/>
<line x1="148.1" y1="790.3" x2="149.7" y2="790.3" stroke="#7d7d7d" stroke-width="0.5"/>
<text x="144.4" y="793.1" text-anchor="end" fill="#555555" stroke="#555555">0</text>
<line x1="148.1" y1="755.63" x2="149.7" y2="755.63" stroke="#7d7d7d" stroke-width="0.5"/>
<text x="144.4" y="758.43" text-anchor="end" fill="#555555" stroke="#555555">60</text>
<line x1="148.1" y1="720.97" x2="149.7" y2="720.97" stroke="#7d7d7d" stroke-width="0.5"/>
<text x="144.4" y="723.77" text-anchor="end" fill="#555555" stroke="#555555">120</text>
<line x1="148.1" y1="686.3" x2="149.7" y2="686.3" stroke="#7d7d7d" stroke-width="0.5"/>
<text x="144.4" y="689.1" text-anchor="end" fill="#555555" stroke="#555555">180</text>
<text stroke="#231f20" x="219.75" y="810" text-anchor="middle">CNO (mg/kg)</text>
<text stroke="#231f20" x="126.4" y="738.6" text-anchor="middle" transform="rotate(-90 126.4 738.6)">Sleep duration (min)</text>
<text x="312" y="653.4" font-weight="bold" fill="#000" stroke="#000" font-size="13">o</text>
<text stroke="#231f20" x="363.7" y="655.2" text-anchor="middle" font-weight="bold" font-size="10.4">EGFP</text>
<text x="415.2" y="655.2" text-anchor="middle" font-weight="bold" fill="#e3178c" stroke="#e3178c" font-size="10.4">hM3Dq</text>
<text x="464.8" y="655.2" text-anchor="middle" font-weight="bold" fill="#127a4e" stroke="#127a4e" font-size="10.4">hM4Di</text>
<text stroke="#231f20" x="317.7" y="678.8">Adj. <tspan font-style="italic">P</tspan> =</text>
<line x1="342" y1="790.5" x2="382.8" y2="790.5" stroke="#7d7d7d" stroke-width="0.7"/>
<line x1="349" y1="790" x2="349" y2="791.6" stroke="#7d7d7d" stroke-width="0.5"/>
<text stroke="#231f20" x="349" y="800.8" text-anchor="middle">0</text>
<line x1="358.6" y1="790" x2="358.6" y2="791.6" stroke="#7d7d7d" stroke-width="0.5"/>
<text stroke="#231f20" x="358.6" y="800.8" text-anchor="middle">1</text>
<line x1="368.2" y1="790" x2="368.2" y2="791.6" stroke="#7d7d7d" stroke-width="0.5"/>
<text stroke="#231f20" x="368.2" y="800.8" text-anchor="middle">3</text>
<line x1="378.2" y1="790" x2="378.2" y2="791.6" stroke="#7d7d7d" stroke-width="0.5"/>
<text stroke="#231f20" x="378.2" y="800.8" text-anchor="middle">5</text>
<path d="M349.00,783.78 L358.60,785.86 L368.20,784.82 L378.20,784.82" fill="none" stroke="#a9a9a9" stroke-width="0.55" stroke-dasharray="1.6,1"/>
<path d="M349.00,784.82 L358.60,786.89 L368.20,786.89 L378.20,785.86" fill="none" stroke="#a9a9a9" stroke-width="0.55" stroke-dasharray="1.6,1"/>
<path d="M349.00,785.86 L358.60,787.93 L368.20,787.93 L378.20,786.89" fill="none" stroke="#a9a9a9" stroke-width="0.55" stroke-dasharray="1.6,1"/>
<path d="M349.00,786.89 L358.60,787.93 L368.20,787.93 L378.20,787.93" fill="none" stroke="#a9a9a9" stroke-width="0.55" stroke-dasharray="1.6,1"/>
<path d="M349.00,787.93 L358.60,788.96 L368.20,788.96 L378.20,788.96" fill="none" stroke="#a9a9a9" stroke-width="0.55" stroke-dasharray="1.6,1"/>
<circle cx="349" cy="783.78" r="1.45" fill="#b8b8b8"/>
<circle cx="349" cy="784.82" r="1.45" fill="#b8b8b8"/>
<circle cx="349" cy="785.86" r="1.45" fill="#b8b8b8"/>
<circle cx="349" cy="786.89" r="1.45" fill="#b8b8b8"/>
<circle cx="349" cy="787.93" r="1.45" fill="#b8b8b8"/>
<circle cx="358.6" cy="785.86" r="1.45" fill="#b8b8b8"/>
<circle cx="358.6" cy="786.89" r="1.45" fill="#b8b8b8"/>
<circle cx="358.6" cy="787.93" r="1.45" fill="#b8b8b8"/>
<circle cx="358.6" cy="787.93" r="1.45" fill="#b8b8b8"/>
<circle cx="358.6" cy="788.96" r="1.45" fill="#b8b8b8"/>
<circle cx="368.2" cy="784.82" r="1.45" fill="#b8b8b8"/>
<circle cx="368.2" cy="786.89" r="1.45" fill="#b8b8b8"/>
<circle cx="368.2" cy="787.93" r="1.45" fill="#b8b8b8"/>
<circle cx="368.2" cy="787.93" r="1.45" fill="#b8b8b8"/>
<circle cx="368.2" cy="788.96" r="1.45" fill="#b8b8b8"/>
<circle cx="378.2" cy="784.82" r="1.45" fill="#b8b8b8"/>
<circle cx="378.2" cy="785.86" r="1.45" fill="#b8b8b8"/>
<circle cx="378.2" cy="786.89" r="1.45" fill="#b8b8b8"/>
<circle cx="378.2" cy="787.93" r="1.45" fill="#b8b8b8"/>
<circle cx="378.2" cy="788.96" r="1.45" fill="#b8b8b8"/>
<line x1="349" y1="787.41" x2="349" y2="785.34" stroke="#4a8fc9" stroke-width="0.8" opacity="0.65"/>
<circle cx="349" cy="786.37" r="2.5" fill="#4a8fc9"/>
<line x1="358.6" y1="787.93" x2="358.6" y2="786.89" stroke="#f4a84e" stroke-width="0.8" opacity="0.65"/>
<circle cx="358.6" cy="787.41" r="2.5" fill="#f4a84e"/>
<line x1="368.2" y1="788.03" x2="368.2" y2="786.79" stroke="#e9503a" stroke-width="0.8" opacity="0.65"/>
<circle cx="368.2" cy="787.41" r="2.5" fill="#e9503a"/>
<line x1="378.2" y1="787.51" x2="378.2" y2="786.27" stroke="#a61f30" stroke-width="0.8" opacity="0.65"/>
<circle cx="378.2" cy="786.89" r="2.5" fill="#a61f30"/>
<text stroke="#231f20" x="361.7" y="682.6" transform="rotate(-90 361.7 682.6)">0.30</text>
<text stroke="#231f20" x="371.3" y="682.6" transform="rotate(-90 371.3 682.6)">0.30</text>
<text stroke="#231f20" x="381.3" y="682.6" transform="rotate(-90 381.3 682.6)">0.53</text>
<line x1="393.6" y1="790.5" x2="433.6" y2="790.5" stroke="#7d7d7d" stroke-width="0.7"/>
<line x1="399.5" y1="790" x2="399.5" y2="791.6" stroke="#7d7d7d" stroke-width="0.5"/>
<text stroke="#231f20" x="399.5" y="800.8" text-anchor="middle">0</text>
<line x1="409.1" y1="790" x2="409.1" y2="791.6" stroke="#7d7d7d" stroke-width="0.5"/>
<text stroke="#231f20" x="409.1" y="800.8" text-anchor="middle">1</text>
<line x1="418.8" y1="790" x2="418.8" y2="791.6" stroke="#7d7d7d" stroke-width="0.5"/>
<text stroke="#231f20" x="418.8" y="800.8" text-anchor="middle">3</text>
<line x1="428.7" y1="790" x2="428.7" y2="791.6" stroke="#7d7d7d" stroke-width="0.5"/>
<text stroke="#231f20" x="428.7" y="800.8" text-anchor="middle">5</text>
<path d="M399.50,782.75 L409.10,686.40 L418.80,738.20 L428.70,686.40" fill="none" stroke="#a9a9a9" stroke-width="0.55" stroke-dasharray="1.6,1"/>
<path d="M399.50,784.82 L409.10,777.57 L418.80,769.28 L428.70,758.92" fill="none" stroke="#a9a9a9" stroke-width="0.55" stroke-dasharray="1.6,1"/>
<path d="M399.50,786.89 L409.10,779.64 L418.80,774.46 L428.70,760.99" fill="none" stroke="#a9a9a9" stroke-width="0.55" stroke-dasharray="1.6,1"/>
<path d="M399.50,788.96 L409.10,784.82 L418.80,777.57 L428.70,769.28" fill="none" stroke="#a9a9a9" stroke-width="0.55" stroke-dasharray="1.6,1"/>
<path d="M399.50,790.00 L409.10,787.93 L418.80,782.75 L428.70,771.35" fill="none" stroke="#a9a9a9" stroke-width="0.55" stroke-dasharray="1.6,1"/>
<circle cx="399.5" cy="782.75" r="1.45" fill="#b8b8b8"/>
<circle cx="399.5" cy="784.82" r="1.45" fill="#b8b8b8"/>
<circle cx="399.5" cy="786.89" r="1.45" fill="#b8b8b8"/>
<circle cx="399.5" cy="788.96" r="1.45" fill="#b8b8b8"/>
<circle cx="399.5" cy="790" r="1.45" fill="#b8b8b8"/>
<circle cx="409.1" cy="686.4" r="1.45" fill="#b8b8b8"/>
<circle cx="409.1" cy="777.57" r="1.45" fill="#b8b8b8"/>
<circle cx="409.1" cy="779.64" r="1.45" fill="#b8b8b8"/>
<circle cx="409.1" cy="784.82" r="1.45" fill="#b8b8b8"/>
<circle cx="409.1" cy="787.93" r="1.45" fill="#b8b8b8"/>
<circle cx="418.8" cy="738.2" r="1.45" fill="#b8b8b8"/>
<circle cx="418.8" cy="769.28" r="1.45" fill="#b8b8b8"/>
<circle cx="418.8" cy="774.46" r="1.45" fill="#b8b8b8"/>
<circle cx="418.8" cy="777.57" r="1.45" fill="#b8b8b8"/>
<circle cx="418.8" cy="782.75" r="1.45" fill="#b8b8b8"/>
<circle cx="428.7" cy="686.4" r="1.45" fill="#b8b8b8"/>
<circle cx="428.7" cy="758.92" r="1.45" fill="#b8b8b8"/>
<circle cx="428.7" cy="760.99" r="1.45" fill="#b8b8b8"/>
<circle cx="428.7" cy="769.28" r="1.45" fill="#b8b8b8"/>
<circle cx="428.7" cy="771.35" r="1.45" fill="#b8b8b8"/>
<line x1="399.5" y1="787.93" x2="399.5" y2="785.86" stroke="#4a8fc9" stroke-width="0.8" opacity="0.65"/>
<circle cx="399.5" cy="786.89" r="2.5" fill="#4a8fc9"/>
<line x1="409.1" y1="782.23" x2="409.1" y2="759.44" stroke="#f4a84e" stroke-width="0.8" opacity="0.65"/>
<circle cx="409.1" cy="770.83" r="2.5" fill="#f4a84e"/>
<line x1="418.8" y1="776.01" x2="418.8" y2="767.73" stroke="#e9503a" stroke-width="0.8" opacity="0.65"/>
<circle cx="418.8" cy="771.87" r="2.5" fill="#e9503a"/>
<line x1="428.7" y1="759.96" x2="428.7" y2="733.02" stroke="#a61f30" stroke-width="0.8" opacity="0.65"/>
<circle cx="428.7" cy="746.49" r="2.5" fill="#a61f30"/>
<text stroke="#231f20" x="412.2" y="682.6" transform="rotate(-90 412.2 682.6)">0.68</text>
<text stroke="#231f20" x="421.9" y="682.6" transform="rotate(-90 421.9 682.6)">0.063</text>
<text stroke="#231f20" x="431.8" y="682.6" transform="rotate(-90 431.8 682.6)">0.054</text>
<line x1="444.2" y1="790.5" x2="484.2" y2="790.5" stroke="#7d7d7d" stroke-width="0.7"/>
<line x1="450" y1="790" x2="450" y2="791.6" stroke="#7d7d7d" stroke-width="0.5"/>
<text stroke="#231f20" x="450" y="800.8" text-anchor="middle">0</text>
<line x1="459.7" y1="790" x2="459.7" y2="791.6" stroke="#7d7d7d" stroke-width="0.5"/>
<text stroke="#231f20" x="459.7" y="800.8" text-anchor="middle">1</text>
<line x1="469.4" y1="790" x2="469.4" y2="791.6" stroke="#7d7d7d" stroke-width="0.5"/>
<text stroke="#231f20" x="469.4" y="800.8" text-anchor="middle">3</text>
<line x1="479.1" y1="790" x2="479.1" y2="791.6" stroke="#7d7d7d" stroke-width="0.5"/>
<text stroke="#231f20" x="479.1" y="800.8" text-anchor="middle">5</text>
<path d="M450.00,784.82 L459.70,784.82 L469.40,775.50 L479.10,783.78" fill="none" stroke="#a9a9a9" stroke-width="0.55" stroke-dasharray="1.6,1"/>
<path d="M450.00,785.86 L459.70,787.93 L469.40,787.93 L479.10,787.93" fill="none" stroke="#a9a9a9" stroke-width="0.55" stroke-dasharray="1.6,1"/>
<path d="M450.00,786.89 L459.70,788.96 L469.40,788.96 L479.10,788.96" fill="none" stroke="#a9a9a9" stroke-width="0.55" stroke-dasharray="1.6,1"/>
<path d="M450.00,787.93 L459.70,790.00 L469.40,790.00 L479.10,790.00" fill="none" stroke="#a9a9a9" stroke-width="0.55" stroke-dasharray="1.6,1"/>
<circle cx="450" cy="784.82" r="1.45" fill="#b8b8b8"/>
<circle cx="450" cy="785.86" r="1.45" fill="#b8b8b8"/>
<circle cx="450" cy="786.89" r="1.45" fill="#b8b8b8"/>
<circle cx="450" cy="787.93" r="1.45" fill="#b8b8b8"/>
<circle cx="459.7" cy="784.82" r="1.45" fill="#b8b8b8"/>
<circle cx="459.7" cy="787.93" r="1.45" fill="#b8b8b8"/>
<circle cx="459.7" cy="788.96" r="1.45" fill="#b8b8b8"/>
<circle cx="459.7" cy="790" r="1.45" fill="#b8b8b8"/>
<circle cx="469.4" cy="775.5" r="1.45" fill="#b8b8b8"/>
<circle cx="469.4" cy="787.93" r="1.45" fill="#b8b8b8"/>
<circle cx="469.4" cy="788.96" r="1.45" fill="#b8b8b8"/>
<circle cx="469.4" cy="790" r="1.45" fill="#b8b8b8"/>
<circle cx="479.1" cy="783.78" r="1.45" fill="#b8b8b8"/>
<circle cx="479.1" cy="787.93" r="1.45" fill="#b8b8b8"/>
<circle cx="479.1" cy="788.96" r="1.45" fill="#b8b8b8"/>
<circle cx="479.1" cy="790" r="1.45" fill="#b8b8b8"/>
<line x1="450" y1="787.2" x2="450" y2="785.55" stroke="#4a8fc9" stroke-width="0.8" opacity="0.65"/>
<circle cx="450" cy="786.37" r="2.5" fill="#4a8fc9"/>
<line x1="459.7" y1="789.07" x2="459.7" y2="787.82" stroke="#f4a84e" stroke-width="0.8" opacity="0.65"/>
<circle cx="459.7" cy="788.45" r="2.5" fill="#f4a84e"/>
<line x1="469.4" y1="790" x2="469.4" y2="785.86" stroke="#e9503a" stroke-width="0.8" opacity="0.65"/>
<circle cx="469.4" cy="787.93" r="2.5" fill="#e9503a"/>
<line x1="479.1" y1="790" x2="479.1" y2="787.93" stroke="#a61f30" stroke-width="0.8" opacity="0.65"/>
<circle cx="479.1" cy="788.96" r="2.5" fill="#a61f30"/>
<text stroke="#231f20" x="462.8" y="682.6" transform="rotate(-90 462.8 682.6)">0.12</text>
<text stroke="#231f20" x="472.5" y="682.6" transform="rotate(-90 472.5 682.6)">1.0</text>
<text stroke="#231f20" x="482.2" y="682.6" transform="rotate(-90 482.2 682.6)">0.19</text>
<line x1="342.5" y1="686.4" x2="342.5" y2="790" stroke="#7d7d7d" stroke-width="0.7"/>
<line x1="340.4" y1="790" x2="342" y2="790" stroke="#7d7d7d" stroke-width="0.5"/>
<text x="337.6" y="792.8" text-anchor="end" fill="#555555" stroke="#555555">0.0</text>
<line x1="340.4" y1="769.28" x2="342" y2="769.28" stroke="#7d7d7d" stroke-width="0.5"/>
<text x="337.6" y="772.08" text-anchor="end" fill="#555555" stroke="#555555">0.2</text>
<line x1="340.4" y1="748.56" x2="342" y2="748.56" stroke="#7d7d7d" stroke-width="0.5"/>
<text x="337.6" y="751.36" text-anchor="end" fill="#555555" stroke="#555555">0.4</text>
<line x1="340.4" y1="727.84" x2="342" y2="727.84" stroke="#7d7d7d" stroke-width="0.5"/>
<text x="337.6" y="730.64" text-anchor="end" fill="#555555" stroke="#555555">0.6</text>
<line x1="340.4" y1="707.12" x2="342" y2="707.12" stroke="#7d7d7d" stroke-width="0.5"/>
<text x="337.6" y="709.92" text-anchor="end" fill="#555555" stroke="#555555">0.8</text>
<line x1="340.4" y1="686.4" x2="342" y2="686.4" stroke="#7d7d7d" stroke-width="0.5"/>
<text x="337.6" y="689.2" text-anchor="end" fill="#555555" stroke="#555555">1.0</text>
<text stroke="#231f20" x="413.1" y="810" text-anchor="middle">CNO (mg/kg)</text>
<text stroke="#231f20" x="321.7" y="739.8" text-anchor="middle" font-size="8.4" transform="rotate(-90 321.7 739.8)"><tspan font-style="italic">P</tspan><tspan font-size="5.4" dy="1.8">ws</tspan></text>
<text x="502.2" y="653.2" font-weight="bold" fill="#000" stroke="#000" font-size="13">p</text>
<text stroke="#231f20" x="552.8" y="655.2" text-anchor="middle" font-weight="bold" font-size="10.4">EGFP</text>
<text x="604.4" y="655.2" text-anchor="middle" font-weight="bold" fill="#e3178c" stroke="#e3178c" font-size="10.4">hM3Dq</text>
<text x="653.5" y="655.2" text-anchor="middle" font-weight="bold" fill="#127a4e" stroke="#127a4e" font-size="10.4">hM4Di</text>
<text stroke="#231f20" x="506" y="678.8">Adj. <tspan font-style="italic">P</tspan> =</text>
<line x1="531.1" y1="790.5" x2="571.7" y2="790.5" stroke="#7d7d7d" stroke-width="0.7"/>
<line x1="537" y1="790" x2="537" y2="791.6" stroke="#7d7d7d" stroke-width="0.5"/>
<text stroke="#231f20" x="537" y="800.8" text-anchor="middle">0</text>
<line x1="546.9" y1="790" x2="546.9" y2="791.6" stroke="#7d7d7d" stroke-width="0.5"/>
<text stroke="#231f20" x="546.9" y="800.8" text-anchor="middle">1</text>
<line x1="556.8" y1="790" x2="556.8" y2="791.6" stroke="#7d7d7d" stroke-width="0.5"/>
<text stroke="#231f20" x="556.8" y="800.8" text-anchor="middle">3</text>
<line x1="566.8" y1="790" x2="566.8" y2="791.6" stroke="#7d7d7d" stroke-width="0.5"/>
<text stroke="#231f20" x="566.8" y="800.8" text-anchor="middle">5</text>
<path d="M537.00,781.71 L546.90,780.68 L556.80,778.60 L566.80,779.64" fill="none" stroke="#a9a9a9" stroke-width="0.55" stroke-dasharray="1.6,1"/>
<path d="M537.00,782.75 L546.90,783.78 L556.80,782.75 L566.80,784.82" fill="none" stroke="#a9a9a9" stroke-width="0.55" stroke-dasharray="1.6,1"/>
<path d="M537.00,784.82 L546.90,784.82 L556.80,784.82 L566.80,785.86" fill="none" stroke="#a9a9a9" stroke-width="0.55" stroke-dasharray="1.6,1"/>
<path d="M537.00,785.86 L546.90,785.86 L556.80,785.86 L566.80,786.89" fill="none" stroke="#a9a9a9" stroke-width="0.55" stroke-dasharray="1.6,1"/>
<circle cx="537" cy="781.71" r="1.45" fill="#b8b8b8"/>
<circle cx="537" cy="782.75" r="1.45" fill="#b8b8b8"/>
<circle cx="537" cy="784.82" r="1.45" fill="#b8b8b8"/>
<circle cx="537" cy="785.86" r="1.45" fill="#b8b8b8"/>
<circle cx="546.9" cy="780.68" r="1.45" fill="#b8b8b8"/>
<circle cx="546.9" cy="783.78" r="1.45" fill="#b8b8b8"/>
<circle cx="546.9" cy="784.82" r="1.45" fill="#b8b8b8"/>
<circle cx="546.9" cy="785.86" r="1.45" fill="#b8b8b8"/>
<circle cx="556.8" cy="778.6" r="1.45" fill="#b8b8b8"/>
<circle cx="556.8" cy="782.75" r="1.45" fill="#b8b8b8"/>
<circle cx="556.8" cy="784.82" r="1.45" fill="#b8b8b8"/>
<circle cx="556.8" cy="785.86" r="1.45" fill="#b8b8b8"/>
<circle cx="566.8" cy="779.64" r="1.45" fill="#b8b8b8"/>
<circle cx="566.8" cy="784.82" r="1.45" fill="#b8b8b8"/>
<circle cx="566.8" cy="785.86" r="1.45" fill="#b8b8b8"/>
<circle cx="566.8" cy="786.89" r="1.45" fill="#b8b8b8"/>
<line x1="537" y1="784.82" x2="537" y2="782.75" stroke="#4a8fc9" stroke-width="0.8" opacity="0.65"/>
<circle cx="537" cy="783.78" r="2.5" fill="#4a8fc9"/>
<line x1="546.9" y1="785.34" x2="546.9" y2="783.27" stroke="#f4a84e" stroke-width="0.8" opacity="0.65"/>
<circle cx="546.9" cy="784.3" r="2.5" fill="#f4a84e"/>
<line x1="556.8" y1="784.82" x2="556.8" y2="782.75" stroke="#e9503a" stroke-width="0.8" opacity="0.65"/>
<circle cx="556.8" cy="783.78" r="2.5" fill="#e9503a"/>
<line x1="566.8" y1="786.37" x2="566.8" y2="784.3" stroke="#a61f30" stroke-width="0.8" opacity="0.65"/>
<circle cx="566.8" cy="785.34" r="2.5" fill="#a61f30"/>
<text stroke="#231f20" x="550" y="682.6" transform="rotate(-90 550 682.6)">1.0</text>
<text stroke="#231f20" x="559.9" y="682.6" transform="rotate(-90 559.9 682.6)">1.0</text>
<text stroke="#231f20" x="569.9" y="682.6" transform="rotate(-90 569.9 682.6)">1.0</text>
<line x1="582.2" y1="790.5" x2="622.2" y2="790.5" stroke="#7d7d7d" stroke-width="0.7"/>
<line x1="587.8" y1="790" x2="587.8" y2="791.6" stroke="#7d7d7d" stroke-width="0.5"/>
<text stroke="#231f20" x="587.8" y="800.8" text-anchor="middle">0</text>
<line x1="597.6" y1="790" x2="597.6" y2="791.6" stroke="#7d7d7d" stroke-width="0.5"/>
<text stroke="#231f20" x="597.6" y="800.8" text-anchor="middle">1</text>
<line x1="607.5" y1="790" x2="607.5" y2="791.6" stroke="#7d7d7d" stroke-width="0.5"/>
<text stroke="#231f20" x="607.5" y="800.8" text-anchor="middle">3</text>
<line x1="617.4" y1="790" x2="617.4" y2="791.6" stroke="#7d7d7d" stroke-width="0.5"/>
<text stroke="#231f20" x="617.4" y="800.8" text-anchor="middle">5</text>
<path d="M587.80,779.64 L597.60,774.46 L607.50,782.75 L617.40,770.32" fill="none" stroke="#a9a9a9" stroke-width="0.55" stroke-dasharray="1.6,1"/>
<path d="M587.80,782.75 L597.60,776.53 L607.50,787.93 L617.40,786.89" fill="none" stroke="#a9a9a9" stroke-width="0.55" stroke-dasharray="1.6,1"/>
<path d="M587.80,784.82 L597.60,779.64 L607.50,788.96 L617.40,788.96" fill="none" stroke="#a9a9a9" stroke-width="0.55" stroke-dasharray="1.6,1"/>
<path d="M587.80,785.86 L597.60,784.82 L607.50,790.00 L617.40,790.00" fill="none" stroke="#a9a9a9" stroke-width="0.55" stroke-dasharray="1.6,1"/>
<path d="M597.60,790.00" fill="none" stroke="#a9a9a9" stroke-width="0.55" stroke-dasharray="1.6,1"/>
<circle cx="587.8" cy="779.64" r="1.45" fill="#b8b8b8"/>
<circle cx="587.8" cy="782.75" r="1.45" fill="#b8b8b8"/>
<circle cx="587.8" cy="784.82" r="1.45" fill="#b8b8b8"/>
<circle cx="587.8" cy="785.86" r="1.45" fill="#b8b8b8"/>
<circle cx="597.6" cy="774.46" r="1.45" fill="#b8b8b8"/>
<circle cx="597.6" cy="776.53" r="1.45" fill="#b8b8b8"/>
<circle cx="597.6" cy="779.64" r="1.45" fill="#b8b8b8"/>
<circle cx="597.6" cy="784.82" r="1.45" fill="#b8b8b8"/>
<circle cx="597.6" cy="790" r="1.45" fill="#b8b8b8"/>
<circle cx="607.5" cy="782.75" r="1.45" fill="#b8b8b8"/>
<circle cx="607.5" cy="787.93" r="1.45" fill="#b8b8b8"/>
<circle cx="607.5" cy="788.96" r="1.45" fill="#b8b8b8"/>
<circle cx="607.5" cy="790" r="1.45" fill="#b8b8b8"/>
<circle cx="617.4" cy="770.32" r="1.45" fill="#b8b8b8"/>
<circle cx="617.4" cy="786.89" r="1.45" fill="#b8b8b8"/>
<circle cx="617.4" cy="788.96" r="1.45" fill="#b8b8b8"/>
<circle cx="617.4" cy="790" r="1.45" fill="#b8b8b8"/>
<line x1="587.8" y1="784.82" x2="587.8" y2="781.71" stroke="#4a8fc9" stroke-width="0.8" opacity="0.65"/>
<circle cx="587.8" cy="783.27" r="2.5" fill="#4a8fc9"/>
<line x1="597.6" y1="782.75" x2="597.6" y2="778.6" stroke="#f4a84e" stroke-width="0.8" opacity="0.65"/>
<circle cx="597.6" cy="780.68" r="2.5" fill="#f4a84e"/>
<line x1="607.5" y1="789.27" x2="607.5" y2="787.62" stroke="#e9503a" stroke-width="0.8" opacity="0.65"/>
<circle cx="607.5" cy="788.45" r="2.5" fill="#e9503a"/>
<line x1="617.4" y1="787.41" x2="617.4" y2="785.34" stroke="#a61f30" stroke-width="0.8" opacity="0.65"/>
<circle cx="617.4" cy="786.37" r="2.5" fill="#a61f30"/>
<text stroke="#231f20" x="600.7" y="682.6" transform="rotate(-90 600.7 682.6)">0.72</text>
<text stroke="#231f20" x="610.6" y="682.6" transform="rotate(-90 610.6 682.6)">0.011</text>
<text stroke="#231f20" x="620.5" y="682.6" transform="rotate(-90 620.5 682.6)">0.88</text>
<line x1="632.4" y1="790.5" x2="673.3" y2="790.5" stroke="#7d7d7d" stroke-width="0.7"/>
<line x1="638.9" y1="790" x2="638.9" y2="791.6" stroke="#7d7d7d" stroke-width="0.5"/>
<text stroke="#231f20" x="638.9" y="800.8" text-anchor="middle">0</text>
<line x1="648.8" y1="790" x2="648.8" y2="791.6" stroke="#7d7d7d" stroke-width="0.5"/>
<text stroke="#231f20" x="648.8" y="800.8" text-anchor="middle">1</text>
<line x1="658.6" y1="790" x2="658.6" y2="791.6" stroke="#7d7d7d" stroke-width="0.5"/>
<text stroke="#231f20" x="658.6" y="800.8" text-anchor="middle">3</text>
<line x1="668.5" y1="790" x2="668.5" y2="791.6" stroke="#7d7d7d" stroke-width="0.5"/>
<text stroke="#231f20" x="668.5" y="800.8" text-anchor="middle">5</text>
<path d="M638.90,782.75 L648.80,686.40 L658.60,686.40 L668.50,686.40" fill="none" stroke="#a9a9a9" stroke-width="0.55" stroke-dasharray="1.6,1"/>
<path d="M638.90,784.82 L648.80,762.03 L658.60,686.40 L668.50,755.81" fill="none" stroke="#a9a9a9" stroke-width="0.55" stroke-dasharray="1.6,1"/>
<path d="M638.90,785.86 L648.80,779.64 L658.60,779.64 L668.50,769.28" fill="none" stroke="#a9a9a9" stroke-width="0.55" stroke-dasharray="1.6,1"/>
<path d="M648.80,783.78 L658.60,782.75 L668.50,775.50" fill="none" stroke="#a9a9a9" stroke-width="0.55" stroke-dasharray="1.6,1"/>
<path d="M648.80,785.86 L658.60,785.86" fill="none" stroke="#a9a9a9" stroke-width="0.55" stroke-dasharray="1.6,1"/>
<circle cx="638.9" cy="782.75" r="1.45" fill="#b8b8b8"/>
<circle cx="638.9" cy="784.82" r="1.45" fill="#b8b8b8"/>
<circle cx="638.9" cy="785.86" r="1.45" fill="#b8b8b8"/>
<circle cx="648.8" cy="686.4" r="1.45" fill="#b8b8b8"/>
<circle cx="648.8" cy="762.03" r="1.45" fill="#b8b8b8"/>
<circle cx="648.8" cy="779.64" r="1.45" fill="#b8b8b8"/>
<circle cx="648.8" cy="783.78" r="1.45" fill="#b8b8b8"/>
<circle cx="648.8" cy="785.86" r="1.45" fill="#b8b8b8"/>
<circle cx="658.6" cy="686.4" r="1.45" fill="#b8b8b8"/>
<circle cx="658.6" cy="686.4" r="1.45" fill="#b8b8b8"/>
<circle cx="658.6" cy="779.64" r="1.45" fill="#b8b8b8"/>
<circle cx="658.6" cy="782.75" r="1.45" fill="#b8b8b8"/>
<circle cx="658.6" cy="785.86" r="1.45" fill="#b8b8b8"/>
<circle cx="668.5" cy="686.4" r="1.45" fill="#b8b8b8"/>
<circle cx="668.5" cy="755.81" r="1.45" fill="#b8b8b8"/>
<circle cx="668.5" cy="769.28" r="1.45" fill="#b8b8b8"/>
<circle cx="668.5" cy="775.5" r="1.45" fill="#b8b8b8"/>
<line x1="638.9" y1="785.34" x2="638.9" y2="783.27" stroke="#4a8fc9" stroke-width="0.8" opacity="0.65"/>
<circle cx="638.9" cy="784.3" r="2.5" fill="#4a8fc9"/>
<line x1="648.8" y1="781.19" x2="648.8" y2="756.33" stroke="#f4a84e" stroke-width="0.8" opacity="0.65"/>
<circle cx="648.8" cy="768.76" r="2.5" fill="#f4a84e"/>
<line x1="658.6" y1="739.75" x2="658.6" y2="704.53" stroke="#e9503a" stroke-width="0.8" opacity="0.65"/>
<circle cx="658.6" cy="722.14" r="2.5" fill="#e9503a"/>
<line x1="668.5" y1="730.95" x2="668.5" y2="701.94" stroke="#a61f30" stroke-width="0.8" opacity="0.65"/>
<circle cx="668.5" cy="716.44" r="2.5" fill="#a61f30"/>
<text stroke="#231f20" x="648.2" y="682.4" transform="rotate(-46 648.2 682.4)">0.70</text>
<text stroke="#231f20" x="658" y="682.4" transform="rotate(-46 658 682.4)">0.029</text>
<text stroke="#231f20" x="667.9" y="682.4" transform="rotate(-46 667.9 682.4)">7.7 × 10<tspan dy="-2.6" font-size="4.6" style="stroke-width:0.06px">−3</tspan></text>
<line x1="531.5" y1="686.4" x2="531.5" y2="790" stroke="#7d7d7d" stroke-width="0.7"/>
<line x1="529.5" y1="790" x2="531.1" y2="790" stroke="#7d7d7d" stroke-width="0.5"/>
<text x="526.7" y="792.8" text-anchor="end" fill="#555555" stroke="#555555">0.0</text>
<line x1="529.5" y1="769.28" x2="531.1" y2="769.28" stroke="#7d7d7d" stroke-width="0.5"/>
<text x="526.7" y="772.08" text-anchor="end" fill="#555555" stroke="#555555">0.2</text>
<line x1="529.5" y1="748.56" x2="531.1" y2="748.56" stroke="#7d7d7d" stroke-width="0.5"/>
<text x="526.7" y="751.36" text-anchor="end" fill="#555555" stroke="#555555">0.4</text>
<line x1="529.5" y1="727.84" x2="531.1" y2="727.84" stroke="#7d7d7d" stroke-width="0.5"/>
<text x="526.7" y="730.64" text-anchor="end" fill="#555555" stroke="#555555">0.6</text>
<line x1="529.5" y1="707.12" x2="531.1" y2="707.12" stroke="#7d7d7d" stroke-width="0.5"/>
<text x="526.7" y="709.92" text-anchor="end" fill="#555555" stroke="#555555">0.8</text>
<line x1="529.5" y1="686.4" x2="531.1" y2="686.4" stroke="#7d7d7d" stroke-width="0.5"/>
<text x="526.7" y="689.2" text-anchor="end" fill="#555555" stroke="#555555">1.0</text>
<text stroke="#231f20" x="602.2" y="810" text-anchor="middle">CNO (mg/kg)</text>
<text stroke="#231f20" x="510.9" y="739.8" text-anchor="middle" font-size="8.4" transform="rotate(-90 510.9 739.8)"><tspan font-style="italic">P</tspan><tspan font-size="5.4" dy="1.8">sw</tspan></text>
</svg>
</body></html>
